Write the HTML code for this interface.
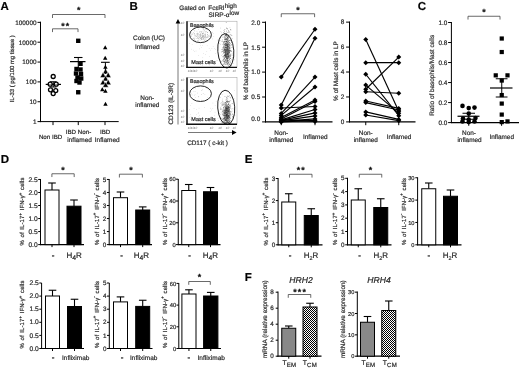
<!DOCTYPE html><html><head><meta charset="utf-8"><title>Figure</title><style>html,body{margin:0;padding:0;background:#fff}svg{display:block}text{font-family:"Liberation Sans", sans-serif;text-rendering:geometricPrecision;stroke:#2a2a2a;stroke-width:0.2px}svg{will-change:transform;filter:blur(0.3px)}</style></head><body>
<svg width="520" height="368" viewBox="0 0 520 368">
<defs><pattern id="chk" width="2" height="2" patternUnits="userSpaceOnUse"><rect width="2" height="2" fill="#fff"/><rect width="1" height="1" fill="#000"/><rect x="1" y="1" width="1" height="1" fill="#000"/></pattern></defs>
<rect width="520" height="368" fill="#fff"/>
<text x="0.6" y="10.2" font-size="11.5" text-anchor="start" fill="#000" font-weight="bold">A</text>
<text x="129.4" y="10.3" font-size="11.5" text-anchor="start" fill="#000" font-weight="bold">B</text>
<text x="417.8" y="10.2" font-size="11.5" text-anchor="start" fill="#000" font-weight="bold">C</text>
<text x="0.8" y="163.3" font-size="11.5" text-anchor="start" fill="#000" font-weight="bold">D</text>
<text x="244.8" y="163.1" font-size="11.5" text-anchor="start" fill="#000" font-weight="bold">E</text>
<text x="244.8" y="281.2" font-size="11.5" text-anchor="start" fill="#000" font-weight="bold">F</text>
<line x1="40.5" y1="21.7" x2="40.5" y2="122.1" stroke="#000" stroke-width="1" stroke-linecap="butt"/>
<line x1="40.0" y1="121.6" x2="118.7" y2="121.6" stroke="#000" stroke-width="1" stroke-linecap="butt"/>
<line x1="37.5" y1="121.6" x2="40.5" y2="121.6" stroke="#000" stroke-width="1" stroke-linecap="butt"/>
<text x="36.5" y="123.89999999999999" font-size="6.4" text-anchor="end" fill="#2a2a2a">1</text>
<line x1="37.5" y1="101.75" x2="40.5" y2="101.75" stroke="#000" stroke-width="1" stroke-linecap="butt"/>
<text x="36.5" y="104.05" font-size="6.4" text-anchor="end" fill="#2a2a2a">10</text>
<line x1="37.5" y1="81.89999999999999" x2="40.5" y2="81.89999999999999" stroke="#000" stroke-width="1" stroke-linecap="butt"/>
<text x="36.5" y="84.19999999999999" font-size="6.4" text-anchor="end" fill="#2a2a2a">100</text>
<line x1="37.5" y1="62.04999999999999" x2="40.5" y2="62.04999999999999" stroke="#000" stroke-width="1" stroke-linecap="butt"/>
<text x="36.5" y="64.35" font-size="6.4" text-anchor="end" fill="#2a2a2a">1000</text>
<line x1="37.5" y1="42.19999999999999" x2="40.5" y2="42.19999999999999" stroke="#000" stroke-width="1" stroke-linecap="butt"/>
<text x="36.5" y="44.499999999999986" font-size="6.4" text-anchor="end" fill="#2a2a2a">10000</text>
<line x1="37.5" y1="22.349999999999994" x2="40.5" y2="22.349999999999994" stroke="#000" stroke-width="1" stroke-linecap="butt"/>
<text x="36.5" y="24.649999999999995" font-size="6.4" text-anchor="end" fill="#2a2a2a">100000</text>
<line x1="53" y1="121.6" x2="53" y2="125.1" stroke="#000" stroke-width="1" stroke-linecap="butt"/>
<line x1="78.25" y1="121.6" x2="78.25" y2="125.1" stroke="#000" stroke-width="1" stroke-linecap="butt"/>
<line x1="105" y1="121.6" x2="105" y2="125.1" stroke="#000" stroke-width="1" stroke-linecap="butt"/>
<text x="13.6" y="68.8" font-size="5.9" text-anchor="middle" fill="#2a2a2a" transform="rotate(-90 13.6 68.8)">IL-33 ( pg/100 mg tissue )</text>
<text x="50.6" y="139.3" font-size="6.2" text-anchor="middle" fill="#2a2a2a">Non IBD</text>
<text x="78.5" y="134.3" font-size="6.2" text-anchor="middle" fill="#2a2a2a">IBD Non-</text>
<text x="79.6" y="141.6" font-size="6.5" text-anchor="middle" fill="#2a2a2a">inflamed</text>
<text x="105.1" y="134.3" font-size="6.2" text-anchor="middle" fill="#2a2a2a">IBD</text>
<text x="107.2" y="141.6" font-size="6.5" text-anchor="middle" fill="#2a2a2a">Inflamed</text>
<path d="M52.5 18.0V14.5H105V18.0" fill="none" stroke="#444" stroke-width="0.8"/>
<text x="78.75" y="13.3" font-size="8.8" text-anchor="middle" fill="#000" font-weight="bold">*</text>
<path d="M52.5 32.1V28.8H78V32.1" fill="none" stroke="#444" stroke-width="0.8"/>
<text x="65.85" y="28.8" font-size="8.8" text-anchor="middle" fill="#000" font-weight="bold" letter-spacing="1.2">**</text>
<line x1="45.7" y1="84.4" x2="61" y2="84.4" stroke="#000" stroke-width="1.2" stroke-linecap="butt"/>
<line x1="53.3" y1="81.75" x2="53.3" y2="87" stroke="#000" stroke-width="0.9" stroke-linecap="butt"/>
<line x1="49.75" y1="81.75" x2="56.5" y2="81.75" stroke="#000" stroke-width="1" stroke-linecap="butt"/>
<line x1="49.75" y1="87" x2="56.5" y2="87" stroke="#000" stroke-width="1" stroke-linecap="butt"/>
<circle cx="53.2" cy="76.5" r="2.0" fill="#fff" fill-opacity="0.6" stroke="#000" stroke-width="1.3"/>
<circle cx="50.2" cy="84.2" r="2.0" fill="#fff" fill-opacity="0.6" stroke="#000" stroke-width="1.3"/>
<circle cx="56.2" cy="84.2" r="2.0" fill="#fff" fill-opacity="0.6" stroke="#000" stroke-width="1.3"/>
<circle cx="50.5" cy="89.8" r="2.0" fill="#fff" fill-opacity="0.6" stroke="#000" stroke-width="1.3"/>
<circle cx="55.75" cy="90.6" r="2.0" fill="#fff" fill-opacity="0.6" stroke="#000" stroke-width="1.3"/>
<circle cx="53.2" cy="93.6" r="2.0" fill="#fff" fill-opacity="0.6" stroke="#000" stroke-width="1.3"/>
<rect x="76.05" y="38.60" width="4.4" height="4.4" fill="#000"/>
<rect x="78.3" y="61.60" width="4.4" height="4.4" fill="#000"/>
<rect x="74.3" y="66.80" width="4.4" height="4.4" fill="#000"/>
<rect x="78.3" y="67.30" width="4.4" height="4.4" fill="#000"/>
<rect x="73.8" y="71.30" width="4.4" height="4.4" fill="#000"/>
<rect x="78.8" y="71.80" width="4.4" height="4.4" fill="#000"/>
<rect x="75.3" y="75.30" width="4.4" height="4.4" fill="#000"/>
<rect x="79.0" y="76.30" width="4.4" height="4.4" fill="#000"/>
<rect x="74.3" y="78.80" width="4.4" height="4.4" fill="#000"/>
<rect x="77.3" y="80.30" width="4.4" height="4.4" fill="#000"/>
<rect x="76.05" y="90.05" width="4.4" height="4.4" fill="#000"/>
<line x1="70" y1="61.6" x2="85.5" y2="61.6" stroke="#000" stroke-width="1.25" stroke-linecap="butt"/>
<line x1="78.25" y1="57.5" x2="78.25" y2="68" stroke="#000" stroke-width="1" stroke-linecap="butt"/>
<line x1="74" y1="57.5" x2="82.5" y2="57.5" stroke="#000" stroke-width="1.1" stroke-linecap="butt"/>
<path d="M105.2 45.20L107.4 49.30H103.0Z" fill="#000"/>
<path d="M105.2 55.70L107.4 59.80H103.0Z" fill="#000"/>
<path d="M105.4 64.70L107.60000000000001 68.80H103.2Z" fill="#000"/>
<path d="M102.3 87.10L104.5 91.20H100.1Z" fill="#000"/>
<path d="M105.4 88.70L107.60000000000001 92.80H103.2Z" fill="#000"/>
<path d="M105.5 101.70L107.7 105.80H103.3Z" fill="#000"/>
<path d="M105.6 68.50L108.5 73.80H102.69999999999999Z" fill="#000" stroke="#fff" stroke-width="0.45"/>
<path d="M103 72.20L105.9 77.50H100.1Z" fill="#000" stroke="#fff" stroke-width="0.45"/>
<path d="M108.2 72.20L111.10000000000001 77.50H105.3Z" fill="#000" stroke="#fff" stroke-width="0.45"/>
<path d="M105.6 75.60L108.5 80.90H102.69999999999999Z" fill="#000" stroke="#fff" stroke-width="0.45"/>
<path d="M103 79.40L105.9 84.70H100.1Z" fill="#000" stroke="#fff" stroke-width="0.45"/>
<path d="M108.2 79.40L111.10000000000001 84.70H105.3Z" fill="#000" stroke="#fff" stroke-width="0.45"/>
<path d="M105.6 82.00L108.5 87.30H102.69999999999999Z" fill="#000" stroke="#fff" stroke-width="0.45"/>
<line x1="101" y1="62.3" x2="109.7" y2="62.3" stroke="#000" stroke-width="1.1" stroke-linecap="butt"/>
<line x1="105.4" y1="62.3" x2="105.4" y2="74" stroke="#000" stroke-width="1" stroke-linecap="butt"/>
<text x="179.3" y="9.6" font-size="6.3" text-anchor="start" fill="#2a2a2a">Gated on</text>
<text x="208.3" y="9.6" font-size="6.4" text-anchor="start" fill="#2a2a2a">FcεRI<tspan dy="-2.1" font-size="6.4">high</tspan><tspan dy="2.1">​</tspan></text>
<text x="208.5" y="17.3" font-size="6.5" text-anchor="start" fill="#2a2a2a">SIRP-α<tspan dy="-2.3" font-size="6.4">low</tspan><tspan dy="2.3">​</tspan></text>
<text x="149" y="40.2" font-size="6.4" text-anchor="middle" fill="#2a2a2a">Colon (UC)</text>
<text x="147.3" y="49.3" font-size="6.4" text-anchor="middle" fill="#2a2a2a">Inflamed</text>
<text x="147.3" y="100.2" font-size="6.4" text-anchor="middle" fill="#2a2a2a">Non-</text>
<text x="147.3" y="107.2" font-size="6.4" text-anchor="middle" fill="#2a2a2a">inflamed</text>
<text x="173.4" y="103.7" font-size="6.4" text-anchor="middle" fill="#2a2a2a" transform="rotate(-90 173.4 103.7)">CD123 (IL-3R)</text>
<text x="207.5" y="144.8" font-size="6.4" text-anchor="middle" fill="#2a2a2a">CD117 ( c-kit )</text>
<line x1="178" y1="124.5" x2="178" y2="22" stroke="#555" stroke-width="0.8" stroke-linecap="butt"/>
<path d="M178 19L175.6 23.4H180.4Z" fill="#000"/>
<line x1="188" y1="132.5" x2="233" y2="132.5" stroke="#555" stroke-width="0.8" stroke-linecap="butt"/>
<path d="M236.6 132.5L232 130.1V134.9Z" fill="#000"/>
<rect x="187" y="21.2" width="50" height="46.2" fill="#fff" stroke="#999" stroke-width="0.5"/>
<g><rect x="199.9" y="36.8" width="0.5" height="0.5" fill="#8a8a8a"/><rect x="200.1" y="34.4" width="0.5" height="0.5" fill="#8a8a8a"/><rect x="197.1" y="34.7" width="0.5" height="0.5" fill="#8a8a8a"/><rect x="205.7" y="36.6" width="0.5" height="0.5" fill="#8a8a8a"/><rect x="205.4" y="36.0" width="0.5" height="0.5" fill="#8a8a8a"/><rect x="202.7" y="35.9" width="0.5" height="0.5" fill="#8a8a8a"/><rect x="194.0" y="37.9" width="0.5" height="0.5" fill="#8a8a8a"/><rect x="203.1" y="36.8" width="0.5" height="0.5" fill="#8a8a8a"/><rect x="193.9" y="30.1" width="0.5" height="0.5" fill="#8a8a8a"/><rect x="197.3" y="33.9" width="0.5" height="0.5" fill="#8a8a8a"/><rect x="202.3" y="35.2" width="0.5" height="0.5" fill="#8a8a8a"/><rect x="203.2" y="33.4" width="0.5" height="0.5" fill="#8a8a8a"/><rect x="202.3" y="36.5" width="0.5" height="0.5" fill="#8a8a8a"/><rect x="198.2" y="40.5" width="0.5" height="0.5" fill="#8a8a8a"/><rect x="203.3" y="38.9" width="0.5" height="0.5" fill="#8a8a8a"/><rect x="198.4" y="33.1" width="0.5" height="0.5" fill="#8a8a8a"/><rect x="199.6" y="35.0" width="0.5" height="0.5" fill="#8a8a8a"/><rect x="203.7" y="36.0" width="0.5" height="0.5" fill="#8a8a8a"/><rect x="199.1" y="32.4" width="0.5" height="0.5" fill="#8a8a8a"/><rect x="198.8" y="39.0" width="0.5" height="0.5" fill="#8a8a8a"/><rect x="197.6" y="36.0" width="0.5" height="0.5" fill="#8a8a8a"/><rect x="202.8" y="30.8" width="0.5" height="0.5" fill="#8a8a8a"/><rect x="201.2" y="39.2" width="0.5" height="0.5" fill="#8a8a8a"/><rect x="192.5" y="34.3" width="0.5" height="0.5" fill="#8a8a8a"/><rect x="200.6" y="32.8" width="0.5" height="0.5" fill="#8a8a8a"/><rect x="203.1" y="35.1" width="0.5" height="0.5" fill="#8a8a8a"/><rect x="194.8" y="37.8" width="0.5" height="0.5" fill="#8a8a8a"/><rect x="203.8" y="38.1" width="0.5" height="0.5" fill="#8a8a8a"/><rect x="207.1" y="36.4" width="0.5" height="0.5" fill="#8a8a8a"/><rect x="201.5" y="31.4" width="0.5" height="0.5" fill="#8a8a8a"/><rect x="203.6" y="33.5" width="0.5" height="0.5" fill="#8a8a8a"/><rect x="199.1" y="31.5" width="0.5" height="0.5" fill="#8a8a8a"/><rect x="196.9" y="33.7" width="0.5" height="0.5" fill="#8a8a8a"/><rect x="206.4" y="29.2" width="0.5" height="0.5" fill="#8a8a8a"/><rect x="194.9" y="36.0" width="0.5" height="0.5" fill="#8a8a8a"/><rect x="207.1" y="37.0" width="0.5" height="0.5" fill="#8a8a8a"/><rect x="193.0" y="29.0" width="0.5" height="0.5" fill="#8a8a8a"/><rect x="202.5" y="33.1" width="0.5" height="0.5" fill="#8a8a8a"/><rect x="196.3" y="38.2" width="0.5" height="0.5" fill="#8a8a8a"/><rect x="205.6" y="35.8" width="0.5" height="0.5" fill="#8a8a8a"/><rect x="202.0" y="36.6" width="0.5" height="0.5" fill="#8a8a8a"/><rect x="207.7" y="37.2" width="0.5" height="0.5" fill="#8a8a8a"/><rect x="203.2" y="36.9" width="0.5" height="0.5" fill="#8a8a8a"/><rect x="194.4" y="39.1" width="0.5" height="0.5" fill="#8a8a8a"/><rect x="205.0" y="36.9" width="0.5" height="0.5" fill="#8a8a8a"/><rect x="192.7" y="33.4" width="0.5" height="0.5" fill="#8a8a8a"/><rect x="204.5" y="29.9" width="0.5" height="0.5" fill="#8a8a8a"/><rect x="200.2" y="38.4" width="0.5" height="0.5" fill="#8a8a8a"/><rect x="195.5" y="40.1" width="0.5" height="0.5" fill="#8a8a8a"/><rect x="203.3" y="34.8" width="0.5" height="0.5" fill="#8a8a8a"/><rect x="202.4" y="37.2" width="0.5" height="0.5" fill="#8a8a8a"/><rect x="201.5" y="38.7" width="0.5" height="0.5" fill="#8a8a8a"/><rect x="198.2" y="34.1" width="0.5" height="0.5" fill="#8a8a8a"/><rect x="205.4" y="35.4" width="0.5" height="0.5" fill="#8a8a8a"/><rect x="197.3" y="38.1" width="0.5" height="0.5" fill="#8a8a8a"/><rect x="207.2" y="34.0" width="0.5" height="0.5" fill="#8a8a8a"/><rect x="195.2" y="34.9" width="0.5" height="0.5" fill="#8a8a8a"/><rect x="200.4" y="34.4" width="0.5" height="0.5" fill="#8a8a8a"/><rect x="206.9" y="32.2" width="0.5" height="0.5" fill="#8a8a8a"/><rect x="206.3" y="31.5" width="0.5" height="0.5" fill="#8a8a8a"/><rect x="197.7" y="37.2" width="0.5" height="0.5" fill="#8a8a8a"/><rect x="205.7" y="37.9" width="0.5" height="0.5" fill="#8a8a8a"/><rect x="202.4" y="35.7" width="0.5" height="0.5" fill="#8a8a8a"/><rect x="201.6" y="37.0" width="0.5" height="0.5" fill="#8a8a8a"/><rect x="200.3" y="36.1" width="0.5" height="0.5" fill="#8a8a8a"/><rect x="203.4" y="35.3" width="0.5" height="0.5" fill="#8a8a8a"/><rect x="204.2" y="37.0" width="0.5" height="0.5" fill="#8a8a8a"/><rect x="209.4" y="36.3" width="0.5" height="0.5" fill="#8a8a8a"/><rect x="199.2" y="34.2" width="0.5" height="0.5" fill="#8a8a8a"/><rect x="200.9" y="38.1" width="0.5" height="0.5" fill="#8a8a8a"/><rect x="199.6" y="36.5" width="0.5" height="0.5" fill="#8a8a8a"/><rect x="208.7" y="29.0" width="0.5" height="0.5" fill="#8a8a8a"/><rect x="196.3" y="36.0" width="0.5" height="0.5" fill="#8a8a8a"/><rect x="202.7" y="36.0" width="0.5" height="0.5" fill="#8a8a8a"/><rect x="199.2" y="37.3" width="0.5" height="0.5" fill="#8a8a8a"/><rect x="202.2" y="33.7" width="0.5" height="0.5" fill="#8a8a8a"/><rect x="211.2" y="36.4" width="0.5" height="0.5" fill="#8a8a8a"/><rect x="198.7" y="35.0" width="0.5" height="0.5" fill="#8a8a8a"/><rect x="200.1" y="35.1" width="0.5" height="0.5" fill="#8a8a8a"/><rect x="189.5" y="33.8" width="0.5" height="0.5" fill="#8a8a8a"/><rect x="205.2" y="31.8" width="0.5" height="0.5" fill="#8a8a8a"/><rect x="200.7" y="38.2" width="0.5" height="0.5" fill="#8a8a8a"/><rect x="204.6" y="39.8" width="0.5" height="0.5" fill="#8a8a8a"/><rect x="193.9" y="34.2" width="0.5" height="0.5" fill="#8a8a8a"/><rect x="199.6" y="37.2" width="0.5" height="0.5" fill="#8a8a8a"/><rect x="205.6" y="29.0" width="0.5" height="0.5" fill="#8a8a8a"/><rect x="205.6" y="31.0" width="0.5" height="0.5" fill="#8a8a8a"/><rect x="203.9" y="30.8" width="0.5" height="0.5" fill="#8a8a8a"/><rect x="201.7" y="38.9" width="0.5" height="0.5" fill="#8a8a8a"/><rect x="200.4" y="35.9" width="0.5" height="0.5" fill="#8a8a8a"/><rect x="204.3" y="35.7" width="0.5" height="0.5" fill="#8a8a8a"/><rect x="200.6" y="39.9" width="0.5" height="0.5" fill="#8a8a8a"/><rect x="205.4" y="34.4" width="0.5" height="0.5" fill="#8a8a8a"/><rect x="212.5" y="31.9" width="0.5" height="0.5" fill="#8a8a8a"/><rect x="204.8" y="34.5" width="0.5" height="0.5" fill="#8a8a8a"/><rect x="201.6" y="37.4" width="0.5" height="0.5" fill="#8a8a8a"/><rect x="201.9" y="37.2" width="0.5" height="0.5" fill="#8a8a8a"/><rect x="194.6" y="30.8" width="0.5" height="0.5" fill="#8a8a8a"/><rect x="203.6" y="32.4" width="0.5" height="0.5" fill="#8a8a8a"/><rect x="196.7" y="30.9" width="0.5" height="0.5" fill="#8a8a8a"/><rect x="206.3" y="37.5" width="0.5" height="0.5" fill="#8a8a8a"/><rect x="207.2" y="32.5" width="0.5" height="0.5" fill="#8a8a8a"/><rect x="201.0" y="31.9" width="0.5" height="0.5" fill="#8a8a8a"/><rect x="204.2" y="40.1" width="0.5" height="0.5" fill="#8a8a8a"/><rect x="197.3" y="40.0" width="0.5" height="0.5" fill="#8a8a8a"/><rect x="205.1" y="34.8" width="0.5" height="0.5" fill="#8a8a8a"/><rect x="192.7" y="39.5" width="0.5" height="0.5" fill="#8a8a8a"/><rect x="200.6" y="33.5" width="0.5" height="0.5" fill="#8a8a8a"/><rect x="202.7" y="36.5" width="0.5" height="0.5" fill="#8a8a8a"/><rect x="207.3" y="32.2" width="0.5" height="0.5" fill="#8a8a8a"/><rect x="205.8" y="39.8" width="0.5" height="0.5" fill="#8a8a8a"/><rect x="207.1" y="34.8" width="0.5" height="0.5" fill="#8a8a8a"/><rect x="197.9" y="38.4" width="0.5" height="0.5" fill="#8a8a8a"/><rect x="201.5" y="35.7" width="0.5" height="0.5" fill="#8a8a8a"/><rect x="207.0" y="34.5" width="0.5" height="0.5" fill="#8a8a8a"/><rect x="191.4" y="34.1" width="0.5" height="0.5" fill="#8a8a8a"/><rect x="193.2" y="37.8" width="0.5" height="0.5" fill="#8a8a8a"/><rect x="202.3" y="33.5" width="0.5" height="0.5" fill="#8a8a8a"/><rect x="201.0" y="37.8" width="0.5" height="0.5" fill="#8a8a8a"/><rect x="201.3" y="39.3" width="0.5" height="0.5" fill="#8a8a8a"/><rect x="200.7" y="38.4" width="0.5" height="0.5" fill="#8a8a8a"/><rect x="207.3" y="40.1" width="0.5" height="0.5" fill="#8a8a8a"/><rect x="198.2" y="37.9" width="0.5" height="0.5" fill="#8a8a8a"/><rect x="193.1" y="32.0" width="0.5" height="0.5" fill="#8a8a8a"/><rect x="192.8" y="38.5" width="0.5" height="0.5" fill="#8a8a8a"/><rect x="195.8" y="35.3" width="0.5" height="0.5" fill="#8a8a8a"/><rect x="200.2" y="35.2" width="0.5" height="0.5" fill="#8a8a8a"/><rect x="198.5" y="36.0" width="0.5" height="0.5" fill="#8a8a8a"/><rect x="208.5" y="35.4" width="0.5" height="0.5" fill="#8a8a8a"/><rect x="203.2" y="38.3" width="0.5" height="0.5" fill="#8a8a8a"/><rect x="200.2" y="31.5" width="0.5" height="0.5" fill="#8a8a8a"/><rect x="198.7" y="38.5" width="0.5" height="0.5" fill="#8a8a8a"/><rect x="194.1" y="33.5" width="0.5" height="0.5" fill="#8a8a8a"/><rect x="205.2" y="37.7" width="0.5" height="0.5" fill="#8a8a8a"/><rect x="201.0" y="37.7" width="0.5" height="0.5" fill="#8a8a8a"/><rect x="201.7" y="31.8" width="0.5" height="0.5" fill="#8a8a8a"/><rect x="194.4" y="33.4" width="0.5" height="0.5" fill="#8a8a8a"/><rect x="204.9" y="33.6" width="0.5" height="0.5" fill="#8a8a8a"/><rect x="197.2" y="33.0" width="0.5" height="0.5" fill="#8a8a8a"/><rect x="194.6" y="34.9" width="0.5" height="0.5" fill="#8a8a8a"/><rect x="196.0" y="36.4" width="0.5" height="0.5" fill="#8a8a8a"/><rect x="191.1" y="36.3" width="0.5" height="0.5" fill="#8a8a8a"/><rect x="198.3" y="29.5" width="0.5" height="0.5" fill="#8a8a8a"/><rect x="204.0" y="34.5" width="0.5" height="0.5" fill="#8a8a8a"/><rect x="191.6" y="32.7" width="0.5" height="0.5" fill="#8a8a8a"/><rect x="202.2" y="33.9" width="0.5" height="0.5" fill="#8a8a8a"/><rect x="204.3" y="37.5" width="0.5" height="0.5" fill="#8a8a8a"/><rect x="203.8" y="36.3" width="0.5" height="0.5" fill="#8a8a8a"/><rect x="206.6" y="37.3" width="0.5" height="0.5" fill="#8a8a8a"/><rect x="202.9" y="29.0" width="0.5" height="0.5" fill="#8a8a8a"/><rect x="204.8" y="39.2" width="0.5" height="0.5" fill="#8a8a8a"/><rect x="199.8" y="33.9" width="0.5" height="0.5" fill="#8a8a8a"/><rect x="209.1" y="30.0" width="0.5" height="0.5" fill="#8a8a8a"/><rect x="203.0" y="42.6" width="0.5" height="0.5" fill="#8a8a8a"/><rect x="197.1" y="37.4" width="0.5" height="0.5" fill="#8a8a8a"/><rect x="208.9" y="34.9" width="0.5" height="0.5" fill="#8a8a8a"/><rect x="203.4" y="38.0" width="0.5" height="0.5" fill="#8a8a8a"/><rect x="197.2" y="35.0" width="0.5" height="0.5" fill="#8a8a8a"/><rect x="202.2" y="37.8" width="0.5" height="0.5" fill="#8a8a8a"/><rect x="200.9" y="34.7" width="0.5" height="0.5" fill="#8a8a8a"/><rect x="196.7" y="34.2" width="0.5" height="0.5" fill="#8a8a8a"/><rect x="204.7" y="35.6" width="0.5" height="0.5" fill="#8a8a8a"/><rect x="197.4" y="32.8" width="0.5" height="0.5" fill="#8a8a8a"/><rect x="212.2" y="38.7" width="0.5" height="0.5" fill="#8a8a8a"/><rect x="203.7" y="29.0" width="0.5" height="0.5" fill="#8a8a8a"/><rect x="203.6" y="36.7" width="0.5" height="0.5" fill="#8a8a8a"/><rect x="208.1" y="36.6" width="0.5" height="0.5" fill="#8a8a8a"/><rect x="200.7" y="36.9" width="0.5" height="0.5" fill="#8a8a8a"/><rect x="192.8" y="38.4" width="0.5" height="0.5" fill="#8a8a8a"/><rect x="202.4" y="33.2" width="0.5" height="0.5" fill="#8a8a8a"/><rect x="229.0" y="64.5" width="0.55" height="0.55" fill="#333"/><rect x="224.1" y="44.7" width="0.55" height="0.55" fill="#333"/><rect x="227.1" y="51.5" width="0.55" height="0.55" fill="#333"/><rect x="225.9" y="42.2" width="0.55" height="0.55" fill="#333"/><rect x="230.4" y="58.3" width="0.55" height="0.55" fill="#333"/><rect x="224.5" y="39.2" width="0.55" height="0.55" fill="#333"/><rect x="229.7" y="57.9" width="0.55" height="0.55" fill="#333"/><rect x="229.9" y="56.5" width="0.55" height="0.55" fill="#333"/><rect x="225.0" y="52.1" width="0.55" height="0.55" fill="#333"/><rect x="222.7" y="44.0" width="0.55" height="0.55" fill="#333"/><rect x="226.5" y="54.2" width="0.55" height="0.55" fill="#333"/><rect x="225.3" y="49.0" width="0.55" height="0.55" fill="#333"/><rect x="227.4" y="53.0" width="0.55" height="0.55" fill="#333"/><rect x="227.7" y="51.7" width="0.55" height="0.55" fill="#333"/><rect x="226.0" y="56.3" width="0.55" height="0.55" fill="#333"/><rect x="226.7" y="43.4" width="0.55" height="0.55" fill="#333"/><rect x="225.5" y="50.0" width="0.55" height="0.55" fill="#333"/><rect x="226.4" y="51.3" width="0.55" height="0.55" fill="#333"/><rect x="226.6" y="51.4" width="0.55" height="0.55" fill="#333"/><rect x="226.4" y="39.9" width="0.55" height="0.55" fill="#333"/><rect x="227.4" y="58.4" width="0.55" height="0.55" fill="#333"/><rect x="227.4" y="48.5" width="0.55" height="0.55" fill="#333"/><rect x="227.4" y="42.3" width="0.55" height="0.55" fill="#333"/><rect x="223.2" y="50.5" width="0.55" height="0.55" fill="#333"/><rect x="224.9" y="55.9" width="0.55" height="0.55" fill="#333"/><rect x="224.6" y="29.0" width="0.55" height="0.55" fill="#333"/><rect x="224.7" y="62.6" width="0.55" height="0.55" fill="#333"/><rect x="225.9" y="39.0" width="0.55" height="0.55" fill="#333"/><rect x="225.2" y="54.2" width="0.55" height="0.55" fill="#333"/><rect x="227.5" y="51.4" width="0.55" height="0.55" fill="#333"/><rect x="229.3" y="55.7" width="0.55" height="0.55" fill="#333"/><rect x="226.6" y="54.8" width="0.55" height="0.55" fill="#333"/><rect x="229.6" y="57.8" width="0.55" height="0.55" fill="#333"/><rect x="228.4" y="41.3" width="0.55" height="0.55" fill="#333"/><rect x="226.3" y="55.8" width="0.55" height="0.55" fill="#333"/><rect x="226.1" y="58.6" width="0.55" height="0.55" fill="#333"/><rect x="227.7" y="57.3" width="0.55" height="0.55" fill="#333"/><rect x="228.8" y="48.3" width="0.55" height="0.55" fill="#333"/><rect x="226.0" y="57.0" width="0.55" height="0.55" fill="#333"/><rect x="228.4" y="50.1" width="0.55" height="0.55" fill="#333"/><rect x="224.5" y="51.5" width="0.55" height="0.55" fill="#333"/><rect x="227.2" y="59.0" width="0.55" height="0.55" fill="#333"/><rect x="228.0" y="50.2" width="0.55" height="0.55" fill="#333"/><rect x="228.1" y="54.3" width="0.55" height="0.55" fill="#333"/><rect x="227.0" y="50.4" width="0.55" height="0.55" fill="#333"/><rect x="226.2" y="55.5" width="0.55" height="0.55" fill="#333"/><rect x="224.7" y="45.0" width="0.55" height="0.55" fill="#333"/><rect x="226.6" y="38.3" width="0.55" height="0.55" fill="#333"/><rect x="225.8" y="33.9" width="0.55" height="0.55" fill="#333"/><rect x="225.4" y="54.5" width="0.55" height="0.55" fill="#333"/><rect x="227.6" y="49.6" width="0.55" height="0.55" fill="#333"/><rect x="226.2" y="38.7" width="0.55" height="0.55" fill="#333"/><rect x="229.9" y="54.1" width="0.55" height="0.55" fill="#333"/><rect x="228.6" y="42.9" width="0.55" height="0.55" fill="#333"/><rect x="226.3" y="35.4" width="0.55" height="0.55" fill="#333"/><rect x="228.0" y="57.5" width="0.55" height="0.55" fill="#333"/><rect x="223.2" y="49.6" width="0.55" height="0.55" fill="#333"/><rect x="227.7" y="35.9" width="0.55" height="0.55" fill="#333"/><rect x="223.3" y="41.5" width="0.55" height="0.55" fill="#333"/><rect x="225.5" y="38.8" width="0.55" height="0.55" fill="#333"/><rect x="226.7" y="52.0" width="0.55" height="0.55" fill="#333"/><rect x="227.7" y="55.6" width="0.55" height="0.55" fill="#333"/><rect x="229.3" y="59.3" width="0.55" height="0.55" fill="#333"/><rect x="224.2" y="46.0" width="0.55" height="0.55" fill="#333"/><rect x="224.7" y="41.4" width="0.55" height="0.55" fill="#333"/><rect x="226.5" y="50.0" width="0.55" height="0.55" fill="#333"/><rect x="227.5" y="37.3" width="0.55" height="0.55" fill="#333"/><rect x="224.4" y="49.8" width="0.55" height="0.55" fill="#333"/><rect x="226.2" y="47.5" width="0.55" height="0.55" fill="#333"/><rect x="226.5" y="43.9" width="0.55" height="0.55" fill="#333"/><rect x="227.9" y="52.8" width="0.55" height="0.55" fill="#333"/><rect x="226.4" y="44.6" width="0.55" height="0.55" fill="#333"/><rect x="226.3" y="28.2" width="0.55" height="0.55" fill="#333"/><rect x="224.8" y="50.3" width="0.55" height="0.55" fill="#333"/><rect x="223.9" y="51.6" width="0.55" height="0.55" fill="#333"/><rect x="226.9" y="39.0" width="0.55" height="0.55" fill="#333"/><rect x="226.1" y="47.5" width="0.55" height="0.55" fill="#333"/><rect x="227.4" y="54.9" width="0.55" height="0.55" fill="#333"/><rect x="226.5" y="43.2" width="0.55" height="0.55" fill="#333"/><rect x="226.3" y="49.5" width="0.55" height="0.55" fill="#333"/><rect x="227.9" y="52.4" width="0.55" height="0.55" fill="#333"/><rect x="225.3" y="39.2" width="0.55" height="0.55" fill="#333"/><rect x="225.9" y="44.1" width="0.55" height="0.55" fill="#333"/><rect x="224.6" y="49.1" width="0.55" height="0.55" fill="#333"/><rect x="225.7" y="50.8" width="0.55" height="0.55" fill="#333"/><rect x="227.5" y="46.7" width="0.55" height="0.55" fill="#333"/><rect x="230.8" y="47.4" width="0.55" height="0.55" fill="#333"/><rect x="228.6" y="51.0" width="0.55" height="0.55" fill="#333"/><rect x="228.6" y="31.0" width="0.55" height="0.55" fill="#333"/><rect x="225.2" y="52.0" width="0.55" height="0.55" fill="#333"/><rect x="227.2" y="60.2" width="0.55" height="0.55" fill="#333"/><rect x="228.0" y="57.6" width="0.55" height="0.55" fill="#333"/><rect x="227.5" y="48.8" width="0.55" height="0.55" fill="#333"/><rect x="227.5" y="41.4" width="0.55" height="0.55" fill="#333"/><rect x="228.7" y="41.9" width="0.55" height="0.55" fill="#333"/><rect x="226.2" y="50.2" width="0.55" height="0.55" fill="#333"/><rect x="228.7" y="50.2" width="0.55" height="0.55" fill="#333"/><rect x="225.1" y="52.1" width="0.55" height="0.55" fill="#333"/><rect x="227.6" y="55.7" width="0.55" height="0.55" fill="#333"/><rect x="225.2" y="64.0" width="0.55" height="0.55" fill="#333"/><rect x="229.6" y="50.1" width="0.55" height="0.55" fill="#333"/><rect x="227.1" y="46.6" width="0.55" height="0.55" fill="#333"/><rect x="229.1" y="44.4" width="0.55" height="0.55" fill="#333"/><rect x="227.8" y="46.2" width="0.55" height="0.55" fill="#333"/><rect x="225.4" y="55.7" width="0.55" height="0.55" fill="#333"/><rect x="229.0" y="49.9" width="0.55" height="0.55" fill="#333"/><rect x="225.4" y="56.5" width="0.55" height="0.55" fill="#333"/><rect x="226.5" y="52.5" width="0.55" height="0.55" fill="#333"/><rect x="229.3" y="59.1" width="0.55" height="0.55" fill="#333"/><rect x="226.6" y="56.3" width="0.55" height="0.55" fill="#333"/><rect x="225.4" y="49.6" width="0.55" height="0.55" fill="#333"/><rect x="223.5" y="64.3" width="0.55" height="0.55" fill="#333"/><rect x="229.1" y="40.3" width="0.55" height="0.55" fill="#333"/><rect x="223.9" y="37.0" width="0.55" height="0.55" fill="#333"/><rect x="228.7" y="46.3" width="0.55" height="0.55" fill="#333"/><rect x="226.5" y="47.5" width="0.55" height="0.55" fill="#333"/><rect x="226.4" y="41.3" width="0.55" height="0.55" fill="#333"/><rect x="226.6" y="38.5" width="0.55" height="0.55" fill="#333"/><rect x="226.5" y="52.5" width="0.55" height="0.55" fill="#333"/><rect x="227.4" y="48.1" width="0.55" height="0.55" fill="#333"/><rect x="225.0" y="51.3" width="0.55" height="0.55" fill="#333"/><rect x="225.7" y="62.5" width="0.55" height="0.55" fill="#333"/><rect x="228.0" y="49.1" width="0.55" height="0.55" fill="#333"/><rect x="225.8" y="44.4" width="0.55" height="0.55" fill="#333"/><rect x="224.9" y="47.2" width="0.55" height="0.55" fill="#333"/><rect x="227.1" y="54.1" width="0.55" height="0.55" fill="#333"/><rect x="225.3" y="50.1" width="0.55" height="0.55" fill="#333"/><rect x="231.6" y="35.1" width="0.55" height="0.55" fill="#333"/><rect x="225.7" y="51.4" width="0.55" height="0.55" fill="#333"/><rect x="226.9" y="53.3" width="0.55" height="0.55" fill="#333"/><rect x="226.2" y="52.9" width="0.55" height="0.55" fill="#333"/><rect x="226.7" y="56.2" width="0.55" height="0.55" fill="#333"/><rect x="223.2" y="42.9" width="0.55" height="0.55" fill="#333"/><rect x="226.6" y="41.7" width="0.55" height="0.55" fill="#333"/><rect x="224.7" y="55.0" width="0.55" height="0.55" fill="#333"/><rect x="225.4" y="55.1" width="0.55" height="0.55" fill="#333"/><rect x="227.9" y="52.5" width="0.55" height="0.55" fill="#333"/><rect x="227.5" y="49.2" width="0.55" height="0.55" fill="#333"/><rect x="224.1" y="49.8" width="0.55" height="0.55" fill="#333"/><rect x="227.4" y="45.8" width="0.55" height="0.55" fill="#333"/><rect x="226.4" y="56.0" width="0.55" height="0.55" fill="#333"/><rect x="225.0" y="55.1" width="0.55" height="0.55" fill="#333"/><rect x="230.0" y="45.6" width="0.55" height="0.55" fill="#333"/><rect x="226.9" y="48.8" width="0.55" height="0.55" fill="#333"/><rect x="229.4" y="52.5" width="0.55" height="0.55" fill="#333"/><rect x="228.2" y="44.5" width="0.55" height="0.55" fill="#333"/><rect x="226.6" y="49.9" width="0.55" height="0.55" fill="#333"/><rect x="223.4" y="61.5" width="0.55" height="0.55" fill="#333"/><rect x="228.2" y="36.0" width="0.55" height="0.55" fill="#333"/><rect x="227.9" y="49.0" width="0.55" height="0.55" fill="#333"/><rect x="227.4" y="52.9" width="0.55" height="0.55" fill="#333"/><rect x="223.9" y="48.3" width="0.55" height="0.55" fill="#333"/><rect x="229.3" y="45.4" width="0.55" height="0.55" fill="#333"/><rect x="224.8" y="39.1" width="0.55" height="0.55" fill="#333"/><rect x="224.4" y="52.7" width="0.55" height="0.55" fill="#333"/><rect x="229.6" y="53.4" width="0.55" height="0.55" fill="#333"/><rect x="225.7" y="44.6" width="0.55" height="0.55" fill="#333"/><rect x="227.6" y="54.4" width="0.55" height="0.55" fill="#333"/><rect x="224.8" y="40.6" width="0.55" height="0.55" fill="#333"/><rect x="227.1" y="52.0" width="0.55" height="0.55" fill="#333"/><rect x="224.2" y="48.4" width="0.55" height="0.55" fill="#333"/><rect x="225.6" y="53.7" width="0.55" height="0.55" fill="#333"/><rect x="226.4" y="49.3" width="0.55" height="0.55" fill="#333"/><rect x="226.0" y="58.4" width="0.55" height="0.55" fill="#333"/><rect x="229.1" y="47.1" width="0.55" height="0.55" fill="#333"/><rect x="228.1" y="43.9" width="0.55" height="0.55" fill="#333"/><rect x="226.7" y="56.0" width="0.55" height="0.55" fill="#333"/><rect x="229.3" y="46.9" width="0.55" height="0.55" fill="#333"/><rect x="226.5" y="51.6" width="0.55" height="0.55" fill="#333"/><rect x="223.9" y="50.1" width="0.55" height="0.55" fill="#333"/><rect x="225.4" y="53.0" width="0.55" height="0.55" fill="#333"/><rect x="224.6" y="34.2" width="0.55" height="0.55" fill="#333"/><rect x="226.7" y="52.1" width="0.55" height="0.55" fill="#333"/><rect x="225.6" y="57.1" width="0.55" height="0.55" fill="#333"/><rect x="226.1" y="45.2" width="0.55" height="0.55" fill="#333"/><rect x="227.5" y="37.5" width="0.55" height="0.55" fill="#333"/><rect x="225.4" y="49.8" width="0.55" height="0.55" fill="#333"/><rect x="228.1" y="48.7" width="0.55" height="0.55" fill="#333"/><rect x="227.2" y="44.8" width="0.55" height="0.55" fill="#333"/><rect x="227.1" y="63.3" width="0.55" height="0.55" fill="#333"/><rect x="225.4" y="50.1" width="0.55" height="0.55" fill="#333"/><rect x="226.9" y="58.2" width="0.55" height="0.55" fill="#333"/><rect x="224.4" y="33.2" width="0.55" height="0.55" fill="#333"/><rect x="227.7" y="56.4" width="0.55" height="0.55" fill="#333"/><rect x="227.0" y="52.0" width="0.55" height="0.55" fill="#333"/><rect x="228.3" y="53.0" width="0.55" height="0.55" fill="#333"/><rect x="229.6" y="40.1" width="0.55" height="0.55" fill="#333"/><rect x="225.9" y="22.4" width="0.55" height="0.55" fill="#333"/><rect x="228.1" y="47.0" width="0.55" height="0.55" fill="#333"/><rect x="226.6" y="48.0" width="0.55" height="0.55" fill="#333"/><rect x="225.7" y="43.3" width="0.55" height="0.55" fill="#333"/><rect x="225.5" y="55.1" width="0.55" height="0.55" fill="#333"/><rect x="226.7" y="50.5" width="0.55" height="0.55" fill="#333"/><rect x="226.3" y="57.3" width="0.55" height="0.55" fill="#333"/><rect x="227.5" y="48.9" width="0.55" height="0.55" fill="#333"/><rect x="227.8" y="48.8" width="0.55" height="0.55" fill="#333"/><rect x="224.5" y="61.6" width="0.55" height="0.55" fill="#333"/><rect x="227.4" y="42.3" width="0.55" height="0.55" fill="#333"/><rect x="228.5" y="52.8" width="0.55" height="0.55" fill="#333"/><rect x="223.8" y="62.9" width="0.55" height="0.55" fill="#333"/><rect x="227.2" y="57.1" width="0.55" height="0.55" fill="#333"/><rect x="227.0" y="48.8" width="0.55" height="0.55" fill="#333"/><rect x="223.8" y="57.8" width="0.55" height="0.55" fill="#333"/><rect x="226.7" y="47.7" width="0.55" height="0.55" fill="#333"/><rect x="227.2" y="50.6" width="0.55" height="0.55" fill="#333"/><rect x="227.8" y="47.0" width="0.55" height="0.55" fill="#333"/><rect x="226.5" y="32.9" width="0.55" height="0.55" fill="#333"/><rect x="225.8" y="55.4" width="0.55" height="0.55" fill="#333"/><rect x="229.0" y="47.1" width="0.55" height="0.55" fill="#333"/><rect x="226.4" y="62.7" width="0.55" height="0.55" fill="#333"/><rect x="226.0" y="55.9" width="0.55" height="0.55" fill="#333"/><rect x="229.6" y="50.3" width="0.55" height="0.55" fill="#333"/><rect x="228.8" y="44.3" width="0.55" height="0.55" fill="#333"/><rect x="227.0" y="49.4" width="0.55" height="0.55" fill="#333"/><rect x="226.8" y="59.0" width="0.55" height="0.55" fill="#333"/><rect x="230.9" y="44.7" width="0.55" height="0.55" fill="#333"/><rect x="225.6" y="54.0" width="0.55" height="0.55" fill="#333"/><rect x="224.7" y="54.0" width="0.55" height="0.55" fill="#333"/><rect x="227.6" y="47.8" width="0.55" height="0.55" fill="#333"/><rect x="227.6" y="37.6" width="0.55" height="0.55" fill="#333"/><rect x="228.0" y="37.6" width="0.55" height="0.55" fill="#333"/><rect x="225.3" y="45.6" width="0.55" height="0.55" fill="#333"/><rect x="225.9" y="56.9" width="0.55" height="0.55" fill="#333"/><rect x="226.7" y="46.8" width="0.55" height="0.55" fill="#333"/><rect x="227.6" y="62.7" width="0.55" height="0.55" fill="#333"/><rect x="226.6" y="52.9" width="0.55" height="0.55" fill="#333"/><rect x="228.8" y="52.1" width="0.55" height="0.55" fill="#333"/><rect x="230.6" y="34.1" width="0.55" height="0.55" fill="#333"/><rect x="226.5" y="53.3" width="0.55" height="0.55" fill="#333"/><rect x="228.3" y="55.4" width="0.55" height="0.55" fill="#333"/><rect x="226.1" y="41.6" width="0.55" height="0.55" fill="#333"/><rect x="226.8" y="58.3" width="0.55" height="0.55" fill="#333"/><rect x="224.6" y="41.8" width="0.55" height="0.55" fill="#333"/><rect x="226.6" y="34.5" width="0.55" height="0.55" fill="#333"/><rect x="226.1" y="46.5" width="0.55" height="0.55" fill="#333"/><rect x="227.4" y="44.4" width="0.55" height="0.55" fill="#333"/><rect x="225.0" y="46.8" width="0.55" height="0.55" fill="#333"/><rect x="226.5" y="44.7" width="0.55" height="0.55" fill="#333"/><rect x="226.6" y="56.0" width="0.55" height="0.55" fill="#333"/><rect x="228.7" y="63.6" width="0.55" height="0.55" fill="#333"/><rect x="225.2" y="46.6" width="0.55" height="0.55" fill="#333"/><rect x="222.1" y="65.2" width="0.55" height="0.55" fill="#333"/><rect x="225.3" y="49.7" width="0.55" height="0.55" fill="#333"/><rect x="227.5" y="39.1" width="0.55" height="0.55" fill="#333"/><rect x="227.4" y="49.8" width="0.55" height="0.55" fill="#333"/><rect x="223.3" y="52.3" width="0.55" height="0.55" fill="#333"/><rect x="228.8" y="35.1" width="0.55" height="0.55" fill="#333"/><rect x="228.1" y="51.7" width="0.55" height="0.55" fill="#333"/><rect x="227.5" y="53.5" width="0.55" height="0.55" fill="#333"/><rect x="228.9" y="48.2" width="0.55" height="0.55" fill="#333"/><rect x="228.2" y="46.7" width="0.55" height="0.55" fill="#333"/><rect x="227.9" y="43.5" width="0.55" height="0.55" fill="#333"/><rect x="226.4" y="63.8" width="0.55" height="0.55" fill="#333"/><rect x="227.4" y="48.7" width="0.55" height="0.55" fill="#333"/><rect x="224.5" y="43.7" width="0.55" height="0.55" fill="#333"/><rect x="226.9" y="57.5" width="0.55" height="0.55" fill="#333"/><rect x="227.4" y="54.2" width="0.55" height="0.55" fill="#333"/><rect x="226.5" y="60.8" width="0.55" height="0.55" fill="#333"/><rect x="225.9" y="45.6" width="0.55" height="0.55" fill="#333"/><rect x="228.2" y="50.5" width="0.55" height="0.55" fill="#333"/><rect x="226.1" y="45.4" width="0.55" height="0.55" fill="#333"/><rect x="226.1" y="55.0" width="0.55" height="0.55" fill="#333"/><rect x="227.2" y="40.3" width="0.55" height="0.55" fill="#333"/><rect x="227.4" y="51.4" width="0.55" height="0.55" fill="#333"/><rect x="224.8" y="56.2" width="0.55" height="0.55" fill="#333"/><rect x="226.1" y="47.3" width="0.55" height="0.55" fill="#333"/><rect x="228.0" y="60.6" width="0.55" height="0.55" fill="#333"/><rect x="225.4" y="53.5" width="0.55" height="0.55" fill="#333"/><rect x="225.7" y="59.6" width="0.55" height="0.55" fill="#333"/><rect x="225.4" y="56.5" width="0.55" height="0.55" fill="#333"/><rect x="230.6" y="29.7" width="0.55" height="0.55" fill="#333"/><rect x="225.8" y="54.0" width="0.55" height="0.55" fill="#333"/><rect x="226.4" y="44.7" width="0.55" height="0.55" fill="#333"/><rect x="230.5" y="50.6" width="0.55" height="0.55" fill="#333"/><rect x="223.6" y="56.8" width="0.55" height="0.55" fill="#333"/><rect x="223.5" y="59.2" width="0.55" height="0.55" fill="#333"/><rect x="225.6" y="51.2" width="0.55" height="0.55" fill="#333"/><rect x="228.9" y="50.9" width="0.55" height="0.55" fill="#333"/><rect x="224.1" y="36.4" width="0.55" height="0.55" fill="#333"/><rect x="228.7" y="55.9" width="0.55" height="0.55" fill="#333"/><rect x="225.1" y="56.9" width="0.55" height="0.55" fill="#333"/><rect x="227.5" y="55.2" width="0.55" height="0.55" fill="#333"/><rect x="222.5" y="47.6" width="0.55" height="0.55" fill="#333"/><rect x="228.2" y="55.9" width="0.55" height="0.55" fill="#333"/><rect x="228.2" y="30.3" width="0.55" height="0.55" fill="#333"/><rect x="226.9" y="53.9" width="0.55" height="0.55" fill="#333"/><rect x="231.2" y="42.4" width="0.55" height="0.55" fill="#333"/><rect x="226.0" y="50.3" width="0.55" height="0.55" fill="#333"/><rect x="228.2" y="46.5" width="0.55" height="0.55" fill="#333"/><rect x="228.7" y="43.7" width="0.55" height="0.55" fill="#333"/><rect x="227.1" y="45.8" width="0.55" height="0.55" fill="#333"/><rect x="226.9" y="44.5" width="0.55" height="0.55" fill="#333"/><rect x="223.7" y="58.7" width="0.55" height="0.55" fill="#333"/><rect x="227.1" y="45.5" width="0.55" height="0.55" fill="#333"/><rect x="227.0" y="57.9" width="0.55" height="0.55" fill="#333"/><rect x="224.8" y="49.1" width="0.55" height="0.55" fill="#333"/><rect x="227.6" y="54.2" width="0.55" height="0.55" fill="#333"/><rect x="226.0" y="33.1" width="0.55" height="0.55" fill="#333"/><rect x="228.8" y="52.6" width="0.55" height="0.55" fill="#333"/><rect x="226.6" y="47.8" width="0.55" height="0.55" fill="#333"/><rect x="227.1" y="46.6" width="0.55" height="0.55" fill="#333"/><rect x="224.8" y="44.1" width="0.55" height="0.55" fill="#333"/><rect x="225.5" y="45.1" width="0.55" height="0.55" fill="#333"/><rect x="224.5" y="55.1" width="0.55" height="0.55" fill="#333"/><rect x="224.2" y="55.3" width="0.55" height="0.55" fill="#333"/><rect x="224.8" y="52.8" width="0.55" height="0.55" fill="#333"/><rect x="229.1" y="51.6" width="0.55" height="0.55" fill="#333"/><rect x="225.3" y="50.4" width="0.55" height="0.55" fill="#333"/><rect x="226.9" y="36.1" width="0.55" height="0.55" fill="#333"/><rect x="225.5" y="51.3" width="0.55" height="0.55" fill="#333"/><rect x="225.8" y="50.6" width="0.55" height="0.55" fill="#333"/><rect x="227.9" y="56.1" width="0.55" height="0.55" fill="#333"/><rect x="228.2" y="54.7" width="0.55" height="0.55" fill="#333"/><rect x="226.1" y="49.9" width="0.55" height="0.55" fill="#333"/><rect x="226.1" y="47.5" width="0.55" height="0.55" fill="#333"/><rect x="226.3" y="36.2" width="0.55" height="0.55" fill="#333"/><rect x="226.0" y="49.8" width="0.55" height="0.55" fill="#333"/><rect x="224.8" y="49.8" width="0.55" height="0.55" fill="#333"/><rect x="227.5" y="48.7" width="0.55" height="0.55" fill="#333"/><rect x="230.3" y="29.1" width="0.55" height="0.55" fill="#333"/><rect x="226.2" y="35.4" width="0.55" height="0.55" fill="#333"/><rect x="222.1" y="51.0" width="0.55" height="0.55" fill="#333"/><rect x="227.5" y="47.6" width="0.55" height="0.55" fill="#333"/><rect x="227.6" y="32.1" width="0.55" height="0.55" fill="#333"/><rect x="228.1" y="53.0" width="0.55" height="0.55" fill="#333"/><rect x="226.6" y="45.3" width="0.55" height="0.55" fill="#333"/><rect x="227.7" y="46.1" width="0.55" height="0.55" fill="#333"/><rect x="227.0" y="45.9" width="0.55" height="0.55" fill="#333"/><rect x="222.6" y="49.7" width="0.55" height="0.55" fill="#333"/><rect x="227.0" y="56.0" width="0.55" height="0.55" fill="#333"/><rect x="225.0" y="49.7" width="0.55" height="0.55" fill="#333"/><rect x="227.7" y="51.2" width="0.55" height="0.55" fill="#333"/><rect x="228.8" y="65.9" width="0.55" height="0.55" fill="#333"/><rect x="225.0" y="34.6" width="0.55" height="0.55" fill="#333"/><rect x="228.1" y="62.2" width="0.55" height="0.55" fill="#333"/><rect x="228.3" y="56.5" width="0.55" height="0.55" fill="#333"/><rect x="225.5" y="44.3" width="0.55" height="0.55" fill="#333"/><rect x="228.2" y="42.7" width="0.55" height="0.55" fill="#333"/><rect x="223.3" y="42.0" width="0.55" height="0.55" fill="#333"/><rect x="231.1" y="65.4" width="0.55" height="0.55" fill="#333"/><rect x="225.4" y="44.2" width="0.55" height="0.55" fill="#333"/><rect x="227.0" y="44.0" width="0.55" height="0.55" fill="#333"/><rect x="229.0" y="49.4" width="0.55" height="0.55" fill="#333"/><rect x="224.6" y="60.5" width="0.55" height="0.55" fill="#333"/><rect x="225.6" y="51.8" width="0.55" height="0.55" fill="#333"/><rect x="226.6" y="47.5" width="0.55" height="0.55" fill="#333"/><rect x="227.2" y="44.5" width="0.55" height="0.55" fill="#333"/><rect x="223.3" y="32.3" width="0.55" height="0.55" fill="#333"/><rect x="224.3" y="43.9" width="0.55" height="0.55" fill="#333"/><rect x="226.6" y="50.4" width="0.55" height="0.55" fill="#333"/><rect x="227.6" y="51.0" width="0.55" height="0.55" fill="#333"/><rect x="225.2" y="44.3" width="0.55" height="0.55" fill="#333"/><rect x="222.8" y="48.6" width="0.55" height="0.55" fill="#333"/><rect x="227.5" y="54.2" width="0.55" height="0.55" fill="#333"/><rect x="226.4" y="48.6" width="0.55" height="0.55" fill="#333"/><rect x="228.3" y="50.1" width="0.55" height="0.55" fill="#333"/><rect x="227.9" y="54.7" width="0.55" height="0.55" fill="#333"/><rect x="227.0" y="60.5" width="0.55" height="0.55" fill="#333"/><rect x="225.6" y="47.1" width="0.55" height="0.55" fill="#333"/><rect x="225.1" y="43.6" width="0.55" height="0.55" fill="#333"/><rect x="229.4" y="64.1" width="0.55" height="0.55" fill="#333"/><rect x="226.6" y="54.5" width="0.55" height="0.55" fill="#333"/><rect x="228.7" y="56.5" width="0.55" height="0.55" fill="#333"/><rect x="228.8" y="39.9" width="0.55" height="0.55" fill="#333"/><rect x="225.4" y="53.6" width="0.55" height="0.55" fill="#333"/><rect x="229.2" y="50.8" width="0.55" height="0.55" fill="#333"/><rect x="225.1" y="47.2" width="0.55" height="0.55" fill="#333"/><rect x="225.4" y="43.1" width="0.55" height="0.55" fill="#333"/><rect x="229.3" y="45.0" width="0.55" height="0.55" fill="#333"/><rect x="228.7" y="52.7" width="0.55" height="0.55" fill="#333"/><rect x="225.5" y="53.3" width="0.55" height="0.55" fill="#333"/><rect x="229.5" y="55.0" width="0.55" height="0.55" fill="#333"/><rect x="228.9" y="50.8" width="0.55" height="0.55" fill="#333"/><rect x="227.5" y="48.4" width="0.55" height="0.55" fill="#333"/><rect x="227.4" y="60.4" width="0.55" height="0.55" fill="#333"/><rect x="224.0" y="49.5" width="0.55" height="0.55" fill="#333"/><rect x="227.0" y="45.4" width="0.55" height="0.55" fill="#333"/><rect x="226.0" y="56.3" width="0.55" height="0.55" fill="#333"/><rect x="230.2" y="55.0" width="0.55" height="0.55" fill="#333"/><rect x="227.2" y="37.6" width="0.55" height="0.55" fill="#333"/><rect x="230.1" y="50.6" width="0.55" height="0.55" fill="#333"/><rect x="226.5" y="41.1" width="0.55" height="0.55" fill="#333"/><rect x="226.5" y="41.2" width="0.55" height="0.55" fill="#333"/><rect x="226.7" y="53.7" width="0.55" height="0.55" fill="#333"/><rect x="226.7" y="52.2" width="0.55" height="0.55" fill="#333"/><rect x="225.1" y="61.4" width="0.55" height="0.55" fill="#333"/><rect x="225.4" y="35.5" width="0.55" height="0.55" fill="#333"/><rect x="226.3" y="43.9" width="0.55" height="0.55" fill="#333"/><rect x="224.8" y="47.2" width="0.55" height="0.55" fill="#333"/><rect x="227.1" y="40.5" width="0.55" height="0.55" fill="#333"/><rect x="226.4" y="61.4" width="0.55" height="0.55" fill="#333"/><rect x="227.8" y="48.8" width="0.55" height="0.55" fill="#333"/><rect x="226.8" y="49.0" width="0.55" height="0.55" fill="#333"/><rect x="226.5" y="55.9" width="0.55" height="0.55" fill="#333"/><rect x="226.4" y="30.8" width="0.55" height="0.55" fill="#333"/><rect x="226.6" y="42.9" width="0.55" height="0.55" fill="#333"/><rect x="227.8" y="45.1" width="0.55" height="0.55" fill="#333"/><rect x="224.7" y="41.0" width="0.55" height="0.55" fill="#333"/><rect x="224.1" y="30.8" width="0.55" height="0.55" fill="#333"/><rect x="223.2" y="52.9" width="0.55" height="0.55" fill="#333"/><rect x="225.5" y="35.1" width="0.55" height="0.55" fill="#333"/><rect x="223.9" y="54.9" width="0.55" height="0.55" fill="#333"/><rect x="225.2" y="47.1" width="0.55" height="0.55" fill="#333"/><rect x="227.2" y="60.9" width="0.55" height="0.55" fill="#333"/><rect x="230.1" y="58.3" width="0.55" height="0.55" fill="#333"/><rect x="226.9" y="51.5" width="0.55" height="0.55" fill="#333"/><rect x="229.8" y="61.4" width="0.55" height="0.55" fill="#333"/><rect x="226.0" y="53.7" width="0.55" height="0.55" fill="#333"/><rect x="227.1" y="50.4" width="0.55" height="0.55" fill="#333"/><rect x="225.7" y="39.4" width="0.55" height="0.55" fill="#333"/><rect x="225.6" y="37.6" width="0.55" height="0.55" fill="#333"/><rect x="228.8" y="54.3" width="0.55" height="0.55" fill="#333"/><rect x="224.4" y="61.2" width="0.55" height="0.55" fill="#333"/><rect x="228.2" y="34.7" width="0.55" height="0.55" fill="#333"/><rect x="229.9" y="56.5" width="0.55" height="0.55" fill="#333"/><rect x="230.3" y="40.2" width="0.55" height="0.55" fill="#333"/><rect x="227.6" y="53.4" width="0.55" height="0.55" fill="#333"/><rect x="227.0" y="51.4" width="0.55" height="0.55" fill="#333"/><rect x="228.5" y="38.0" width="0.55" height="0.55" fill="#333"/><rect x="224.4" y="38.8" width="0.55" height="0.55" fill="#333"/><rect x="225.6" y="45.2" width="0.55" height="0.55" fill="#333"/><rect x="227.3" y="52.1" width="0.55" height="0.55" fill="#333"/><rect x="226.7" y="44.6" width="0.55" height="0.55" fill="#333"/><rect x="225.8" y="57.6" width="0.55" height="0.55" fill="#333"/><rect x="228.0" y="50.8" width="0.55" height="0.55" fill="#333"/><rect x="226.0" y="62.4" width="0.55" height="0.55" fill="#333"/><rect x="225.5" y="55.2" width="0.55" height="0.55" fill="#333"/><rect x="228.7" y="47.9" width="0.55" height="0.55" fill="#333"/><rect x="228.1" y="41.1" width="0.55" height="0.55" fill="#333"/><rect x="228.4" y="51.6" width="0.55" height="0.55" fill="#333"/><rect x="223.7" y="55.4" width="0.55" height="0.55" fill="#333"/><rect x="225.0" y="60.3" width="0.55" height="0.55" fill="#333"/><rect x="225.4" y="48.7" width="0.55" height="0.55" fill="#333"/><rect x="227.1" y="47.3" width="0.55" height="0.55" fill="#333"/><rect x="227.1" y="45.6" width="0.55" height="0.55" fill="#333"/><rect x="227.8" y="50.0" width="0.55" height="0.55" fill="#333"/><rect x="227.0" y="28.0" width="0.55" height="0.55" fill="#333"/><rect x="228.7" y="50.3" width="0.55" height="0.55" fill="#333"/><rect x="223.4" y="50.8" width="0.55" height="0.55" fill="#333"/><rect x="227.4" y="58.6" width="0.55" height="0.55" fill="#333"/><rect x="224.7" y="62.4" width="0.55" height="0.55" fill="#333"/><rect x="226.3" y="55.4" width="0.55" height="0.55" fill="#333"/><rect x="225.9" y="41.1" width="0.55" height="0.55" fill="#333"/><rect x="228.6" y="57.3" width="0.55" height="0.55" fill="#333"/><rect x="229.4" y="56.9" width="0.55" height="0.55" fill="#333"/><rect x="225.6" y="36.7" width="0.55" height="0.55" fill="#333"/><rect x="225.4" y="44.6" width="0.55" height="0.55" fill="#333"/><rect x="225.1" y="54.7" width="0.55" height="0.55" fill="#333"/><rect x="227.2" y="47.8" width="0.55" height="0.55" fill="#333"/><rect x="226.9" y="48.8" width="0.55" height="0.55" fill="#333"/><rect x="227.0" y="56.0" width="0.55" height="0.55" fill="#333"/><rect x="228.3" y="44.5" width="0.55" height="0.55" fill="#333"/><rect x="223.9" y="61.4" width="0.55" height="0.55" fill="#333"/><rect x="226.8" y="58.8" width="0.55" height="0.55" fill="#333"/><rect x="223.6" y="47.4" width="0.55" height="0.55" fill="#333"/><rect x="226.6" y="38.5" width="0.55" height="0.55" fill="#333"/><rect x="225.7" y="55.8" width="0.55" height="0.55" fill="#333"/><rect x="228.5" y="62.8" width="0.55" height="0.55" fill="#333"/><rect x="225.0" y="38.8" width="0.55" height="0.55" fill="#333"/><rect x="227.5" y="57.5" width="0.55" height="0.55" fill="#333"/><rect x="226.9" y="39.6" width="0.55" height="0.55" fill="#333"/><rect x="228.0" y="56.3" width="0.55" height="0.55" fill="#333"/><rect x="227.6" y="46.1" width="0.55" height="0.55" fill="#333"/><rect x="227.1" y="56.3" width="0.55" height="0.55" fill="#333"/><rect x="225.6" y="35.3" width="0.55" height="0.55" fill="#333"/><rect x="227.2" y="53.8" width="0.55" height="0.55" fill="#333"/><rect x="226.6" y="57.1" width="0.55" height="0.55" fill="#333"/><rect x="225.5" y="49.3" width="0.55" height="0.55" fill="#333"/><rect x="226.1" y="54.6" width="0.55" height="0.55" fill="#333"/><rect x="229.5" y="48.0" width="0.55" height="0.55" fill="#333"/><rect x="230.3" y="62.2" width="0.55" height="0.55" fill="#333"/><rect x="228.0" y="54.7" width="0.55" height="0.55" fill="#333"/><rect x="229.8" y="48.6" width="0.55" height="0.55" fill="#333"/><rect x="226.4" y="41.5" width="0.55" height="0.55" fill="#333"/><rect x="227.5" y="60.8" width="0.55" height="0.55" fill="#333"/><rect x="227.6" y="53.4" width="0.55" height="0.55" fill="#333"/><rect x="226.2" y="51.4" width="0.55" height="0.55" fill="#333"/><rect x="224.0" y="58.4" width="0.55" height="0.55" fill="#333"/><rect x="225.9" y="41.2" width="0.55" height="0.55" fill="#333"/><rect x="225.2" y="43.4" width="0.55" height="0.55" fill="#333"/><rect x="228.1" y="58.5" width="0.55" height="0.55" fill="#333"/><rect x="224.2" y="57.4" width="0.55" height="0.55" fill="#333"/><rect x="228.2" y="45.4" width="0.55" height="0.55" fill="#333"/><rect x="223.9" y="44.0" width="0.55" height="0.55" fill="#333"/><rect x="225.5" y="52.7" width="0.55" height="0.55" fill="#333"/><rect x="226.0" y="33.8" width="0.55" height="0.55" fill="#333"/><rect x="227.0" y="37.7" width="0.55" height="0.55" fill="#333"/><rect x="228.2" y="40.3" width="0.55" height="0.55" fill="#333"/><rect x="225.4" y="43.2" width="0.55" height="0.55" fill="#333"/><rect x="225.6" y="60.4" width="0.55" height="0.55" fill="#333"/><rect x="228.1" y="54.8" width="0.55" height="0.55" fill="#333"/><rect x="227.2" y="37.6" width="0.55" height="0.55" fill="#333"/><rect x="225.7" y="45.6" width="0.55" height="0.55" fill="#333"/><rect x="224.8" y="54.1" width="0.55" height="0.55" fill="#333"/><rect x="225.3" y="44.3" width="0.55" height="0.55" fill="#333"/><rect x="224.7" y="33.5" width="0.55" height="0.55" fill="#333"/><rect x="227.7" y="60.6" width="0.55" height="0.55" fill="#333"/><rect x="226.9" y="42.2" width="0.55" height="0.55" fill="#333"/><rect x="221.7" y="51.4" width="0.55" height="0.55" fill="#333"/><rect x="228.8" y="52.4" width="0.55" height="0.55" fill="#333"/><rect x="228.3" y="61.8" width="0.55" height="0.55" fill="#333"/><rect x="228.6" y="46.5" width="0.55" height="0.55" fill="#333"/><rect x="228.5" y="56.2" width="0.55" height="0.55" fill="#333"/><rect x="223.8" y="46.8" width="0.55" height="0.55" fill="#333"/><rect x="224.0" y="49.1" width="0.55" height="0.55" fill="#333"/><rect x="227.6" y="41.5" width="0.55" height="0.55" fill="#333"/><rect x="222.9" y="60.4" width="0.55" height="0.55" fill="#333"/><rect x="227.3" y="61.8" width="0.55" height="0.55" fill="#333"/><rect x="224.2" y="58.5" width="0.55" height="0.55" fill="#333"/><rect x="230.3" y="66.1" width="0.55" height="0.55" fill="#333"/><rect x="226.2" y="52.2" width="0.55" height="0.55" fill="#333"/><rect x="226.3" y="58.0" width="0.55" height="0.55" fill="#333"/><rect x="228.5" y="50.7" width="0.55" height="0.55" fill="#333"/><rect x="224.2" y="55.9" width="0.55" height="0.55" fill="#333"/><rect x="225.8" y="55.0" width="0.55" height="0.55" fill="#333"/><rect x="227.1" y="63.0" width="0.55" height="0.55" fill="#333"/><rect x="228.6" y="46.4" width="0.55" height="0.55" fill="#333"/><rect x="227.2" y="64.1" width="0.55" height="0.55" fill="#333"/><rect x="225.6" y="53.5" width="0.55" height="0.55" fill="#333"/><rect x="228.7" y="60.1" width="0.55" height="0.55" fill="#333"/><rect x="227.5" y="39.4" width="0.55" height="0.55" fill="#333"/><rect x="224.3" y="52.0" width="0.55" height="0.55" fill="#333"/><rect x="225.0" y="59.1" width="0.55" height="0.55" fill="#333"/><rect x="228.0" y="36.6" width="0.55" height="0.55" fill="#333"/><rect x="225.1" y="51.3" width="0.55" height="0.55" fill="#333"/><rect x="225.7" y="48.8" width="0.55" height="0.55" fill="#333"/><rect x="227.4" y="43.5" width="0.55" height="0.55" fill="#333"/><rect x="227.4" y="44.9" width="0.55" height="0.55" fill="#333"/><rect x="225.6" y="54.3" width="0.55" height="0.55" fill="#333"/><rect x="225.6" y="52.3" width="0.55" height="0.55" fill="#333"/><rect x="229.5" y="50.2" width="0.55" height="0.55" fill="#333"/><rect x="226.3" y="55.9" width="0.55" height="0.55" fill="#333"/><rect x="225.9" y="58.7" width="0.55" height="0.55" fill="#333"/><rect x="224.3" y="54.9" width="0.55" height="0.55" fill="#333"/><rect x="225.7" y="43.6" width="0.55" height="0.55" fill="#333"/><rect x="229.8" y="43.2" width="0.55" height="0.55" fill="#333"/><rect x="229.8" y="55.3" width="0.55" height="0.55" fill="#333"/><rect x="229.2" y="42.2" width="0.55" height="0.55" fill="#333"/><rect x="228.8" y="61.7" width="0.55" height="0.55" fill="#333"/><rect x="226.4" y="49.0" width="0.55" height="0.55" fill="#333"/><rect x="231.0" y="51.4" width="0.55" height="0.55" fill="#333"/><rect x="225.8" y="45.0" width="0.55" height="0.55" fill="#333"/><rect x="227.4" y="52.6" width="0.55" height="0.55" fill="#333"/><rect x="226.9" y="63.8" width="0.55" height="0.55" fill="#333"/><rect x="226.0" y="53.8" width="0.55" height="0.55" fill="#333"/><rect x="229.2" y="42.0" width="0.55" height="0.55" fill="#333"/><rect x="228.5" y="64.7" width="0.55" height="0.55" fill="#333"/><rect x="224.2" y="41.2" width="0.55" height="0.55" fill="#333"/><rect x="224.7" y="35.2" width="0.55" height="0.55" fill="#333"/><rect x="227.4" y="35.2" width="0.55" height="0.55" fill="#333"/><rect x="227.5" y="61.6" width="0.55" height="0.55" fill="#333"/><rect x="223.7" y="47.5" width="0.55" height="0.55" fill="#333"/><rect x="223.1" y="56.2" width="0.55" height="0.55" fill="#333"/><rect x="225.3" y="47.9" width="0.55" height="0.55" fill="#333"/><rect x="226.7" y="54.4" width="0.55" height="0.55" fill="#333"/><rect x="226.0" y="50.1" width="0.55" height="0.55" fill="#333"/><rect x="225.6" y="50.9" width="0.55" height="0.55" fill="#333"/><rect x="224.5" y="50.5" width="0.55" height="0.55" fill="#333"/><rect x="223.1" y="46.1" width="0.55" height="0.55" fill="#333"/><rect x="230.0" y="50.6" width="0.55" height="0.55" fill="#333"/><rect x="224.3" y="52.1" width="0.55" height="0.55" fill="#333"/><rect x="224.8" y="36.8" width="0.55" height="0.55" fill="#333"/><rect x="225.3" y="55.9" width="0.55" height="0.55" fill="#333"/><rect x="227.3" y="49.2" width="0.55" height="0.55" fill="#333"/><rect x="224.9" y="41.4" width="0.55" height="0.55" fill="#333"/><rect x="229.0" y="52.0" width="0.55" height="0.55" fill="#333"/><rect x="224.9" y="33.1" width="0.55" height="0.55" fill="#333"/><rect x="224.5" y="49.4" width="0.55" height="0.55" fill="#333"/><rect x="227.0" y="48.7" width="0.55" height="0.55" fill="#333"/><rect x="226.1" y="39.0" width="0.55" height="0.55" fill="#333"/><rect x="224.7" y="63.5" width="0.55" height="0.55" fill="#333"/><rect x="225.2" y="56.8" width="0.55" height="0.55" fill="#333"/><rect x="223.6" y="47.8" width="0.55" height="0.55" fill="#333"/><rect x="227.1" y="58.3" width="0.55" height="0.55" fill="#333"/><rect x="224.6" y="54.8" width="0.55" height="0.55" fill="#333"/><rect x="227.3" y="44.1" width="0.55" height="0.55" fill="#333"/><rect x="227.5" y="42.8" width="0.55" height="0.55" fill="#333"/><rect x="225.2" y="49.8" width="0.55" height="0.55" fill="#333"/><rect x="221.7" y="49.1" width="0.55" height="0.55" fill="#333"/><rect x="224.8" y="38.3" width="0.55" height="0.55" fill="#333"/><rect x="225.8" y="56.1" width="0.55" height="0.55" fill="#333"/><rect x="225.9" y="60.1" width="0.55" height="0.55" fill="#333"/><rect x="222.1" y="37.4" width="0.5" height="0.5" fill="#888"/><rect x="231.3" y="53.8" width="0.5" height="0.5" fill="#888"/><rect x="229.2" y="42.1" width="0.5" height="0.5" fill="#888"/><rect x="228.7" y="52.5" width="0.5" height="0.5" fill="#888"/><rect x="228.2" y="50.2" width="0.5" height="0.5" fill="#888"/><rect x="230.1" y="43.8" width="0.5" height="0.5" fill="#888"/><rect x="222.7" y="35.8" width="0.5" height="0.5" fill="#888"/><rect x="229.9" y="42.9" width="0.5" height="0.5" fill="#888"/><rect x="222.5" y="41.0" width="0.5" height="0.5" fill="#888"/><rect x="224.5" y="37.8" width="0.5" height="0.5" fill="#888"/><rect x="225.0" y="44.0" width="0.5" height="0.5" fill="#888"/><rect x="224.1" y="40.8" width="0.5" height="0.5" fill="#888"/><rect x="226.1" y="45.6" width="0.5" height="0.5" fill="#888"/><rect x="226.4" y="52.4" width="0.5" height="0.5" fill="#888"/><rect x="227.2" y="29.0" width="0.5" height="0.5" fill="#888"/><rect x="224.2" y="42.4" width="0.5" height="0.5" fill="#888"/><rect x="228.6" y="34.9" width="0.5" height="0.5" fill="#888"/><rect x="223.6" y="47.2" width="0.5" height="0.5" fill="#888"/><rect x="224.9" y="59.5" width="0.5" height="0.5" fill="#888"/><rect x="224.5" y="59.3" width="0.5" height="0.5" fill="#888"/><rect x="221.0" y="32.6" width="0.5" height="0.5" fill="#888"/><rect x="230.1" y="54.2" width="0.5" height="0.5" fill="#888"/><rect x="227.7" y="51.2" width="0.5" height="0.5" fill="#888"/><rect x="227.6" y="38.3" width="0.5" height="0.5" fill="#888"/><rect x="229.2" y="44.9" width="0.5" height="0.5" fill="#888"/><rect x="229.4" y="50.8" width="0.5" height="0.5" fill="#888"/><rect x="219.3" y="37.6" width="0.5" height="0.5" fill="#888"/><rect x="229.8" y="48.7" width="0.5" height="0.5" fill="#888"/><rect x="224.7" y="52.3" width="0.5" height="0.5" fill="#888"/><rect x="224.6" y="44.8" width="0.5" height="0.5" fill="#888"/><rect x="226.3" y="51.4" width="0.5" height="0.5" fill="#888"/><rect x="231.2" y="50.4" width="0.5" height="0.5" fill="#888"/><rect x="231.8" y="60.2" width="0.5" height="0.5" fill="#888"/><rect x="226.4" y="51.3" width="0.5" height="0.5" fill="#888"/><rect x="225.5" y="43.0" width="0.5" height="0.5" fill="#888"/><rect x="225.8" y="43.8" width="0.5" height="0.5" fill="#888"/><rect x="231.6" y="55.1" width="0.5" height="0.5" fill="#888"/><rect x="224.5" y="31.6" width="0.5" height="0.5" fill="#888"/><rect x="225.8" y="46.0" width="0.5" height="0.5" fill="#888"/><rect x="222.3" y="39.1" width="0.5" height="0.5" fill="#888"/><rect x="218.3" y="55.5" width="0.5" height="0.5" fill="#888"/><rect x="225.9" y="48.6" width="0.5" height="0.5" fill="#888"/><rect x="230.9" y="51.3" width="0.5" height="0.5" fill="#888"/><rect x="226.6" y="46.4" width="0.5" height="0.5" fill="#888"/><rect x="223.9" y="64.4" width="0.5" height="0.5" fill="#888"/><rect x="224.8" y="50.3" width="0.5" height="0.5" fill="#888"/><rect x="223.0" y="59.3" width="0.5" height="0.5" fill="#888"/><rect x="221.3" y="55.4" width="0.5" height="0.5" fill="#888"/><rect x="229.7" y="63.5" width="0.5" height="0.5" fill="#888"/><rect x="222.8" y="60.5" width="0.5" height="0.5" fill="#888"/><rect x="223.6" y="42.7" width="0.5" height="0.5" fill="#888"/><rect x="221.5" y="61.1" width="0.5" height="0.5" fill="#888"/><rect x="231.6" y="44.3" width="0.5" height="0.5" fill="#888"/><rect x="223.4" y="46.7" width="0.5" height="0.5" fill="#888"/><rect x="234.5" y="59.6" width="0.5" height="0.5" fill="#888"/><rect x="224.2" y="32.8" width="0.5" height="0.5" fill="#888"/><rect x="223.7" y="61.4" width="0.5" height="0.5" fill="#888"/><rect x="232.4" y="47.4" width="0.5" height="0.5" fill="#888"/><rect x="223.6" y="45.1" width="0.5" height="0.5" fill="#888"/><rect x="219.6" y="58.7" width="0.5" height="0.5" fill="#888"/><rect x="222.3" y="60.2" width="0.5" height="0.5" fill="#888"/><rect x="220.2" y="37.8" width="0.5" height="0.5" fill="#888"/><rect x="227.0" y="42.7" width="0.5" height="0.5" fill="#888"/><rect x="228.7" y="50.1" width="0.5" height="0.5" fill="#888"/><rect x="222.0" y="56.0" width="0.5" height="0.5" fill="#888"/><rect x="228.9" y="31.6" width="0.5" height="0.5" fill="#888"/><rect x="232.2" y="54.8" width="0.5" height="0.5" fill="#888"/><rect x="228.6" y="32.1" width="0.5" height="0.5" fill="#888"/><rect x="223.6" y="46.6" width="0.5" height="0.5" fill="#888"/><rect x="229.7" y="36.0" width="0.5" height="0.5" fill="#888"/><rect x="223.0" y="30.5" width="0.5" height="0.5" fill="#888"/><rect x="225.2" y="53.3" width="0.5" height="0.5" fill="#888"/><rect x="220.3" y="44.3" width="0.5" height="0.5" fill="#888"/><rect x="227.7" y="65.2" width="0.5" height="0.5" fill="#888"/><rect x="228.3" y="47.1" width="0.5" height="0.5" fill="#888"/><rect x="222.0" y="41.0" width="0.5" height="0.5" fill="#888"/><rect x="223.7" y="51.4" width="0.5" height="0.5" fill="#888"/><rect x="225.8" y="66.0" width="0.5" height="0.5" fill="#888"/><rect x="227.0" y="39.7" width="0.5" height="0.5" fill="#888"/><rect x="231.3" y="59.1" width="0.5" height="0.5" fill="#888"/><rect x="226.3" y="43.1" width="0.5" height="0.5" fill="#888"/><rect x="219.6" y="40.2" width="0.5" height="0.5" fill="#888"/><rect x="229.1" y="42.3" width="0.5" height="0.5" fill="#888"/><rect x="221.5" y="51.9" width="0.5" height="0.5" fill="#888"/><rect x="226.8" y="55.8" width="0.5" height="0.5" fill="#888"/><rect x="228.2" y="63.5" width="0.5" height="0.5" fill="#888"/><rect x="223.1" y="59.4" width="0.5" height="0.5" fill="#888"/><rect x="222.6" y="56.7" width="0.5" height="0.5" fill="#888"/><rect x="226.6" y="52.3" width="0.5" height="0.5" fill="#888"/><rect x="229.3" y="49.8" width="0.5" height="0.5" fill="#888"/><rect x="229.8" y="58.4" width="0.5" height="0.5" fill="#888"/><rect x="226.5" y="44.6" width="0.5" height="0.5" fill="#888"/><rect x="223.4" y="44.9" width="0.5" height="0.5" fill="#888"/><rect x="225.3" y="49.8" width="0.5" height="0.5" fill="#888"/><rect x="228.6" y="41.7" width="0.5" height="0.5" fill="#888"/><rect x="223.6" y="46.9" width="0.5" height="0.5" fill="#888"/><rect x="226.7" y="40.1" width="0.5" height="0.5" fill="#888"/><rect x="231.5" y="44.6" width="0.5" height="0.5" fill="#888"/><rect x="229.7" y="27.6" width="0.5" height="0.5" fill="#888"/><rect x="226.0" y="52.7" width="0.5" height="0.5" fill="#888"/><rect x="226.7" y="55.8" width="0.5" height="0.5" fill="#888"/><rect x="227.0" y="51.6" width="0.5" height="0.5" fill="#888"/><rect x="219.6" y="43.2" width="0.5" height="0.5" fill="#888"/><rect x="218.0" y="56.0" width="0.5" height="0.5" fill="#888"/><rect x="227.0" y="48.1" width="0.5" height="0.5" fill="#888"/><rect x="223.2" y="44.4" width="0.5" height="0.5" fill="#888"/><rect x="225.8" y="62.4" width="0.5" height="0.5" fill="#888"/><rect x="220.6" y="31.4" width="0.5" height="0.5" fill="#888"/><rect x="224.4" y="41.6" width="0.5" height="0.5" fill="#888"/><rect x="224.1" y="51.8" width="0.5" height="0.5" fill="#888"/><rect x="226.2" y="52.7" width="0.5" height="0.5" fill="#888"/><rect x="225.9" y="58.9" width="0.5" height="0.5" fill="#888"/><rect x="232.0" y="38.1" width="0.5" height="0.5" fill="#888"/><rect x="226.5" y="47.5" width="0.5" height="0.5" fill="#888"/><rect x="227.2" y="35.3" width="0.5" height="0.5" fill="#888"/><rect x="220.0" y="27.8" width="0.5" height="0.5" fill="#888"/><rect x="227.8" y="51.8" width="0.5" height="0.5" fill="#888"/><rect x="226.3" y="27.3" width="0.5" height="0.5" fill="#888"/><rect x="224.7" y="42.7" width="0.5" height="0.5" fill="#888"/><rect x="221.2" y="41.2" width="0.5" height="0.5" fill="#888"/><rect x="228.4" y="55.2" width="0.5" height="0.5" fill="#888"/><rect x="225.9" y="54.9" width="0.5" height="0.5" fill="#888"/><rect x="223.9" y="50.7" width="0.5" height="0.5" fill="#888"/><rect x="226.1" y="55.3" width="0.5" height="0.5" fill="#888"/><rect x="225.8" y="48.6" width="0.5" height="0.5" fill="#888"/><rect x="225.5" y="43.8" width="0.5" height="0.5" fill="#888"/><rect x="233.6" y="54.9" width="0.5" height="0.5" fill="#888"/><rect x="230.8" y="35.1" width="0.5" height="0.5" fill="#888"/><rect x="228.4" y="58.0" width="0.5" height="0.5" fill="#888"/><rect x="232.4" y="62.6" width="0.5" height="0.5" fill="#888"/><rect x="228.6" y="38.7" width="0.5" height="0.5" fill="#888"/><rect x="223.0" y="52.6" width="0.5" height="0.5" fill="#888"/><rect x="227.7" y="40.2" width="0.5" height="0.5" fill="#888"/><rect x="224.7" y="46.2" width="0.5" height="0.5" fill="#888"/><rect x="226.2" y="53.2" width="0.5" height="0.5" fill="#888"/><rect x="225.0" y="38.1" width="0.5" height="0.5" fill="#888"/><rect x="230.2" y="65.3" width="0.5" height="0.5" fill="#888"/><rect x="225.6" y="59.8" width="0.5" height="0.5" fill="#888"/><rect x="227.5" y="56.3" width="0.5" height="0.5" fill="#888"/><rect x="227.6" y="42.7" width="0.5" height="0.5" fill="#888"/><rect x="228.0" y="59.7" width="0.5" height="0.5" fill="#888"/><rect x="232.8" y="57.1" width="0.5" height="0.5" fill="#888"/><rect x="224.8" y="44.2" width="0.5" height="0.5" fill="#888"/><rect x="223.2" y="51.1" width="0.5" height="0.5" fill="#888"/><rect x="225.9" y="56.4" width="0.5" height="0.5" fill="#888"/><rect x="233.7" y="49.7" width="0.5" height="0.5" fill="#888"/><rect x="228.3" y="54.6" width="0.5" height="0.5" fill="#888"/><rect x="226.9" y="48.0" width="0.5" height="0.5" fill="#888"/><rect x="225.6" y="42.1" width="0.5" height="0.5" fill="#888"/><rect x="226.6" y="49.8" width="0.5" height="0.5" fill="#888"/><rect x="227.1" y="41.8" width="0.5" height="0.5" fill="#888"/><rect x="226.1" y="50.5" width="0.5" height="0.5" fill="#888"/><rect x="228.1" y="39.8" width="0.5" height="0.5" fill="#888"/><rect x="227.4" y="59.4" width="0.5" height="0.5" fill="#888"/><rect x="228.0" y="46.5" width="0.5" height="0.5" fill="#888"/><rect x="224.3" y="47.7" width="0.5" height="0.5" fill="#888"/><rect x="228.5" y="64.9" width="0.5" height="0.5" fill="#888"/><rect x="225.5" y="43.8" width="0.5" height="0.5" fill="#888"/><rect x="227.3" y="52.0" width="0.5" height="0.5" fill="#888"/><rect x="222.9" y="42.9" width="0.5" height="0.5" fill="#888"/><rect x="225.7" y="56.4" width="0.5" height="0.5" fill="#888"/><rect x="221.9" y="40.2" width="0.5" height="0.5" fill="#888"/><rect x="227.7" y="38.2" width="0.5" height="0.5" fill="#888"/><rect x="226.4" y="53.4" width="0.5" height="0.5" fill="#888"/><rect x="225.6" y="40.2" width="0.5" height="0.5" fill="#888"/><rect x="225.8" y="46.8" width="0.5" height="0.5" fill="#888"/><rect x="227.1" y="41.9" width="0.5" height="0.5" fill="#888"/><rect x="229.7" y="33.9" width="0.5" height="0.5" fill="#888"/><rect x="225.4" y="50.1" width="0.5" height="0.5" fill="#888"/><rect x="229.3" y="44.2" width="0.5" height="0.5" fill="#888"/><rect x="227.9" y="44.6" width="0.5" height="0.5" fill="#888"/><rect x="224.6" y="54.3" width="0.5" height="0.5" fill="#888"/><rect x="222.8" y="59.3" width="0.5" height="0.5" fill="#888"/><rect x="230.1" y="50.3" width="0.5" height="0.5" fill="#888"/><rect x="222.1" y="53.9" width="0.5" height="0.5" fill="#888"/><rect x="229.9" y="60.5" width="0.5" height="0.5" fill="#888"/><rect x="228.8" y="32.4" width="0.5" height="0.5" fill="#888"/><rect x="223.7" y="63.7" width="0.5" height="0.5" fill="#888"/><rect x="221.8" y="60.9" width="0.5" height="0.5" fill="#888"/><rect x="232.4" y="57.3" width="0.5" height="0.5" fill="#888"/><rect x="229.8" y="46.8" width="0.5" height="0.5" fill="#888"/><rect x="221.8" y="49.0" width="0.5" height="0.5" fill="#888"/><rect x="225.3" y="49.5" width="0.5" height="0.5" fill="#888"/><rect x="228.4" y="48.6" width="0.5" height="0.5" fill="#888"/><rect x="226.7" y="54.1" width="0.5" height="0.5" fill="#888"/><rect x="227.5" y="50.8" width="0.5" height="0.5" fill="#888"/><rect x="225.3" y="44.0" width="0.5" height="0.5" fill="#888"/><rect x="230.6" y="51.4" width="0.5" height="0.5" fill="#888"/><rect x="215.5" y="49.1" width="0.45" height="0.45" fill="#999"/><rect x="221.3" y="34.7" width="0.45" height="0.45" fill="#999"/><rect x="229.0" y="55.7" width="0.45" height="0.45" fill="#999"/><rect x="191.1" y="35.4" width="0.45" height="0.45" fill="#999"/><rect x="211.7" y="48.3" width="0.45" height="0.45" fill="#999"/><rect x="201.9" y="35.4" width="0.45" height="0.45" fill="#999"/><rect x="207.7" y="35.9" width="0.45" height="0.45" fill="#999"/><rect x="216.2" y="60.6" width="0.45" height="0.45" fill="#999"/><rect x="195.8" y="50.8" width="0.45" height="0.45" fill="#999"/><rect x="223.3" y="36.8" width="0.45" height="0.45" fill="#999"/><rect x="227.0" y="63.3" width="0.45" height="0.45" fill="#999"/><rect x="206.9" y="45.6" width="0.45" height="0.45" fill="#999"/><rect x="227.6" y="49.2" width="0.45" height="0.45" fill="#999"/><rect x="207.2" y="63.4" width="0.45" height="0.45" fill="#999"/><rect x="224.7" y="42.8" width="0.45" height="0.45" fill="#999"/><rect x="200.1" y="42.7" width="0.45" height="0.45" fill="#999"/><rect x="209.0" y="64.8" width="0.45" height="0.45" fill="#999"/><rect x="226.0" y="62.4" width="0.45" height="0.45" fill="#999"/><rect x="226.5" y="60.2" width="0.45" height="0.45" fill="#999"/><rect x="191.5" y="48.9" width="0.45" height="0.45" fill="#999"/><rect x="233.1" y="63.2" width="0.45" height="0.45" fill="#999"/><rect x="200.5" y="45.6" width="0.45" height="0.45" fill="#999"/><rect x="218.1" y="43.7" width="0.45" height="0.45" fill="#999"/><rect x="213.4" y="33.6" width="0.45" height="0.45" fill="#999"/><rect x="208.9" y="48.5" width="0.45" height="0.45" fill="#999"/><rect x="190.0" y="36.0" width="0.45" height="0.45" fill="#999"/><rect x="233.6" y="57.8" width="0.45" height="0.45" fill="#999"/><rect x="232.1" y="52.9" width="0.45" height="0.45" fill="#999"/><rect x="226.2" y="61.4" width="0.45" height="0.45" fill="#999"/><rect x="229.7" y="32.4" width="0.45" height="0.45" fill="#999"/><rect x="218.5" y="40.3" width="0.45" height="0.45" fill="#999"/><rect x="220.2" y="40.6" width="0.45" height="0.45" fill="#999"/><rect x="213.9" y="62.8" width="0.45" height="0.45" fill="#999"/><rect x="217.6" y="39.8" width="0.45" height="0.45" fill="#999"/><rect x="212.9" y="46.0" width="0.45" height="0.45" fill="#999"/><rect x="232.7" y="41.0" width="0.45" height="0.45" fill="#999"/><rect x="203.0" y="53.3" width="0.45" height="0.45" fill="#999"/><rect x="194.5" y="51.5" width="0.45" height="0.45" fill="#999"/><rect x="233.0" y="48.8" width="0.45" height="0.45" fill="#999"/><rect x="201.3" y="47.2" width="0.45" height="0.45" fill="#999"/><rect x="213.6" y="36.3" width="0.45" height="0.45" fill="#999"/><rect x="194.7" y="35.7" width="0.45" height="0.45" fill="#999"/><rect x="202.5" y="45.1" width="0.45" height="0.45" fill="#999"/><rect x="202.3" y="39.5" width="0.45" height="0.45" fill="#999"/><rect x="193.0" y="49.9" width="0.45" height="0.45" fill="#999"/><rect x="227.6" y="52.1" width="0.45" height="0.45" fill="#999"/><rect x="215.2" y="53.4" width="0.45" height="0.45" fill="#999"/><rect x="198.3" y="55.5" width="0.45" height="0.45" fill="#999"/><rect x="210.2" y="49.9" width="0.45" height="0.45" fill="#999"/><rect x="217.2" y="47.2" width="0.45" height="0.45" fill="#999"/><rect x="203.3" y="39.5" width="0.45" height="0.45" fill="#999"/><rect x="199.2" y="48.7" width="0.45" height="0.45" fill="#999"/><rect x="206.6" y="51.2" width="0.45" height="0.45" fill="#999"/><rect x="189.5" y="43.3" width="0.45" height="0.45" fill="#999"/><rect x="228.6" y="39.4" width="0.45" height="0.45" fill="#999"/><rect x="214.6" y="48.0" width="0.45" height="0.45" fill="#999"/><rect x="202.1" y="65.0" width="0.45" height="0.45" fill="#999"/><rect x="202.6" y="57.6" width="0.45" height="0.45" fill="#999"/><rect x="196.3" y="33.5" width="0.45" height="0.45" fill="#999"/><rect x="229.1" y="46.2" width="0.45" height="0.45" fill="#999"/><rect x="191.9" y="44.5" width="0.45" height="0.45" fill="#999"/><rect x="209.2" y="56.4" width="0.45" height="0.45" fill="#999"/><rect x="194.0" y="38.9" width="0.45" height="0.45" fill="#999"/><rect x="233.1" y="56.5" width="0.45" height="0.45" fill="#999"/><rect x="196.1" y="42.7" width="0.45" height="0.45" fill="#999"/><rect x="205.2" y="54.3" width="0.45" height="0.45" fill="#999"/><rect x="217.3" y="60.3" width="0.45" height="0.45" fill="#999"/><rect x="226.8" y="48.9" width="0.45" height="0.45" fill="#999"/><rect x="223.0" y="56.6" width="0.45" height="0.45" fill="#999"/><rect x="223.9" y="47.5" width="0.45" height="0.45" fill="#999"/></g>
<line x1="187" y1="21.2" x2="187" y2="68.0" stroke="#111" stroke-width="1.4" stroke-linecap="butt"/>
<line x1="186.3" y1="67.4" x2="237" y2="67.4" stroke="#111" stroke-width="1.4" stroke-linecap="butt"/>
<ellipse cx="200.5" cy="34.8" rx="10.9" ry="7.8" fill="none" stroke="#111" stroke-width="0.9"/>
<ellipse cx="225.8" cy="50.9" rx="8" ry="17.2" fill="none" stroke="#111" stroke-width="0.9" transform="rotate(-4 225.8 50.9)"/>
<text x="190" y="27.4" font-size="5.5" text-anchor="start" fill="#2a2a2a">Basophils</text>
<text x="191.3" y="64.4" font-size="5.5" text-anchor="start" fill="#2a2a2a">Mast cells</text>
<text x="182.6" y="24.2" font-size="3.1" text-anchor="middle" fill="#666" font-style="italic" style="stroke:none">10</text>
<text x="182.6" y="35.7" font-size="3.1" text-anchor="middle" fill="#666" font-style="italic" style="stroke:none">10</text>
<text x="182.6" y="55.7" font-size="3.1" text-anchor="middle" fill="#666" font-style="italic" style="stroke:none">10</text>
<text x="182.6" y="61.7" font-size="3.1" text-anchor="middle" fill="#666" font-style="italic" style="stroke:none">10</text>
<text x="182.6" y="66.7" font-size="3.1" text-anchor="middle" fill="#666" font-style="italic" style="stroke:none">10</text>
<text x="189.5" y="72.4" font-size="3.1" text-anchor="middle" fill="#666" font-style="italic" style="stroke:none">10</text>
<text x="192.5" y="72.4" font-size="3.1" text-anchor="middle" fill="#666" font-style="italic" style="stroke:none">10</text>
<text x="195.5" y="72.4" font-size="3.1" text-anchor="middle" fill="#666" font-style="italic" style="stroke:none">10</text>
<text x="211.5" y="72.4" font-size="3.1" text-anchor="middle" fill="#666" font-style="italic" style="stroke:none">10</text>
<text x="220" y="72.4" font-size="3.1" text-anchor="middle" fill="#666" font-style="italic" style="stroke:none">10</text>
<text x="227.5" y="72.4" font-size="3.1" text-anchor="middle" fill="#666" font-style="italic" style="stroke:none">10</text>
<text x="234.2" y="72.4" font-size="3.1" text-anchor="middle" fill="#666" font-style="italic" style="stroke:none">10</text>
<rect x="187" y="77.5" width="50" height="46.8" fill="#fff" stroke="#999" stroke-width="0.5"/>
<g><rect x="202.4" y="89.6" width="0.5" height="0.5" fill="#8a8a8a"/><rect x="202.9" y="93.4" width="0.5" height="0.5" fill="#8a8a8a"/><rect x="201.3" y="94.0" width="0.5" height="0.5" fill="#8a8a8a"/><rect x="201.5" y="90.2" width="0.5" height="0.5" fill="#8a8a8a"/><rect x="190.2" y="94.3" width="0.5" height="0.5" fill="#8a8a8a"/><rect x="197.1" y="92.8" width="0.5" height="0.5" fill="#8a8a8a"/><rect x="227.4" y="100.6" width="0.55" height="0.55" fill="#333"/><rect x="225.2" y="109.5" width="0.55" height="0.55" fill="#333"/><rect x="224.7" y="115.6" width="0.55" height="0.55" fill="#333"/><rect x="226.3" y="108.2" width="0.55" height="0.55" fill="#333"/><rect x="224.8" y="118.7" width="0.55" height="0.55" fill="#333"/><rect x="225.4" y="117.3" width="0.55" height="0.55" fill="#333"/><rect x="227.4" y="101.2" width="0.55" height="0.55" fill="#333"/><rect x="224.6" y="113.5" width="0.55" height="0.55" fill="#333"/><rect x="227.2" y="118.6" width="0.55" height="0.55" fill="#333"/><rect x="228.0" y="120.2" width="0.55" height="0.55" fill="#333"/><rect x="225.9" y="112.1" width="0.55" height="0.55" fill="#333"/><rect x="228.0" y="110.7" width="0.55" height="0.55" fill="#333"/><rect x="228.5" y="103.2" width="0.55" height="0.55" fill="#333"/><rect x="227.8" y="112.4" width="0.55" height="0.55" fill="#333"/><rect x="223.1" y="119.9" width="0.55" height="0.55" fill="#333"/><rect x="227.2" y="113.6" width="0.55" height="0.55" fill="#333"/><rect x="224.7" y="110.5" width="0.55" height="0.55" fill="#333"/><rect x="229.3" y="108.1" width="0.55" height="0.55" fill="#333"/><rect x="220.4" y="107.9" width="0.55" height="0.55" fill="#333"/><rect x="224.4" y="112.6" width="0.55" height="0.55" fill="#333"/><rect x="225.9" y="107.6" width="0.55" height="0.55" fill="#333"/><rect x="225.1" y="120.3" width="0.55" height="0.55" fill="#333"/><rect x="225.6" y="106.4" width="0.55" height="0.55" fill="#333"/><rect x="228.0" y="117.2" width="0.55" height="0.55" fill="#333"/><rect x="224.7" y="118.4" width="0.55" height="0.55" fill="#333"/><rect x="223.3" y="107.5" width="0.55" height="0.55" fill="#333"/><rect x="228.6" y="111.8" width="0.55" height="0.55" fill="#333"/><rect x="224.3" y="116.8" width="0.55" height="0.55" fill="#333"/><rect x="228.3" y="113.4" width="0.55" height="0.55" fill="#333"/><rect x="223.3" y="111.2" width="0.55" height="0.55" fill="#333"/><rect x="227.4" y="118.5" width="0.55" height="0.55" fill="#333"/><rect x="229.9" y="111.9" width="0.55" height="0.55" fill="#333"/><rect x="225.7" y="113.3" width="0.55" height="0.55" fill="#333"/><rect x="228.8" y="107.4" width="0.55" height="0.55" fill="#333"/><rect x="228.9" y="95.6" width="0.55" height="0.55" fill="#333"/><rect x="228.0" y="109.1" width="0.55" height="0.55" fill="#333"/><rect x="227.4" y="118.0" width="0.55" height="0.55" fill="#333"/><rect x="224.5" y="112.9" width="0.55" height="0.55" fill="#333"/><rect x="227.0" y="117.3" width="0.55" height="0.55" fill="#333"/><rect x="224.9" y="107.1" width="0.55" height="0.55" fill="#333"/><rect x="226.3" y="112.1" width="0.55" height="0.55" fill="#333"/><rect x="223.9" y="119.5" width="0.55" height="0.55" fill="#333"/><rect x="225.6" y="122.8" width="0.55" height="0.55" fill="#333"/><rect x="228.1" y="113.6" width="0.55" height="0.55" fill="#333"/><rect x="227.9" y="106.3" width="0.55" height="0.55" fill="#333"/><rect x="226.0" y="109.8" width="0.55" height="0.55" fill="#333"/><rect x="224.3" y="113.6" width="0.55" height="0.55" fill="#333"/><rect x="226.3" y="122.8" width="0.55" height="0.55" fill="#333"/><rect x="220.6" y="109.1" width="0.55" height="0.55" fill="#333"/><rect x="224.9" y="110.5" width="0.55" height="0.55" fill="#333"/><rect x="227.4" y="116.1" width="0.55" height="0.55" fill="#333"/><rect x="226.7" y="110.4" width="0.55" height="0.55" fill="#333"/><rect x="227.5" y="115.8" width="0.55" height="0.55" fill="#333"/><rect x="223.3" y="111.8" width="0.55" height="0.55" fill="#333"/><rect x="224.1" y="105.8" width="0.55" height="0.55" fill="#333"/><rect x="226.9" y="113.9" width="0.55" height="0.55" fill="#333"/><rect x="226.8" y="107.8" width="0.55" height="0.55" fill="#333"/><rect x="226.2" y="107.6" width="0.55" height="0.55" fill="#333"/><rect x="227.3" y="118.0" width="0.55" height="0.55" fill="#333"/><rect x="229.8" y="121.7" width="0.55" height="0.55" fill="#333"/><rect x="225.2" y="110.5" width="0.55" height="0.55" fill="#333"/><rect x="224.9" y="115.5" width="0.55" height="0.55" fill="#333"/><rect x="230.2" y="118.1" width="0.55" height="0.55" fill="#333"/><rect x="222.6" y="105.3" width="0.55" height="0.55" fill="#333"/><rect x="224.3" y="116.8" width="0.55" height="0.55" fill="#333"/><rect x="226.6" y="115.4" width="0.55" height="0.55" fill="#333"/><rect x="229.8" y="108.1" width="0.55" height="0.55" fill="#333"/><rect x="227.2" y="108.4" width="0.55" height="0.55" fill="#333"/><rect x="222.9" y="103.6" width="0.55" height="0.55" fill="#333"/><rect x="222.2" y="113.9" width="0.55" height="0.55" fill="#333"/><rect x="226.7" y="120.0" width="0.55" height="0.55" fill="#333"/><rect x="226.3" y="109.0" width="0.55" height="0.55" fill="#333"/><rect x="223.4" y="114.6" width="0.55" height="0.55" fill="#333"/><rect x="226.6" y="117.5" width="0.55" height="0.55" fill="#333"/><rect x="225.9" y="116.7" width="0.55" height="0.55" fill="#333"/><rect x="228.1" y="112.5" width="0.55" height="0.55" fill="#333"/><rect x="225.8" y="112.3" width="0.55" height="0.55" fill="#333"/><rect x="224.9" y="112.1" width="0.55" height="0.55" fill="#333"/><rect x="226.1" y="114.9" width="0.55" height="0.55" fill="#333"/><rect x="229.0" y="122.0" width="0.55" height="0.55" fill="#333"/><rect x="225.8" y="117.4" width="0.55" height="0.55" fill="#333"/><rect x="227.1" y="118.5" width="0.55" height="0.55" fill="#333"/><rect x="226.6" y="115.2" width="0.55" height="0.55" fill="#333"/><rect x="225.8" y="108.4" width="0.55" height="0.55" fill="#333"/><rect x="228.2" y="121.9" width="0.55" height="0.55" fill="#333"/><rect x="227.8" y="116.3" width="0.55" height="0.55" fill="#333"/><rect x="227.1" y="110.6" width="0.55" height="0.55" fill="#333"/><rect x="223.4" y="117.8" width="0.55" height="0.55" fill="#333"/><rect x="227.0" y="109.9" width="0.55" height="0.55" fill="#333"/><rect x="224.9" y="121.8" width="0.55" height="0.55" fill="#333"/><rect x="225.3" y="113.4" width="0.55" height="0.55" fill="#333"/><rect x="225.7" y="114.5" width="0.55" height="0.55" fill="#333"/><rect x="226.2" y="108.6" width="0.55" height="0.55" fill="#333"/><rect x="228.5" y="108.4" width="0.55" height="0.55" fill="#333"/><rect x="225.7" y="117.1" width="0.55" height="0.55" fill="#333"/><rect x="225.6" y="110.7" width="0.55" height="0.55" fill="#333"/><rect x="227.2" y="111.1" width="0.55" height="0.55" fill="#333"/><rect x="224.4" y="112.8" width="0.55" height="0.55" fill="#333"/><rect x="224.6" y="119.8" width="0.55" height="0.55" fill="#333"/><rect x="225.2" y="111.2" width="0.55" height="0.55" fill="#333"/><rect x="226.0" y="115.3" width="0.55" height="0.55" fill="#333"/><rect x="225.5" y="122.1" width="0.55" height="0.55" fill="#333"/><rect x="228.4" y="118.8" width="0.55" height="0.55" fill="#333"/><rect x="225.2" y="119.4" width="0.55" height="0.55" fill="#333"/><rect x="226.4" y="115.8" width="0.55" height="0.55" fill="#333"/><rect x="226.1" y="117.8" width="0.55" height="0.55" fill="#333"/><rect x="228.6" y="120.9" width="0.55" height="0.55" fill="#333"/><rect x="226.2" y="120.0" width="0.55" height="0.55" fill="#333"/><rect x="229.2" y="107.4" width="0.55" height="0.55" fill="#333"/><rect x="229.3" y="104.8" width="0.55" height="0.55" fill="#333"/><rect x="227.6" y="117.4" width="0.55" height="0.55" fill="#333"/><rect x="229.3" y="115.3" width="0.55" height="0.55" fill="#333"/><rect x="225.7" y="108.3" width="0.55" height="0.55" fill="#333"/><rect x="224.3" y="118.5" width="0.55" height="0.55" fill="#333"/><rect x="226.2" y="108.8" width="0.55" height="0.55" fill="#333"/><rect x="227.6" y="108.5" width="0.55" height="0.55" fill="#333"/><rect x="225.8" y="110.5" width="0.55" height="0.55" fill="#333"/><rect x="229.6" y="123.0" width="0.55" height="0.55" fill="#333"/><rect x="226.3" y="103.3" width="0.55" height="0.55" fill="#333"/><rect x="227.1" y="114.0" width="0.55" height="0.55" fill="#333"/><rect x="227.2" y="117.2" width="0.55" height="0.55" fill="#333"/><rect x="226.0" y="119.5" width="0.55" height="0.55" fill="#333"/><rect x="228.1" y="114.9" width="0.55" height="0.55" fill="#333"/><rect x="225.9" y="110.4" width="0.55" height="0.55" fill="#333"/><rect x="227.8" y="106.4" width="0.55" height="0.55" fill="#333"/><rect x="226.3" y="108.6" width="0.55" height="0.55" fill="#333"/><rect x="224.1" y="117.4" width="0.55" height="0.55" fill="#333"/><rect x="226.6" y="113.7" width="0.55" height="0.55" fill="#333"/><rect x="228.2" y="103.8" width="0.55" height="0.55" fill="#333"/><rect x="226.5" y="115.4" width="0.55" height="0.55" fill="#333"/><rect x="228.1" y="106.4" width="0.55" height="0.55" fill="#333"/><rect x="227.9" y="114.9" width="0.55" height="0.55" fill="#333"/><rect x="229.0" y="120.9" width="0.55" height="0.55" fill="#333"/><rect x="226.6" y="110.7" width="0.55" height="0.55" fill="#333"/><rect x="226.0" y="107.4" width="0.55" height="0.55" fill="#333"/><rect x="226.5" y="101.3" width="0.55" height="0.55" fill="#333"/><rect x="226.4" y="116.3" width="0.55" height="0.55" fill="#333"/><rect x="228.4" y="111.2" width="0.55" height="0.55" fill="#333"/><rect x="229.1" y="109.3" width="0.55" height="0.55" fill="#333"/><rect x="226.4" y="101.3" width="0.55" height="0.55" fill="#333"/><rect x="225.2" y="108.4" width="0.55" height="0.55" fill="#333"/><rect x="229.2" y="116.9" width="0.55" height="0.55" fill="#333"/><rect x="224.7" y="116.9" width="0.55" height="0.55" fill="#333"/><rect x="227.4" y="112.0" width="0.55" height="0.55" fill="#333"/><rect x="226.6" y="111.6" width="0.55" height="0.55" fill="#333"/><rect x="225.6" y="102.2" width="0.55" height="0.55" fill="#333"/><rect x="226.4" y="121.7" width="0.55" height="0.55" fill="#333"/><rect x="229.1" y="111.7" width="0.55" height="0.55" fill="#333"/><rect x="225.3" y="112.2" width="0.55" height="0.55" fill="#333"/><rect x="228.2" y="115.7" width="0.55" height="0.55" fill="#333"/><rect x="225.6" y="115.8" width="0.55" height="0.55" fill="#333"/><rect x="226.2" y="116.8" width="0.55" height="0.55" fill="#333"/><rect x="225.9" y="104.2" width="0.55" height="0.55" fill="#333"/><rect x="226.7" y="118.3" width="0.55" height="0.55" fill="#333"/><rect x="224.7" y="112.8" width="0.55" height="0.55" fill="#333"/><rect x="228.1" y="111.1" width="0.55" height="0.55" fill="#333"/><rect x="228.1" y="120.0" width="0.55" height="0.55" fill="#333"/><rect x="223.7" y="110.2" width="0.55" height="0.55" fill="#333"/><rect x="227.9" y="121.9" width="0.55" height="0.55" fill="#333"/><rect x="225.0" y="109.3" width="0.55" height="0.55" fill="#333"/><rect x="226.9" y="101.3" width="0.55" height="0.55" fill="#333"/><rect x="227.7" y="117.0" width="0.55" height="0.55" fill="#333"/><rect x="225.8" y="116.9" width="0.55" height="0.55" fill="#333"/><rect x="228.0" y="115.5" width="0.55" height="0.55" fill="#333"/><rect x="227.5" y="123.1" width="0.55" height="0.55" fill="#333"/><rect x="225.8" y="114.5" width="0.55" height="0.55" fill="#333"/><rect x="225.7" y="120.0" width="0.55" height="0.55" fill="#333"/><rect x="225.9" y="116.5" width="0.55" height="0.55" fill="#333"/><rect x="226.8" y="113.9" width="0.55" height="0.55" fill="#333"/><rect x="229.6" y="113.0" width="0.55" height="0.55" fill="#333"/><rect x="229.1" y="118.7" width="0.55" height="0.55" fill="#333"/><rect x="228.9" y="112.5" width="0.55" height="0.55" fill="#333"/><rect x="228.2" y="118.3" width="0.55" height="0.55" fill="#333"/><rect x="225.5" y="115.2" width="0.55" height="0.55" fill="#333"/><rect x="226.4" y="113.3" width="0.55" height="0.55" fill="#333"/><rect x="228.9" y="109.0" width="0.55" height="0.55" fill="#333"/><rect x="223.7" y="102.6" width="0.55" height="0.55" fill="#333"/><rect x="225.8" y="109.5" width="0.55" height="0.55" fill="#333"/><rect x="226.6" y="117.1" width="0.55" height="0.55" fill="#333"/><rect x="229.7" y="115.4" width="0.55" height="0.55" fill="#333"/><rect x="227.4" y="108.9" width="0.55" height="0.55" fill="#333"/><rect x="227.6" y="122.0" width="0.55" height="0.55" fill="#333"/><rect x="228.9" y="101.2" width="0.55" height="0.55" fill="#333"/><rect x="228.0" y="104.1" width="0.55" height="0.55" fill="#333"/><rect x="226.1" y="117.2" width="0.55" height="0.55" fill="#333"/><rect x="227.3" y="108.4" width="0.55" height="0.55" fill="#333"/><rect x="225.1" y="119.5" width="0.55" height="0.55" fill="#333"/><rect x="224.3" y="122.5" width="0.55" height="0.55" fill="#333"/><rect x="226.6" y="115.4" width="0.55" height="0.55" fill="#333"/><rect x="224.3" y="109.8" width="0.55" height="0.55" fill="#333"/><rect x="227.8" y="104.3" width="0.55" height="0.55" fill="#333"/><rect x="230.2" y="104.7" width="0.55" height="0.55" fill="#333"/><rect x="224.5" y="113.8" width="0.55" height="0.55" fill="#333"/><rect x="227.4" y="118.1" width="0.55" height="0.55" fill="#333"/><rect x="226.0" y="112.2" width="0.55" height="0.55" fill="#333"/><rect x="226.2" y="109.9" width="0.55" height="0.55" fill="#333"/><rect x="222.1" y="119.5" width="0.55" height="0.55" fill="#333"/><rect x="227.0" y="114.5" width="0.55" height="0.55" fill="#333"/><rect x="225.5" y="115.1" width="0.55" height="0.55" fill="#333"/><rect x="226.6" y="113.0" width="0.55" height="0.55" fill="#333"/><rect x="228.5" y="102.7" width="0.55" height="0.55" fill="#333"/><rect x="227.0" y="106.8" width="0.55" height="0.55" fill="#333"/><rect x="226.1" y="122.9" width="0.55" height="0.55" fill="#333"/><rect x="224.7" y="112.9" width="0.55" height="0.55" fill="#333"/><rect x="225.6" y="119.4" width="0.55" height="0.55" fill="#333"/><rect x="224.9" y="103.0" width="0.55" height="0.55" fill="#333"/><rect x="227.5" y="111.3" width="0.55" height="0.55" fill="#333"/><rect x="226.0" y="120.2" width="0.55" height="0.55" fill="#333"/><rect x="225.1" y="111.2" width="0.55" height="0.55" fill="#333"/><rect x="226.9" y="116.1" width="0.55" height="0.55" fill="#333"/><rect x="225.7" y="120.0" width="0.55" height="0.55" fill="#333"/><rect x="230.5" y="110.9" width="0.55" height="0.55" fill="#333"/><rect x="229.8" y="100.3" width="0.55" height="0.55" fill="#333"/><rect x="229.0" y="111.4" width="0.55" height="0.55" fill="#333"/><rect x="226.8" y="111.4" width="0.55" height="0.55" fill="#333"/><rect x="225.5" y="105.5" width="0.55" height="0.55" fill="#333"/><rect x="225.9" y="121.6" width="0.55" height="0.55" fill="#333"/><rect x="228.6" y="111.3" width="0.55" height="0.55" fill="#333"/><rect x="225.7" y="109.1" width="0.55" height="0.55" fill="#333"/><rect x="227.7" y="114.2" width="0.55" height="0.55" fill="#333"/><rect x="225.8" y="107.1" width="0.55" height="0.55" fill="#333"/><rect x="228.9" y="118.4" width="0.55" height="0.55" fill="#333"/><rect x="225.0" y="119.7" width="0.55" height="0.55" fill="#333"/><rect x="224.7" y="117.5" width="0.55" height="0.55" fill="#333"/><rect x="224.9" y="110.9" width="0.55" height="0.55" fill="#333"/><rect x="227.5" y="116.2" width="0.55" height="0.55" fill="#333"/><rect x="228.3" y="108.3" width="0.55" height="0.55" fill="#333"/><rect x="229.3" y="121.9" width="0.55" height="0.55" fill="#333"/><rect x="226.6" y="116.4" width="0.55" height="0.55" fill="#333"/><rect x="225.3" y="112.5" width="0.55" height="0.55" fill="#333"/><rect x="224.3" y="114.1" width="0.55" height="0.55" fill="#333"/><rect x="226.9" y="121.9" width="0.55" height="0.55" fill="#333"/><rect x="228.2" y="118.6" width="0.55" height="0.55" fill="#333"/><rect x="226.0" y="112.1" width="0.55" height="0.55" fill="#333"/><rect x="226.0" y="114.9" width="0.55" height="0.55" fill="#333"/><rect x="223.3" y="118.3" width="0.55" height="0.55" fill="#333"/><rect x="223.9" y="110.3" width="0.55" height="0.55" fill="#333"/><rect x="226.6" y="110.3" width="0.55" height="0.55" fill="#333"/><rect x="229.5" y="112.9" width="0.55" height="0.55" fill="#333"/><rect x="229.3" y="120.8" width="0.55" height="0.55" fill="#333"/><rect x="225.7" y="116.0" width="0.55" height="0.55" fill="#333"/><rect x="228.8" y="111.4" width="0.55" height="0.55" fill="#333"/><rect x="226.8" y="110.0" width="0.55" height="0.55" fill="#333"/><rect x="226.7" y="111.3" width="0.55" height="0.55" fill="#333"/><rect x="226.7" y="119.8" width="0.55" height="0.55" fill="#333"/><rect x="229.0" y="114.3" width="0.55" height="0.55" fill="#333"/><rect x="226.9" y="118.8" width="0.55" height="0.55" fill="#333"/><rect x="226.1" y="106.9" width="0.55" height="0.55" fill="#333"/><rect x="228.5" y="107.7" width="0.55" height="0.55" fill="#333"/><rect x="228.2" y="107.5" width="0.55" height="0.55" fill="#333"/><rect x="229.8" y="107.0" width="0.55" height="0.55" fill="#333"/><rect x="228.1" y="122.9" width="0.55" height="0.55" fill="#333"/><rect x="224.9" y="122.8" width="0.55" height="0.55" fill="#333"/><rect x="225.2" y="102.5" width="0.55" height="0.55" fill="#333"/><rect x="227.8" y="117.9" width="0.55" height="0.55" fill="#333"/><rect x="226.2" y="97.7" width="0.55" height="0.55" fill="#333"/><rect x="226.5" y="111.6" width="0.55" height="0.55" fill="#333"/><rect x="225.9" y="111.7" width="0.55" height="0.55" fill="#333"/><rect x="223.5" y="110.0" width="0.55" height="0.55" fill="#333"/><rect x="229.7" y="123.2" width="0.55" height="0.55" fill="#333"/><rect x="226.0" y="109.1" width="0.55" height="0.55" fill="#333"/><rect x="227.3" y="120.1" width="0.55" height="0.55" fill="#333"/><rect x="227.8" y="106.2" width="0.55" height="0.55" fill="#333"/><rect x="226.9" y="114.4" width="0.55" height="0.55" fill="#333"/><rect x="229.1" y="121.0" width="0.55" height="0.55" fill="#333"/><rect x="227.5" y="121.1" width="0.55" height="0.55" fill="#333"/><rect x="225.9" y="123.1" width="0.55" height="0.55" fill="#333"/><rect x="225.9" y="116.0" width="0.55" height="0.55" fill="#333"/><rect x="228.2" y="107.8" width="0.55" height="0.55" fill="#333"/><rect x="225.4" y="102.5" width="0.55" height="0.55" fill="#333"/><rect x="226.9" y="113.2" width="0.55" height="0.55" fill="#333"/><rect x="226.0" y="116.6" width="0.55" height="0.55" fill="#333"/><rect x="222.9" y="113.4" width="0.55" height="0.55" fill="#333"/><rect x="226.8" y="111.8" width="0.55" height="0.55" fill="#333"/><rect x="225.8" y="107.6" width="0.55" height="0.55" fill="#333"/><rect x="225.6" y="114.1" width="0.55" height="0.55" fill="#333"/><rect x="227.6" y="108.1" width="0.55" height="0.55" fill="#333"/><rect x="228.3" y="107.1" width="0.55" height="0.55" fill="#333"/><rect x="228.0" y="116.2" width="0.55" height="0.55" fill="#333"/><rect x="226.1" y="112.5" width="0.55" height="0.55" fill="#333"/><rect x="227.4" y="118.9" width="0.55" height="0.55" fill="#333"/><rect x="224.3" y="115.2" width="0.55" height="0.55" fill="#333"/><rect x="225.3" y="117.4" width="0.55" height="0.55" fill="#333"/><rect x="229.0" y="113.8" width="0.55" height="0.55" fill="#333"/><rect x="226.4" y="114.6" width="0.55" height="0.55" fill="#333"/><rect x="221.5" y="118.3" width="0.55" height="0.55" fill="#333"/><rect x="227.6" y="114.5" width="0.55" height="0.55" fill="#333"/><rect x="225.9" y="108.9" width="0.55" height="0.55" fill="#333"/><rect x="226.3" y="121.1" width="0.55" height="0.55" fill="#333"/><rect x="226.4" y="121.9" width="0.55" height="0.55" fill="#333"/><rect x="222.2" y="110.6" width="0.55" height="0.55" fill="#333"/><rect x="227.1" y="113.4" width="0.55" height="0.55" fill="#333"/><rect x="223.7" y="109.4" width="0.55" height="0.55" fill="#333"/><rect x="228.8" y="105.4" width="0.55" height="0.55" fill="#333"/><rect x="224.9" y="106.7" width="0.55" height="0.55" fill="#333"/><rect x="225.6" y="117.5" width="0.55" height="0.55" fill="#333"/><rect x="227.6" y="100.8" width="0.55" height="0.55" fill="#333"/><rect x="229.1" y="109.8" width="0.55" height="0.55" fill="#333"/><rect x="226.5" y="105.8" width="0.55" height="0.55" fill="#333"/><rect x="225.5" y="109.0" width="0.55" height="0.55" fill="#333"/><rect x="224.9" y="111.4" width="0.55" height="0.55" fill="#333"/><rect x="228.1" y="115.7" width="0.55" height="0.55" fill="#333"/><rect x="224.9" y="114.2" width="0.55" height="0.55" fill="#333"/><rect x="226.7" y="118.3" width="0.55" height="0.55" fill="#333"/><rect x="226.0" y="116.3" width="0.55" height="0.55" fill="#333"/><rect x="230.2" y="114.1" width="0.55" height="0.55" fill="#333"/><rect x="224.7" y="115.5" width="0.55" height="0.55" fill="#333"/><rect x="225.2" y="111.2" width="0.55" height="0.55" fill="#333"/><rect x="226.9" y="115.6" width="0.55" height="0.55" fill="#333"/><rect x="226.1" y="118.8" width="0.55" height="0.55" fill="#333"/><rect x="226.3" y="105.4" width="0.55" height="0.55" fill="#333"/><rect x="228.1" y="111.2" width="0.55" height="0.55" fill="#333"/><rect x="228.7" y="109.4" width="0.55" height="0.55" fill="#333"/><rect x="227.6" y="115.5" width="0.55" height="0.55" fill="#333"/><rect x="221.9" y="104.2" width="0.55" height="0.55" fill="#333"/><rect x="224.7" y="122.3" width="0.55" height="0.55" fill="#333"/><rect x="223.3" y="119.2" width="0.55" height="0.55" fill="#333"/><rect x="228.5" y="116.6" width="0.55" height="0.55" fill="#333"/><rect x="227.8" y="110.4" width="0.55" height="0.55" fill="#333"/><rect x="226.6" y="114.9" width="0.55" height="0.55" fill="#333"/><rect x="227.3" y="117.9" width="0.55" height="0.55" fill="#333"/><rect x="226.2" y="109.1" width="0.55" height="0.55" fill="#333"/><rect x="225.6" y="116.1" width="0.55" height="0.55" fill="#333"/><rect x="223.7" y="105.7" width="0.55" height="0.55" fill="#333"/><rect x="225.9" y="110.0" width="0.55" height="0.55" fill="#333"/><rect x="226.1" y="96.9" width="0.55" height="0.55" fill="#333"/><rect x="226.0" y="111.9" width="0.55" height="0.55" fill="#333"/><rect x="227.9" y="101.1" width="0.55" height="0.55" fill="#333"/><rect x="226.1" y="116.5" width="0.55" height="0.55" fill="#333"/><rect x="227.4" y="121.0" width="0.55" height="0.55" fill="#333"/><rect x="228.4" y="106.9" width="0.55" height="0.55" fill="#333"/><rect x="227.7" y="111.4" width="0.55" height="0.55" fill="#333"/><rect x="225.2" y="123.1" width="0.55" height="0.55" fill="#333"/><rect x="225.5" y="108.2" width="0.55" height="0.55" fill="#333"/><rect x="225.9" y="108.2" width="0.55" height="0.55" fill="#333"/><rect x="228.3" y="115.9" width="0.55" height="0.55" fill="#333"/><rect x="229.0" y="116.1" width="0.55" height="0.55" fill="#333"/><rect x="225.5" y="120.0" width="0.55" height="0.55" fill="#333"/><rect x="225.5" y="110.6" width="0.55" height="0.55" fill="#333"/><rect x="226.3" y="113.7" width="0.55" height="0.55" fill="#333"/><rect x="228.7" y="109.7" width="0.55" height="0.55" fill="#333"/><rect x="227.2" y="113.3" width="0.55" height="0.55" fill="#333"/><rect x="224.4" y="106.7" width="0.55" height="0.55" fill="#333"/><rect x="226.2" y="116.0" width="0.55" height="0.55" fill="#333"/><rect x="227.2" y="116.5" width="0.55" height="0.55" fill="#333"/><rect x="226.7" y="110.7" width="0.55" height="0.55" fill="#333"/><rect x="227.3" y="107.2" width="0.55" height="0.55" fill="#333"/><rect x="224.3" y="111.4" width="0.55" height="0.55" fill="#333"/><rect x="224.1" y="110.3" width="0.55" height="0.55" fill="#333"/><rect x="225.3" y="110.0" width="0.55" height="0.55" fill="#333"/><rect x="226.5" y="108.5" width="0.55" height="0.55" fill="#333"/><rect x="225.9" y="102.8" width="0.55" height="0.55" fill="#333"/><rect x="226.9" y="108.0" width="0.55" height="0.55" fill="#333"/><rect x="227.3" y="95.8" width="0.55" height="0.55" fill="#333"/><rect x="225.2" y="115.0" width="0.55" height="0.55" fill="#333"/><rect x="222.4" y="111.2" width="0.55" height="0.55" fill="#333"/><rect x="226.8" y="114.1" width="0.55" height="0.55" fill="#333"/><rect x="224.0" y="114.9" width="0.55" height="0.55" fill="#333"/><rect x="226.9" y="107.4" width="0.55" height="0.55" fill="#333"/><rect x="227.9" y="113.2" width="0.55" height="0.55" fill="#333"/><rect x="226.6" y="110.7" width="0.55" height="0.55" fill="#333"/><rect x="227.6" y="114.1" width="0.55" height="0.55" fill="#333"/><rect x="228.6" y="116.3" width="0.55" height="0.55" fill="#333"/><rect x="225.5" y="112.1" width="0.55" height="0.55" fill="#333"/><rect x="228.2" y="111.2" width="0.55" height="0.55" fill="#333"/><rect x="227.3" y="116.8" width="0.55" height="0.55" fill="#333"/><rect x="226.3" y="98.9" width="0.55" height="0.55" fill="#333"/><rect x="226.8" y="114.8" width="0.55" height="0.55" fill="#333"/><rect x="226.8" y="108.7" width="0.55" height="0.55" fill="#333"/><rect x="228.7" y="112.7" width="0.55" height="0.55" fill="#333"/><rect x="225.5" y="109.0" width="0.55" height="0.55" fill="#333"/><rect x="227.2" y="106.6" width="0.55" height="0.55" fill="#333"/><rect x="228.9" y="120.1" width="0.55" height="0.55" fill="#333"/><rect x="229.0" y="117.2" width="0.55" height="0.55" fill="#333"/><rect x="223.7" y="121.0" width="0.55" height="0.55" fill="#333"/><rect x="228.8" y="116.6" width="0.55" height="0.55" fill="#333"/><rect x="223.2" y="121.3" width="0.55" height="0.55" fill="#333"/><rect x="229.0" y="110.4" width="0.55" height="0.55" fill="#333"/><rect x="226.8" y="118.4" width="0.55" height="0.55" fill="#333"/><rect x="226.5" y="120.4" width="0.55" height="0.55" fill="#333"/><rect x="226.7" y="117.9" width="0.55" height="0.55" fill="#333"/><rect x="226.7" y="104.2" width="0.55" height="0.55" fill="#333"/><rect x="227.1" y="121.8" width="0.55" height="0.55" fill="#333"/><rect x="227.6" y="109.7" width="0.55" height="0.55" fill="#333"/><rect x="226.6" y="101.4" width="0.55" height="0.55" fill="#333"/><rect x="226.3" y="119.2" width="0.55" height="0.55" fill="#333"/><rect x="222.8" y="114.7" width="0.55" height="0.55" fill="#333"/><rect x="228.0" y="121.9" width="0.55" height="0.55" fill="#333"/><rect x="225.0" y="109.4" width="0.55" height="0.55" fill="#333"/><rect x="223.3" y="107.1" width="0.55" height="0.55" fill="#333"/><rect x="224.6" y="122.2" width="0.55" height="0.55" fill="#333"/><rect x="227.3" y="110.4" width="0.55" height="0.55" fill="#333"/><rect x="230.4" y="97.6" width="0.55" height="0.55" fill="#333"/><rect x="226.5" y="114.9" width="0.55" height="0.55" fill="#333"/><rect x="230.6" y="114.3" width="0.55" height="0.55" fill="#333"/><rect x="228.3" y="122.1" width="0.55" height="0.55" fill="#333"/><rect x="227.5" y="115.8" width="0.55" height="0.55" fill="#333"/><rect x="226.3" y="110.9" width="0.55" height="0.55" fill="#333"/><rect x="225.8" y="100.4" width="0.55" height="0.55" fill="#333"/><rect x="227.1" y="113.3" width="0.55" height="0.55" fill="#333"/><rect x="226.4" y="111.8" width="0.55" height="0.55" fill="#333"/><rect x="225.3" y="113.4" width="0.55" height="0.55" fill="#333"/><rect x="225.8" y="114.8" width="0.55" height="0.55" fill="#333"/><rect x="232.1" y="116.0" width="0.55" height="0.55" fill="#333"/><rect x="228.1" y="118.7" width="0.55" height="0.55" fill="#333"/><rect x="227.9" y="118.7" width="0.55" height="0.55" fill="#333"/><rect x="227.8" y="122.4" width="0.55" height="0.55" fill="#333"/><rect x="228.4" y="122.0" width="0.55" height="0.55" fill="#333"/><rect x="225.7" y="113.5" width="0.55" height="0.55" fill="#333"/><rect x="225.3" y="119.6" width="0.55" height="0.55" fill="#333"/><rect x="228.1" y="110.6" width="0.55" height="0.55" fill="#333"/><rect x="228.8" y="106.4" width="0.55" height="0.55" fill="#333"/><rect x="226.4" y="117.5" width="0.55" height="0.55" fill="#333"/><rect x="226.5" y="115.9" width="0.55" height="0.55" fill="#333"/><rect x="228.7" y="115.6" width="0.55" height="0.55" fill="#333"/><rect x="224.7" y="118.0" width="0.55" height="0.55" fill="#333"/><rect x="226.4" y="114.2" width="0.55" height="0.55" fill="#333"/><rect x="225.6" y="104.7" width="0.55" height="0.55" fill="#333"/><rect x="224.4" y="111.3" width="0.55" height="0.55" fill="#333"/><rect x="224.7" y="96.3" width="0.55" height="0.55" fill="#333"/><rect x="228.6" y="106.1" width="0.55" height="0.55" fill="#333"/><rect x="225.3" y="116.9" width="0.55" height="0.55" fill="#333"/><rect x="222.4" y="122.0" width="0.55" height="0.55" fill="#333"/><rect x="225.3" y="117.7" width="0.55" height="0.55" fill="#333"/><rect x="225.8" y="115.4" width="0.55" height="0.55" fill="#333"/><rect x="226.8" y="113.5" width="0.55" height="0.55" fill="#333"/><rect x="223.4" y="104.2" width="0.55" height="0.55" fill="#333"/><rect x="226.5" y="122.4" width="0.55" height="0.55" fill="#333"/><rect x="225.6" y="116.9" width="0.55" height="0.55" fill="#333"/><rect x="226.9" y="116.6" width="0.55" height="0.55" fill="#333"/><rect x="228.3" y="104.0" width="0.55" height="0.55" fill="#333"/><rect x="227.1" y="112.4" width="0.55" height="0.55" fill="#333"/><rect x="226.1" y="108.1" width="0.55" height="0.55" fill="#333"/><rect x="225.2" y="107.0" width="0.55" height="0.55" fill="#333"/><rect x="229.6" y="113.6" width="0.55" height="0.55" fill="#333"/><rect x="227.9" y="107.3" width="0.55" height="0.55" fill="#333"/><rect x="221.7" y="102.0" width="0.55" height="0.55" fill="#333"/><rect x="226.8" y="122.6" width="0.55" height="0.55" fill="#333"/><rect x="226.5" y="107.2" width="0.55" height="0.55" fill="#333"/><rect x="226.2" y="107.2" width="0.55" height="0.55" fill="#333"/><rect x="224.2" y="112.0" width="0.55" height="0.55" fill="#333"/><rect x="225.9" y="108.4" width="0.55" height="0.55" fill="#333"/><rect x="225.0" y="107.6" width="0.55" height="0.55" fill="#333"/><rect x="227.0" y="122.3" width="0.55" height="0.55" fill="#333"/><rect x="223.8" y="115.2" width="0.55" height="0.55" fill="#333"/><rect x="224.6" y="112.5" width="0.55" height="0.55" fill="#333"/><rect x="226.8" y="117.0" width="0.55" height="0.55" fill="#333"/><rect x="228.6" y="110.0" width="0.55" height="0.55" fill="#333"/><rect x="224.4" y="112.3" width="0.55" height="0.55" fill="#333"/><rect x="227.1" y="109.1" width="0.55" height="0.55" fill="#333"/><rect x="224.1" y="115.8" width="0.55" height="0.55" fill="#333"/><rect x="228.4" y="101.3" width="0.55" height="0.55" fill="#333"/><rect x="227.0" y="112.1" width="0.55" height="0.55" fill="#333"/><rect x="224.1" y="121.8" width="0.55" height="0.55" fill="#333"/><rect x="227.0" y="110.5" width="0.55" height="0.55" fill="#333"/><rect x="227.4" y="117.6" width="0.55" height="0.55" fill="#333"/><rect x="227.9" y="117.2" width="0.55" height="0.55" fill="#333"/><rect x="227.3" y="106.0" width="0.55" height="0.55" fill="#333"/><rect x="225.9" y="114.3" width="0.55" height="0.55" fill="#333"/><rect x="225.9" y="106.8" width="0.55" height="0.55" fill="#333"/><rect x="223.4" y="115.1" width="0.55" height="0.55" fill="#333"/><rect x="226.7" y="109.8" width="0.55" height="0.55" fill="#333"/><rect x="225.9" y="107.9" width="0.55" height="0.55" fill="#333"/><rect x="225.3" y="112.9" width="0.55" height="0.55" fill="#333"/><rect x="225.5" y="117.8" width="0.55" height="0.55" fill="#333"/><rect x="226.3" y="114.3" width="0.55" height="0.55" fill="#333"/><rect x="227.3" y="121.6" width="0.55" height="0.55" fill="#333"/><rect x="227.7" y="114.9" width="0.55" height="0.55" fill="#333"/><rect x="226.3" y="108.4" width="0.55" height="0.55" fill="#333"/><rect x="226.0" y="117.8" width="0.55" height="0.55" fill="#333"/><rect x="227.0" y="111.0" width="0.55" height="0.55" fill="#333"/><rect x="224.3" y="103.8" width="0.55" height="0.55" fill="#333"/><rect x="227.2" y="120.0" width="0.55" height="0.55" fill="#333"/><rect x="227.3" y="104.8" width="0.55" height="0.55" fill="#333"/><rect x="226.2" y="114.9" width="0.55" height="0.55" fill="#333"/><rect x="225.0" y="115.7" width="0.55" height="0.55" fill="#333"/><rect x="226.2" y="108.2" width="0.55" height="0.55" fill="#333"/><rect x="224.4" y="118.6" width="0.55" height="0.55" fill="#333"/><rect x="227.2" y="107.9" width="0.55" height="0.55" fill="#333"/><rect x="224.8" y="119.1" width="0.55" height="0.55" fill="#333"/><rect x="227.6" y="111.6" width="0.55" height="0.55" fill="#333"/><rect x="229.4" y="111.7" width="0.55" height="0.55" fill="#333"/><rect x="224.7" y="120.4" width="0.55" height="0.55" fill="#333"/><rect x="226.3" y="115.7" width="0.55" height="0.55" fill="#333"/><rect x="226.7" y="107.2" width="0.55" height="0.55" fill="#333"/><rect x="224.5" y="112.3" width="0.55" height="0.55" fill="#333"/><rect x="229.1" y="107.1" width="0.55" height="0.55" fill="#333"/><rect x="229.0" y="114.9" width="0.55" height="0.55" fill="#333"/><rect x="224.7" y="115.2" width="0.55" height="0.55" fill="#333"/><rect x="227.6" y="107.8" width="0.55" height="0.55" fill="#333"/><rect x="222.9" y="115.8" width="0.55" height="0.55" fill="#333"/><rect x="224.7" y="116.3" width="0.55" height="0.55" fill="#333"/><rect x="223.3" y="112.6" width="0.55" height="0.55" fill="#333"/><rect x="225.2" y="104.1" width="0.55" height="0.55" fill="#333"/><rect x="226.2" y="114.6" width="0.55" height="0.55" fill="#333"/><rect x="225.6" y="106.0" width="0.55" height="0.55" fill="#333"/><rect x="227.0" y="102.4" width="0.55" height="0.55" fill="#333"/><rect x="227.5" y="116.6" width="0.55" height="0.55" fill="#333"/><rect x="229.5" y="119.1" width="0.55" height="0.55" fill="#333"/><rect x="227.2" y="115.2" width="0.55" height="0.55" fill="#333"/><rect x="226.6" y="105.1" width="0.55" height="0.55" fill="#333"/><rect x="229.2" y="116.8" width="0.55" height="0.55" fill="#333"/><rect x="226.1" y="106.3" width="0.55" height="0.55" fill="#333"/><rect x="229.2" y="116.9" width="0.55" height="0.55" fill="#333"/><rect x="224.5" y="117.7" width="0.55" height="0.55" fill="#333"/><rect x="229.9" y="113.4" width="0.55" height="0.55" fill="#333"/><rect x="227.3" y="110.9" width="0.55" height="0.55" fill="#333"/><rect x="225.5" y="120.3" width="0.55" height="0.55" fill="#333"/><rect x="232.0" y="114.2" width="0.55" height="0.55" fill="#333"/><rect x="226.4" y="118.5" width="0.55" height="0.55" fill="#333"/><rect x="226.1" y="118.1" width="0.55" height="0.55" fill="#333"/><rect x="228.0" y="107.1" width="0.55" height="0.55" fill="#333"/><rect x="224.7" y="113.0" width="0.55" height="0.55" fill="#333"/><rect x="228.1" y="115.2" width="0.55" height="0.55" fill="#333"/><rect x="228.8" y="104.8" width="0.55" height="0.55" fill="#333"/><rect x="227.5" y="109.6" width="0.55" height="0.55" fill="#333"/><rect x="226.8" y="115.5" width="0.55" height="0.55" fill="#333"/><rect x="224.9" y="112.1" width="0.55" height="0.55" fill="#333"/><rect x="224.6" y="115.2" width="0.55" height="0.55" fill="#333"/><rect x="225.1" y="110.4" width="0.55" height="0.55" fill="#333"/><rect x="227.0" y="109.4" width="0.55" height="0.55" fill="#333"/><rect x="228.6" y="109.5" width="0.55" height="0.55" fill="#333"/><rect x="228.1" y="115.3" width="0.55" height="0.55" fill="#333"/><rect x="224.8" y="112.1" width="0.55" height="0.55" fill="#333"/><rect x="225.1" y="111.2" width="0.55" height="0.55" fill="#333"/><rect x="227.4" y="105.3" width="0.55" height="0.55" fill="#333"/><rect x="222.6" y="117.8" width="0.55" height="0.55" fill="#333"/><rect x="223.1" y="118.0" width="0.55" height="0.55" fill="#333"/><rect x="228.4" y="116.0" width="0.55" height="0.55" fill="#333"/><rect x="226.2" y="111.9" width="0.55" height="0.55" fill="#333"/><rect x="227.1" y="111.6" width="0.55" height="0.55" fill="#333"/><rect x="225.7" y="111.2" width="0.55" height="0.55" fill="#333"/><rect x="228.6" y="109.6" width="0.55" height="0.55" fill="#333"/><rect x="227.3" y="106.3" width="0.55" height="0.55" fill="#333"/><rect x="225.4" y="104.8" width="0.55" height="0.55" fill="#333"/><rect x="226.3" y="117.8" width="0.55" height="0.55" fill="#333"/><rect x="227.1" y="110.4" width="0.55" height="0.55" fill="#333"/><rect x="227.7" y="111.3" width="0.55" height="0.55" fill="#333"/><rect x="227.2" y="115.2" width="0.55" height="0.55" fill="#333"/><rect x="227.5" y="97.9" width="0.55" height="0.55" fill="#333"/><rect x="224.3" y="118.4" width="0.55" height="0.55" fill="#333"/><rect x="226.2" y="110.0" width="0.55" height="0.55" fill="#333"/><rect x="229.2" y="117.0" width="0.55" height="0.55" fill="#333"/><rect x="229.9" y="116.7" width="0.55" height="0.55" fill="#333"/><rect x="226.2" y="118.1" width="0.55" height="0.55" fill="#333"/><rect x="225.2" y="110.7" width="0.55" height="0.55" fill="#333"/><rect x="225.6" y="112.1" width="0.55" height="0.55" fill="#333"/><rect x="228.0" y="110.5" width="0.55" height="0.55" fill="#333"/><rect x="227.2" y="110.4" width="0.55" height="0.55" fill="#333"/><rect x="228.1" y="96.2" width="0.55" height="0.55" fill="#333"/><rect x="226.2" y="114.6" width="0.55" height="0.55" fill="#333"/><rect x="224.7" y="119.9" width="0.55" height="0.55" fill="#333"/><rect x="227.0" y="121.6" width="0.55" height="0.55" fill="#333"/><rect x="228.3" y="117.5" width="0.55" height="0.55" fill="#333"/><rect x="226.3" y="106.7" width="0.55" height="0.55" fill="#333"/><rect x="226.2" y="110.6" width="0.55" height="0.55" fill="#333"/><rect x="227.0" y="110.6" width="0.55" height="0.55" fill="#333"/><rect x="231.9" y="103.5" width="0.55" height="0.55" fill="#333"/><rect x="228.6" y="110.5" width="0.55" height="0.55" fill="#333"/><rect x="226.2" y="119.3" width="0.55" height="0.55" fill="#333"/><rect x="226.6" y="105.9" width="0.55" height="0.55" fill="#333"/><rect x="227.3" y="112.3" width="0.55" height="0.55" fill="#333"/><rect x="223.0" y="114.7" width="0.55" height="0.55" fill="#333"/><rect x="224.8" y="108.8" width="0.55" height="0.55" fill="#333"/><rect x="227.4" y="115.4" width="0.55" height="0.55" fill="#333"/><rect x="227.3" y="109.6" width="0.55" height="0.55" fill="#333"/><rect x="226.8" y="112.6" width="0.5" height="0.5" fill="#888"/><rect x="218.8" y="101.6" width="0.5" height="0.5" fill="#888"/><rect x="225.4" y="111.4" width="0.5" height="0.5" fill="#888"/><rect x="224.1" y="120.9" width="0.5" height="0.5" fill="#888"/><rect x="225.6" y="116.3" width="0.5" height="0.5" fill="#888"/><rect x="224.6" y="112.2" width="0.5" height="0.5" fill="#888"/><rect x="220.3" y="109.1" width="0.5" height="0.5" fill="#888"/><rect x="222.9" y="108.6" width="0.5" height="0.5" fill="#888"/><rect x="230.0" y="115.5" width="0.5" height="0.5" fill="#888"/><rect x="230.0" y="120.0" width="0.5" height="0.5" fill="#888"/><rect x="229.0" y="121.1" width="0.5" height="0.5" fill="#888"/><rect x="224.0" y="119.5" width="0.5" height="0.5" fill="#888"/><rect x="224.9" y="109.5" width="0.5" height="0.5" fill="#888"/><rect x="228.7" y="107.1" width="0.5" height="0.5" fill="#888"/><rect x="226.9" y="116.3" width="0.5" height="0.5" fill="#888"/><rect x="227.2" y="110.8" width="0.5" height="0.5" fill="#888"/><rect x="221.8" y="113.7" width="0.5" height="0.5" fill="#888"/><rect x="228.8" y="119.4" width="0.5" height="0.5" fill="#888"/><rect x="228.2" y="121.8" width="0.5" height="0.5" fill="#888"/><rect x="222.8" y="113.2" width="0.5" height="0.5" fill="#888"/><rect x="227.1" y="121.0" width="0.5" height="0.5" fill="#888"/><rect x="226.5" y="117.4" width="0.5" height="0.5" fill="#888"/><rect x="218.8" y="113.3" width="0.5" height="0.5" fill="#888"/><rect x="234.1" y="115.3" width="0.5" height="0.5" fill="#888"/><rect x="220.0" y="114.5" width="0.5" height="0.5" fill="#888"/><rect x="221.3" y="108.4" width="0.5" height="0.5" fill="#888"/><rect x="227.5" y="118.5" width="0.5" height="0.5" fill="#888"/><rect x="229.3" y="115.0" width="0.5" height="0.5" fill="#888"/><rect x="223.2" y="112.8" width="0.5" height="0.5" fill="#888"/><rect x="227.1" y="111.4" width="0.5" height="0.5" fill="#888"/><rect x="223.8" y="110.8" width="0.5" height="0.5" fill="#888"/><rect x="221.1" y="105.8" width="0.5" height="0.5" fill="#888"/><rect x="225.7" y="110.8" width="0.5" height="0.5" fill="#888"/><rect x="227.0" y="113.3" width="0.5" height="0.5" fill="#888"/><rect x="222.2" y="105.4" width="0.5" height="0.5" fill="#888"/><rect x="227.2" y="106.9" width="0.5" height="0.5" fill="#888"/><rect x="227.4" y="105.4" width="0.5" height="0.5" fill="#888"/><rect x="226.4" y="113.0" width="0.5" height="0.5" fill="#888"/><rect x="229.3" y="110.6" width="0.5" height="0.5" fill="#888"/><rect x="224.8" y="115.3" width="0.5" height="0.5" fill="#888"/><rect x="225.2" y="109.5" width="0.5" height="0.5" fill="#888"/><rect x="225.0" y="117.1" width="0.5" height="0.5" fill="#888"/><rect x="226.8" y="118.7" width="0.5" height="0.5" fill="#888"/><rect x="232.0" y="113.3" width="0.5" height="0.5" fill="#888"/><rect x="222.0" y="114.7" width="0.5" height="0.5" fill="#888"/><rect x="227.4" y="96.7" width="0.5" height="0.5" fill="#888"/><rect x="226.0" y="102.4" width="0.5" height="0.5" fill="#888"/><rect x="229.4" y="102.2" width="0.5" height="0.5" fill="#888"/><rect x="230.5" y="120.3" width="0.5" height="0.5" fill="#888"/><rect x="224.8" y="117.3" width="0.5" height="0.5" fill="#888"/><rect x="231.0" y="111.0" width="0.5" height="0.5" fill="#888"/><rect x="225.9" y="109.3" width="0.5" height="0.5" fill="#888"/><rect x="229.8" y="97.3" width="0.5" height="0.5" fill="#888"/><rect x="230.6" y="106.2" width="0.5" height="0.5" fill="#888"/><rect x="229.0" y="101.3" width="0.5" height="0.5" fill="#888"/><rect x="222.9" y="109.0" width="0.5" height="0.5" fill="#888"/><rect x="228.7" y="101.3" width="0.5" height="0.5" fill="#888"/><rect x="228.0" y="108.7" width="0.5" height="0.5" fill="#888"/><rect x="230.1" y="111.2" width="0.5" height="0.5" fill="#888"/><rect x="227.6" y="112.2" width="0.5" height="0.5" fill="#888"/><rect x="231.9" y="110.8" width="0.5" height="0.5" fill="#888"/><rect x="226.3" y="118.6" width="0.5" height="0.5" fill="#888"/><rect x="223.6" y="115.0" width="0.5" height="0.5" fill="#888"/><rect x="218.6" y="114.3" width="0.5" height="0.5" fill="#888"/><rect x="223.9" y="102.2" width="0.5" height="0.5" fill="#888"/><rect x="221.4" y="122.1" width="0.5" height="0.5" fill="#888"/><rect x="227.4" y="102.1" width="0.5" height="0.5" fill="#888"/><rect x="231.9" y="108.3" width="0.5" height="0.5" fill="#888"/><rect x="224.8" y="115.4" width="0.5" height="0.5" fill="#888"/><rect x="222.3" y="101.4" width="0.5" height="0.5" fill="#888"/><rect x="223.6" y="122.4" width="0.5" height="0.5" fill="#888"/><rect x="229.1" y="101.6" width="0.5" height="0.5" fill="#888"/><rect x="229.9" y="113.8" width="0.5" height="0.5" fill="#888"/><rect x="227.6" y="113.9" width="0.5" height="0.5" fill="#888"/><rect x="227.4" y="106.0" width="0.5" height="0.5" fill="#888"/><rect x="223.0" y="108.2" width="0.5" height="0.5" fill="#888"/><rect x="224.8" y="118.1" width="0.5" height="0.5" fill="#888"/><rect x="223.9" y="109.1" width="0.5" height="0.5" fill="#888"/><rect x="228.3" y="116.8" width="0.5" height="0.5" fill="#888"/><rect x="224.9" y="105.5" width="0.5" height="0.5" fill="#888"/><rect x="222.7" y="101.5" width="0.5" height="0.5" fill="#888"/><rect x="229.7" y="121.6" width="0.5" height="0.5" fill="#888"/><rect x="232.1" y="117.2" width="0.5" height="0.5" fill="#888"/><rect x="227.1" y="119.2" width="0.5" height="0.5" fill="#888"/><rect x="229.1" y="111.6" width="0.5" height="0.5" fill="#888"/><rect x="220.5" y="102.9" width="0.5" height="0.5" fill="#888"/><rect x="222.8" y="119.2" width="0.5" height="0.5" fill="#888"/><rect x="229.9" y="111.0" width="0.5" height="0.5" fill="#888"/><rect x="228.2" y="113.1" width="0.5" height="0.5" fill="#888"/><rect x="227.0" y="109.4" width="0.5" height="0.5" fill="#888"/><rect x="225.9" y="113.5" width="0.5" height="0.5" fill="#888"/><rect x="220.1" y="117.5" width="0.5" height="0.5" fill="#888"/><rect x="226.0" y="120.8" width="0.5" height="0.5" fill="#888"/><rect x="229.5" y="119.4" width="0.5" height="0.5" fill="#888"/><rect x="228.6" y="106.4" width="0.5" height="0.5" fill="#888"/><rect x="230.0" y="106.3" width="0.5" height="0.5" fill="#888"/><rect x="230.2" y="118.5" width="0.5" height="0.5" fill="#888"/><rect x="218.0" y="120.3" width="0.5" height="0.5" fill="#888"/><rect x="222.8" y="122.3" width="0.5" height="0.5" fill="#888"/><rect x="223.8" y="107.9" width="0.5" height="0.5" fill="#888"/><rect x="220.9" y="111.9" width="0.5" height="0.5" fill="#888"/><rect x="229.3" y="108.5" width="0.5" height="0.5" fill="#888"/><rect x="232.0" y="118.7" width="0.5" height="0.5" fill="#888"/><rect x="224.2" y="104.4" width="0.5" height="0.5" fill="#888"/><rect x="220.6" y="117.7" width="0.5" height="0.5" fill="#888"/><rect x="230.3" y="105.5" width="0.5" height="0.5" fill="#888"/><rect x="226.0" y="111.4" width="0.5" height="0.5" fill="#888"/><rect x="225.2" y="117.3" width="0.5" height="0.5" fill="#888"/><rect x="232.9" y="108.7" width="0.5" height="0.5" fill="#888"/><rect x="228.8" y="121.7" width="0.5" height="0.5" fill="#888"/><rect x="225.1" y="112.4" width="0.5" height="0.5" fill="#888"/><rect x="221.6" y="121.6" width="0.5" height="0.5" fill="#888"/><rect x="224.3" y="108.6" width="0.5" height="0.5" fill="#888"/><rect x="226.2" y="107.0" width="0.5" height="0.5" fill="#888"/><rect x="222.6" y="111.3" width="0.5" height="0.5" fill="#888"/><rect x="230.9" y="112.0" width="0.5" height="0.5" fill="#888"/><rect x="227.7" y="102.5" width="0.5" height="0.5" fill="#888"/><rect x="224.7" y="101.9" width="0.5" height="0.5" fill="#888"/><rect x="225.7" y="118.1" width="0.5" height="0.5" fill="#888"/><rect x="220.3" y="106.9" width="0.5" height="0.5" fill="#888"/><rect x="226.9" y="106.6" width="0.5" height="0.5" fill="#888"/><rect x="228.6" y="120.7" width="0.5" height="0.5" fill="#888"/><rect x="227.5" y="110.3" width="0.5" height="0.5" fill="#888"/><rect x="225.8" y="108.7" width="0.5" height="0.5" fill="#888"/><rect x="225.6" y="115.9" width="0.5" height="0.5" fill="#888"/><rect x="225.0" y="120.8" width="0.5" height="0.5" fill="#888"/><rect x="234.5" y="109.4" width="0.5" height="0.5" fill="#888"/><rect x="227.1" y="119.7" width="0.5" height="0.5" fill="#888"/><rect x="228.1" y="111.7" width="0.5" height="0.5" fill="#888"/><rect x="224.4" y="121.1" width="0.5" height="0.5" fill="#888"/><rect x="228.1" y="117.3" width="0.5" height="0.5" fill="#888"/><rect x="223.4" y="118.3" width="0.5" height="0.5" fill="#888"/><rect x="228.6" y="112.1" width="0.5" height="0.5" fill="#888"/><rect x="219.8" y="118.1" width="0.5" height="0.5" fill="#888"/><rect x="222.2" y="103.2" width="0.5" height="0.5" fill="#888"/><rect x="225.2" y="117.6" width="0.5" height="0.5" fill="#888"/><rect x="226.2" y="104.7" width="0.5" height="0.5" fill="#888"/><rect x="221.3" y="109.3" width="0.5" height="0.5" fill="#888"/><rect x="226.0" y="107.2" width="0.5" height="0.5" fill="#888"/><rect x="223.2" y="112.3" width="0.5" height="0.5" fill="#888"/><rect x="224.2" y="109.1" width="0.5" height="0.5" fill="#888"/><rect x="226.1" y="111.3" width="0.5" height="0.5" fill="#888"/><rect x="228.0" y="104.6" width="0.5" height="0.5" fill="#888"/><rect x="225.8" y="119.3" width="0.5" height="0.5" fill="#888"/><rect x="229.9" y="117.7" width="0.5" height="0.5" fill="#888"/><rect x="226.1" y="101.8" width="0.5" height="0.5" fill="#888"/><rect x="220.7" y="120.9" width="0.5" height="0.5" fill="#888"/><rect x="228.2" y="117.8" width="0.5" height="0.5" fill="#888"/><rect x="220.5" y="97.4" width="0.5" height="0.5" fill="#888"/><rect x="222.5" y="104.6" width="0.5" height="0.5" fill="#888"/><rect x="226.5" y="105.8" width="0.5" height="0.5" fill="#888"/><rect x="231.2" y="108.8" width="0.5" height="0.5" fill="#888"/><rect x="224.1" y="120.0" width="0.5" height="0.5" fill="#888"/><rect x="227.1" y="106.7" width="0.5" height="0.5" fill="#888"/><rect x="222.0" y="111.6" width="0.5" height="0.5" fill="#888"/><rect x="222.4" y="98.8" width="0.5" height="0.5" fill="#888"/><rect x="228.1" y="118.8" width="0.5" height="0.5" fill="#888"/><rect x="229.2" y="116.7" width="0.5" height="0.5" fill="#888"/><rect x="219.4" y="113.3" width="0.5" height="0.5" fill="#888"/><rect x="223.8" y="104.6" width="0.5" height="0.5" fill="#888"/><rect x="222.3" y="119.3" width="0.5" height="0.5" fill="#888"/><rect x="227.6" y="99.0" width="0.5" height="0.5" fill="#888"/><rect x="229.0" y="123.0" width="0.5" height="0.5" fill="#888"/><rect x="226.1" y="104.3" width="0.5" height="0.5" fill="#888"/><rect x="231.8" y="103.5" width="0.5" height="0.5" fill="#888"/><rect x="225.7" y="99.0" width="0.5" height="0.5" fill="#888"/><rect x="221.9" y="100.6" width="0.5" height="0.5" fill="#888"/><rect x="229.6" y="122.4" width="0.5" height="0.5" fill="#888"/><rect x="224.7" y="103.2" width="0.5" height="0.5" fill="#888"/><rect x="225.8" y="116.4" width="0.5" height="0.5" fill="#888"/><rect x="221.0" y="104.7" width="0.5" height="0.5" fill="#888"/><rect x="225.7" y="118.8" width="0.5" height="0.5" fill="#888"/><rect x="226.2" y="116.9" width="0.5" height="0.5" fill="#888"/><rect x="221.9" y="94.6" width="0.5" height="0.5" fill="#888"/><rect x="227.0" y="106.5" width="0.5" height="0.5" fill="#888"/><rect x="225.6" y="110.6" width="0.5" height="0.5" fill="#888"/><rect x="227.6" y="107.6" width="0.5" height="0.5" fill="#888"/><rect x="189.2" y="109.4" width="0.45" height="0.45" fill="#999"/><rect x="195.4" y="97.1" width="0.45" height="0.45" fill="#999"/><rect x="191.7" y="103.0" width="0.45" height="0.45" fill="#999"/><rect x="214.5" y="115.6" width="0.45" height="0.45" fill="#999"/><rect x="190.8" y="116.3" width="0.45" height="0.45" fill="#999"/><rect x="194.1" y="95.3" width="0.45" height="0.45" fill="#999"/><rect x="218.0" y="99.3" width="0.45" height="0.45" fill="#999"/><rect x="204.2" y="107.3" width="0.45" height="0.45" fill="#999"/><rect x="199.0" y="115.1" width="0.45" height="0.45" fill="#999"/><rect x="198.6" y="116.7" width="0.45" height="0.45" fill="#999"/><rect x="226.2" y="106.2" width="0.45" height="0.45" fill="#999"/><rect x="190.4" y="114.6" width="0.45" height="0.45" fill="#999"/><rect x="190.3" y="105.1" width="0.45" height="0.45" fill="#999"/><rect x="208.5" y="89.7" width="0.45" height="0.45" fill="#999"/><rect x="218.0" y="112.7" width="0.45" height="0.45" fill="#999"/><rect x="215.9" y="101.4" width="0.45" height="0.45" fill="#999"/><rect x="212.6" y="108.0" width="0.45" height="0.45" fill="#999"/><rect x="199.4" y="117.7" width="0.45" height="0.45" fill="#999"/><rect x="234.8" y="115.5" width="0.45" height="0.45" fill="#999"/><rect x="233.2" y="99.0" width="0.45" height="0.45" fill="#999"/><rect x="234.4" y="90.0" width="0.45" height="0.45" fill="#999"/><rect x="211.0" y="92.2" width="0.45" height="0.45" fill="#999"/><rect x="209.9" y="111.3" width="0.45" height="0.45" fill="#999"/><rect x="221.6" y="103.3" width="0.45" height="0.45" fill="#999"/><rect x="204.7" y="94.1" width="0.45" height="0.45" fill="#999"/><rect x="207.5" y="97.3" width="0.45" height="0.45" fill="#999"/><rect x="197.9" y="113.1" width="0.45" height="0.45" fill="#999"/><rect x="212.7" y="102.8" width="0.45" height="0.45" fill="#999"/><rect x="198.1" y="112.0" width="0.45" height="0.45" fill="#999"/><rect x="198.0" y="96.7" width="0.45" height="0.45" fill="#999"/><rect x="214.8" y="111.9" width="0.45" height="0.45" fill="#999"/><rect x="233.8" y="113.5" width="0.45" height="0.45" fill="#999"/><rect x="232.6" y="119.5" width="0.45" height="0.45" fill="#999"/><rect x="222.2" y="112.5" width="0.45" height="0.45" fill="#999"/><rect x="191.9" y="94.7" width="0.45" height="0.45" fill="#999"/><rect x="189.6" y="117.6" width="0.45" height="0.45" fill="#999"/><rect x="222.2" y="109.4" width="0.45" height="0.45" fill="#999"/><rect x="201.1" y="99.9" width="0.45" height="0.45" fill="#999"/><rect x="196.5" y="109.5" width="0.45" height="0.45" fill="#999"/><rect x="234.6" y="98.1" width="0.45" height="0.45" fill="#999"/><rect x="191.0" y="93.6" width="0.45" height="0.45" fill="#999"/><rect x="205.3" y="118.8" width="0.45" height="0.45" fill="#999"/><rect x="226.0" y="103.3" width="0.45" height="0.45" fill="#999"/><rect x="193.7" y="91.2" width="0.45" height="0.45" fill="#999"/><rect x="196.1" y="114.6" width="0.45" height="0.45" fill="#999"/><rect x="210.7" y="122.0" width="0.45" height="0.45" fill="#999"/><rect x="230.9" y="115.2" width="0.45" height="0.45" fill="#999"/><rect x="210.9" y="116.1" width="0.45" height="0.45" fill="#999"/><rect x="194.9" y="91.3" width="0.45" height="0.45" fill="#999"/><rect x="214.9" y="105.2" width="0.45" height="0.45" fill="#999"/><rect x="198.6" y="96.3" width="0.45" height="0.45" fill="#999"/><rect x="190.0" y="119.1" width="0.45" height="0.45" fill="#999"/><rect x="221.7" y="120.4" width="0.45" height="0.45" fill="#999"/><rect x="234.1" y="102.7" width="0.45" height="0.45" fill="#999"/><rect x="222.7" y="100.9" width="0.45" height="0.45" fill="#999"/><rect x="226.3" y="116.8" width="0.45" height="0.45" fill="#999"/><rect x="195.2" y="87.9" width="0.45" height="0.45" fill="#999"/><rect x="198.8" y="107.9" width="0.45" height="0.45" fill="#999"/><rect x="206.4" y="87.8" width="0.45" height="0.45" fill="#999"/><rect x="227.2" y="114.9" width="0.45" height="0.45" fill="#999"/><rect x="210.3" y="89.0" width="0.45" height="0.45" fill="#999"/><rect x="229.9" y="106.1" width="0.45" height="0.45" fill="#999"/><rect x="192.3" y="98.8" width="0.45" height="0.45" fill="#999"/><rect x="217.7" y="118.3" width="0.45" height="0.45" fill="#999"/><rect x="211.3" y="109.8" width="0.45" height="0.45" fill="#999"/><rect x="198.5" y="96.0" width="0.45" height="0.45" fill="#999"/><rect x="230.7" y="100.8" width="0.45" height="0.45" fill="#999"/><rect x="193.8" y="108.1" width="0.45" height="0.45" fill="#999"/><rect x="194.8" y="94.5" width="0.45" height="0.45" fill="#999"/><rect x="210.0" y="107.9" width="0.45" height="0.45" fill="#999"/></g>
<line x1="187" y1="77.5" x2="187" y2="124.89999999999999" stroke="#111" stroke-width="1.4" stroke-linecap="butt"/>
<line x1="186.3" y1="124.3" x2="237" y2="124.3" stroke="#111" stroke-width="1.4" stroke-linecap="butt"/>
<ellipse cx="200.5" cy="93.7" rx="10.9" ry="7.8" fill="none" stroke="#111" stroke-width="0.9"/>
<ellipse cx="226.2" cy="107.4" rx="8.5" ry="17.2" fill="none" stroke="#111" stroke-width="0.9" transform="rotate(-4 226.2 107.4)"/>
<text x="190" y="83.2" font-size="5.5" text-anchor="start" fill="#2a2a2a">Basophils</text>
<text x="191.3" y="121.2" font-size="5.5" text-anchor="start" fill="#2a2a2a">Mast cells</text>
<text x="182.6" y="80.5" font-size="3.1" text-anchor="middle" fill="#666" font-style="italic" style="stroke:none">10</text>
<text x="182.6" y="92.0" font-size="3.1" text-anchor="middle" fill="#666" font-style="italic" style="stroke:none">10</text>
<text x="182.6" y="112.0" font-size="3.1" text-anchor="middle" fill="#666" font-style="italic" style="stroke:none">10</text>
<text x="182.6" y="118.0" font-size="3.1" text-anchor="middle" fill="#666" font-style="italic" style="stroke:none">10</text>
<text x="182.6" y="123.0" font-size="3.1" text-anchor="middle" fill="#666" font-style="italic" style="stroke:none">10</text>
<text x="189.5" y="129.3" font-size="3.1" text-anchor="middle" fill="#666" font-style="italic" style="stroke:none">10</text>
<text x="192.5" y="129.3" font-size="3.1" text-anchor="middle" fill="#666" font-style="italic" style="stroke:none">10</text>
<text x="195.5" y="129.3" font-size="3.1" text-anchor="middle" fill="#666" font-style="italic" style="stroke:none">10</text>
<text x="211.5" y="129.3" font-size="3.1" text-anchor="middle" fill="#666" font-style="italic" style="stroke:none">10</text>
<text x="220" y="129.3" font-size="3.1" text-anchor="middle" fill="#666" font-style="italic" style="stroke:none">10</text>
<text x="227.5" y="129.3" font-size="3.1" text-anchor="middle" fill="#666" font-style="italic" style="stroke:none">10</text>
<text x="234.2" y="129.3" font-size="3.1" text-anchor="middle" fill="#666" font-style="italic" style="stroke:none">10</text>
<line x1="265.5" y1="21.5" x2="265.5" y2="122.4" stroke="#000" stroke-width="1" stroke-linecap="butt"/>
<line x1="265.0" y1="121.9" x2="332.5" y2="121.9" stroke="#000" stroke-width="1.1" stroke-linecap="butt"/>
<line x1="281.25" y1="121.9" x2="281.25" y2="125.2" stroke="#000" stroke-width="1" stroke-linecap="butt"/>
<line x1="315" y1="121.9" x2="315" y2="125.2" stroke="#000" stroke-width="1" stroke-linecap="butt"/>
<line x1="262.1" y1="22.30000000000001" x2="265.5" y2="22.30000000000001" stroke="#000" stroke-width="1" stroke-linecap="butt"/>
<text x="260.2" y="24.600000000000012" font-size="6.4" text-anchor="end" fill="#2a2a2a">2.0</text>
<line x1="262.1" y1="47.20000000000002" x2="265.5" y2="47.20000000000002" stroke="#000" stroke-width="1" stroke-linecap="butt"/>
<text x="260.2" y="49.500000000000014" font-size="6.4" text-anchor="end" fill="#2a2a2a">1.5</text>
<line x1="262.1" y1="72.10000000000001" x2="265.5" y2="72.10000000000001" stroke="#000" stroke-width="1" stroke-linecap="butt"/>
<text x="260.2" y="74.4" font-size="6.4" text-anchor="end" fill="#2a2a2a">1.0</text>
<line x1="262.1" y1="97.0" x2="265.5" y2="97.0" stroke="#000" stroke-width="1" stroke-linecap="butt"/>
<text x="260.2" y="99.3" font-size="6.4" text-anchor="end" fill="#2a2a2a">0.5</text>
<line x1="262.1" y1="121.9" x2="265.5" y2="121.9" stroke="#000" stroke-width="1" stroke-linecap="butt"/>
<text x="260.2" y="121.2" font-size="6.4" text-anchor="end" fill="#2a2a2a">0.0</text>
<line x1="281.25" y1="77.08000000000001" x2="315" y2="29.272000000000006" stroke="#000" stroke-width="1.15" stroke-linecap="butt"/>
<path d="M281.25 74.58L283.75 77.08L281.25 79.58L278.75 77.08Z" fill="#000"/>
<path d="M315 26.77L317.5 29.27L315 31.77L312.5 29.27Z" fill="#000"/>
<line x1="281.25" y1="104.968" x2="315" y2="38.23600000000002" stroke="#000" stroke-width="1.15" stroke-linecap="butt"/>
<path d="M281.25 102.47L283.75 104.97L281.25 107.47L278.75 104.97Z" fill="#000"/>
<path d="M315 35.74L317.5 38.24L315 40.74L312.5 38.24Z" fill="#000"/>
<line x1="281.25" y1="107.956" x2="315" y2="106.462" stroke="#000" stroke-width="1.15" stroke-linecap="butt"/>
<path d="M281.25 105.46L283.75 107.96L281.25 110.46L278.75 107.96Z" fill="#000"/>
<path d="M315 103.96L317.5 106.46L315 108.96L312.5 106.46Z" fill="#000"/>
<line x1="281.25" y1="113.43400000000001" x2="315" y2="77.08000000000001" stroke="#000" stroke-width="1.15" stroke-linecap="butt"/>
<path d="M281.25 110.93L283.75 113.43L281.25 115.93L278.75 113.43Z" fill="#000"/>
<path d="M315 74.58L317.5 77.08L315 79.58L312.5 77.08Z" fill="#000"/>
<line x1="281.25" y1="115.426" x2="315" y2="87.04000000000002" stroke="#000" stroke-width="1.15" stroke-linecap="butt"/>
<path d="M281.25 112.93L283.75 115.43L281.25 117.93L278.75 115.43Z" fill="#000"/>
<path d="M315 84.54L317.5 87.04L315 89.54L312.5 87.04Z" fill="#000"/>
<line x1="281.25" y1="117.418" x2="315" y2="99.988" stroke="#000" stroke-width="1.15" stroke-linecap="butt"/>
<path d="M281.25 114.92L283.75 117.42L281.25 119.92L278.75 117.42Z" fill="#000"/>
<path d="M315 97.49L317.5 99.99L315 102.49L312.5 99.99Z" fill="#000"/>
<line x1="281.25" y1="118.912" x2="315" y2="101.482" stroke="#000" stroke-width="1.15" stroke-linecap="butt"/>
<path d="M281.25 116.41L283.75 118.91L281.25 121.41L278.75 118.91Z" fill="#000"/>
<path d="M315 98.98L317.5 101.48L315 103.98L312.5 101.48Z" fill="#000"/>
<line x1="281.25" y1="119.908" x2="315" y2="109.45" stroke="#000" stroke-width="1.15" stroke-linecap="butt"/>
<path d="M281.25 117.41L283.75 119.91L281.25 122.41L278.75 119.91Z" fill="#000"/>
<path d="M315 106.95L317.5 109.45L315 111.95L312.5 109.45Z" fill="#000"/>
<line x1="281.25" y1="120.406" x2="315" y2="112.936" stroke="#000" stroke-width="1.15" stroke-linecap="butt"/>
<path d="M281.25 117.91L283.75 120.41L281.25 122.91L278.75 120.41Z" fill="#000"/>
<path d="M315 110.44L317.5 112.94L315 115.44L312.5 112.94Z" fill="#000"/>
<line x1="281.25" y1="120.90400000000001" x2="315" y2="115.924" stroke="#000" stroke-width="1.15" stroke-linecap="butt"/>
<path d="M281.25 118.40L283.75 120.90L281.25 123.40L278.75 120.90Z" fill="#000"/>
<path d="M315 113.42L317.5 115.92L315 118.42L312.5 115.92Z" fill="#000"/>
<line x1="281.25" y1="121.402" x2="315" y2="118.912" stroke="#000" stroke-width="1.15" stroke-linecap="butt"/>
<path d="M281.25 118.90L283.75 121.40L281.25 123.90L278.75 121.40Z" fill="#000"/>
<path d="M315 116.41L317.5 118.91L315 121.41L312.5 118.91Z" fill="#000"/>
<line x1="281.25" y1="121.9" x2="315" y2="120.406" stroke="#000" stroke-width="1.15" stroke-linecap="butt"/>
<path d="M281.25 119.40L283.75 121.90L281.25 124.40L278.75 121.90Z" fill="#000"/>
<path d="M315 117.91L317.5 120.41L315 122.91L312.5 120.41Z" fill="#000"/>
<line x1="281.25" y1="119.41000000000001" x2="315" y2="121.402" stroke="#000" stroke-width="1.15" stroke-linecap="butt"/>
<path d="M281.25 116.91L283.75 119.41L281.25 121.91L278.75 119.41Z" fill="#000"/>
<path d="M315 118.90L317.5 121.40L315 123.90L312.5 121.40Z" fill="#000"/>
<text x="248.4" y="71" font-size="6.45" text-anchor="middle" fill="#2a2a2a" transform="rotate(-90 248.4 71)">% of basophils in LP</text>
<text x="281.25" y="134.8" font-size="6.4" text-anchor="middle" fill="#2a2a2a">Non-</text>
<text x="281.25" y="141.8" font-size="6.4" text-anchor="middle" fill="#2a2a2a">inflamed</text>
<text x="315.3" y="138.5" font-size="6.4" text-anchor="middle" fill="#2a2a2a">Inflamed</text>
<path d="M281.25 17.15V13.75H314.6V17.15" fill="none" stroke="#444" stroke-width="0.8"/>
<text x="297.925" y="12.55" font-size="8.8" text-anchor="middle" fill="#000" font-weight="bold">*</text>
<line x1="349.5" y1="21.5" x2="349.5" y2="122.4" stroke="#000" stroke-width="1" stroke-linecap="butt"/>
<line x1="349.0" y1="121.9" x2="415.5" y2="121.9" stroke="#000" stroke-width="1.1" stroke-linecap="butt"/>
<line x1="365.75" y1="121.9" x2="365.75" y2="125.2" stroke="#000" stroke-width="1" stroke-linecap="butt"/>
<line x1="398.75" y1="121.9" x2="398.75" y2="125.2" stroke="#000" stroke-width="1" stroke-linecap="butt"/>
<line x1="346.1" y1="22.14" x2="349.5" y2="22.14" stroke="#000" stroke-width="1" stroke-linecap="butt"/>
<text x="344.2" y="24.44" font-size="6.4" text-anchor="end" fill="#2a2a2a">8</text>
<line x1="346.1" y1="47.08" x2="349.5" y2="47.08" stroke="#000" stroke-width="1" stroke-linecap="butt"/>
<text x="344.2" y="49.379999999999995" font-size="6.4" text-anchor="end" fill="#2a2a2a">6</text>
<line x1="346.1" y1="72.02000000000001" x2="349.5" y2="72.02000000000001" stroke="#000" stroke-width="1" stroke-linecap="butt"/>
<text x="344.2" y="74.32000000000001" font-size="6.4" text-anchor="end" fill="#2a2a2a">4</text>
<line x1="346.1" y1="96.96000000000001" x2="349.5" y2="96.96000000000001" stroke="#000" stroke-width="1" stroke-linecap="butt"/>
<text x="344.2" y="99.26" font-size="6.4" text-anchor="end" fill="#2a2a2a">2</text>
<line x1="346.1" y1="121.9" x2="349.5" y2="121.9" stroke="#000" stroke-width="1" stroke-linecap="butt"/>
<text x="344.2" y="124.2" font-size="6.4" text-anchor="end" fill="#2a2a2a">0</text>
<line x1="365.75" y1="39.598" x2="398.75" y2="111.3005" stroke="#000" stroke-width="1.15" stroke-linecap="butt"/>
<path d="M365.75 37.10L368.25 39.60L365.75 42.10L363.25 39.60Z" fill="#000"/>
<path d="M398.75 108.80L401.25 111.30L398.75 113.80L396.25 111.30Z" fill="#000"/>
<line x1="365.75" y1="62.667500000000004" x2="398.75" y2="62.667500000000004" stroke="#000" stroke-width="1.15" stroke-linecap="butt"/>
<path d="M365.75 60.17L368.25 62.67L365.75 65.17L363.25 62.67Z" fill="#000"/>
<path d="M398.75 60.17L401.25 62.67L398.75 65.17L396.25 62.67Z" fill="#000"/>
<line x1="365.75" y1="74.2646" x2="398.75" y2="115.665" stroke="#000" stroke-width="1.15" stroke-linecap="butt"/>
<path d="M365.75 71.76L368.25 74.26L365.75 76.76L363.25 74.26Z" fill="#000"/>
<path d="M398.75 113.17L401.25 115.67L398.75 118.17L396.25 115.67Z" fill="#000"/>
<line x1="365.75" y1="85.1135" x2="398.75" y2="113.171" stroke="#000" stroke-width="1.15" stroke-linecap="butt"/>
<path d="M365.75 82.61L368.25 85.11L365.75 87.61L363.25 85.11Z" fill="#000"/>
<path d="M398.75 110.67L401.25 113.17L398.75 115.67L396.25 113.17Z" fill="#000"/>
<line x1="365.75" y1="89.2286" x2="398.75" y2="57.056" stroke="#000" stroke-width="1.15" stroke-linecap="butt"/>
<path d="M365.75 86.73L368.25 89.23L365.75 91.73L363.25 89.23Z" fill="#000"/>
<path d="M398.75 54.56L401.25 57.06L398.75 59.56L396.25 57.06Z" fill="#000"/>
<line x1="365.75" y1="91.7226" x2="398.75" y2="93.21900000000001" stroke="#000" stroke-width="1.15" stroke-linecap="butt"/>
<path d="M365.75 89.22L368.25 91.72L365.75 94.22L363.25 91.72Z" fill="#000"/>
<path d="M398.75 90.72L401.25 93.22L398.75 95.72L396.25 93.22Z" fill="#000"/>
<line x1="365.75" y1="100.9504" x2="398.75" y2="108.4324" stroke="#000" stroke-width="1.15" stroke-linecap="butt"/>
<path d="M365.75 98.45L368.25 100.95L365.75 103.45L363.25 100.95Z" fill="#000"/>
<path d="M398.75 105.93L401.25 108.43L398.75 110.93L396.25 108.43Z" fill="#000"/>
<line x1="365.75" y1="102.5715" x2="398.75" y2="110.0535" stroke="#000" stroke-width="1.15" stroke-linecap="butt"/>
<path d="M365.75 100.07L368.25 102.57L365.75 105.07L363.25 102.57Z" fill="#000"/>
<path d="M398.75 107.55L401.25 110.05L398.75 112.55L396.25 110.05Z" fill="#000"/>
<line x1="365.75" y1="111.924" x2="398.75" y2="119.406" stroke="#000" stroke-width="1.15" stroke-linecap="butt"/>
<path d="M365.75 109.42L368.25 111.92L365.75 114.42L363.25 111.92Z" fill="#000"/>
<path d="M398.75 116.91L401.25 119.41L398.75 121.91L396.25 119.41Z" fill="#000"/>
<line x1="365.75" y1="115.0415" x2="398.75" y2="120.653" stroke="#000" stroke-width="1.15" stroke-linecap="butt"/>
<path d="M365.75 112.54L368.25 115.04L365.75 117.54L363.25 115.04Z" fill="#000"/>
<path d="M398.75 118.15L401.25 120.65L398.75 123.15L396.25 120.65Z" fill="#000"/>
<text x="338.4" y="71" font-size="6.45" text-anchor="middle" fill="#2a2a2a" transform="rotate(-90 338.4 71)">% of Mast cells in LP</text>
<text x="365.75" y="134.8" font-size="6.4" text-anchor="middle" fill="#2a2a2a">Non-</text>
<text x="365.75" y="141.8" font-size="6.4" text-anchor="middle" fill="#2a2a2a">inflamed</text>
<text x="399.05" y="138.5" font-size="6.4" text-anchor="middle" fill="#2a2a2a">Inflamed</text>
<line x1="451.4" y1="22" x2="451.4" y2="123.1" stroke="#000" stroke-width="1" stroke-linecap="butt"/>
<line x1="450.9" y1="122.6" x2="519" y2="122.6" stroke="#000" stroke-width="1.2" stroke-linecap="butt"/>
<line x1="448.09999999999997" y1="22.5" x2="451.4" y2="22.5" stroke="#000" stroke-width="1" stroke-linecap="butt"/>
<text x="447.29999999999995" y="24.8" font-size="6.4" text-anchor="end" fill="#2a2a2a">1.0</text>
<line x1="448.09999999999997" y1="42.519999999999996" x2="451.4" y2="42.519999999999996" stroke="#000" stroke-width="1" stroke-linecap="butt"/>
<text x="447.29999999999995" y="44.81999999999999" font-size="6.4" text-anchor="end" fill="#2a2a2a">0.8</text>
<line x1="448.09999999999997" y1="62.54" x2="451.4" y2="62.54" stroke="#000" stroke-width="1" stroke-linecap="butt"/>
<text x="447.29999999999995" y="64.84" font-size="6.4" text-anchor="end" fill="#2a2a2a">0.6</text>
<line x1="448.09999999999997" y1="82.56" x2="451.4" y2="82.56" stroke="#000" stroke-width="1" stroke-linecap="butt"/>
<text x="447.29999999999995" y="84.86" font-size="6.4" text-anchor="end" fill="#2a2a2a">0.4</text>
<line x1="448.09999999999997" y1="102.58" x2="451.4" y2="102.58" stroke="#000" stroke-width="1" stroke-linecap="butt"/>
<text x="447.29999999999995" y="104.88" font-size="6.4" text-anchor="end" fill="#2a2a2a">0.2</text>
<line x1="448.09999999999997" y1="122.6" x2="451.4" y2="122.6" stroke="#000" stroke-width="1" stroke-linecap="butt"/>
<text x="447.29999999999995" y="124.89999999999999" font-size="6.4" text-anchor="end" fill="#2a2a2a">0.0</text>
<text x="433.6" y="75.3" font-size="6.4" text-anchor="middle" fill="#2a2a2a" transform="rotate(-90 433.6 75.3)">Ratio of basophils/Mast cells</text>
<path d="M468 19.55V16.25H500V19.55" fill="none" stroke="#444" stroke-width="0.8"/>
<text x="484.0" y="15.05" font-size="8.8" text-anchor="middle" fill="#000" font-weight="bold">*</text>
<circle cx="462.5" cy="105.88" r="2.3" fill="#000"/>
<circle cx="468.75" cy="108.09" r="2.3" fill="#000"/>
<circle cx="474.5" cy="107.58" r="2.3" fill="#000"/>
<circle cx="468.75" cy="113.59" r="2.3" fill="#000"/>
<circle cx="463" cy="118.60" r="2.3" fill="#000"/>
<circle cx="475.5" cy="118.10" r="2.3" fill="#000"/>
<circle cx="462.5" cy="121.40" r="2.3" fill="#000"/>
<circle cx="468.75" cy="122.10" r="2.3" fill="#000"/>
<circle cx="474.5" cy="121.40" r="2.3" fill="#000"/>
<circle cx="468.7" cy="119.60" r="2.3" fill="#000"/>
<line x1="457.5" y1="116.25" x2="479.5" y2="116.25" stroke="#000" stroke-width="1.2" stroke-linecap="butt"/>
<line x1="468.75" y1="113.25" x2="468.75" y2="119.25" stroke="#000" stroke-width="1" stroke-linecap="butt"/>
<line x1="462.5" y1="113.25" x2="475" y2="113.25" stroke="#000" stroke-width="1" stroke-linecap="butt"/>
<line x1="462.5" y1="119.25" x2="475" y2="119.25" stroke="#000" stroke-width="1" stroke-linecap="butt"/>
<rect x="499.65" y="36.42" width="4.2" height="4.2" fill="#000"/>
<rect x="499.65" y="49.93" width="4.2" height="4.2" fill="#000"/>
<rect x="493.65" y="73.25" width="4.2" height="4.2" fill="#000"/>
<rect x="505.4" y="73.25" width="4.2" height="4.2" fill="#000"/>
<rect x="499.65" y="78.46" width="4.2" height="4.2" fill="#000"/>
<rect x="499.65" y="92.97" width="4.2" height="4.2" fill="#000"/>
<rect x="499.65" y="101.48" width="4.2" height="4.2" fill="#000"/>
<rect x="499.65" y="112.49" width="4.2" height="4.2" fill="#000"/>
<rect x="499.65" y="120.00" width="4.2" height="4.2" fill="#000"/>
<rect x="505.4" y="119.30" width="4.2" height="4.2" fill="#000"/>
<line x1="490" y1="88" x2="512.5" y2="88" stroke="#000" stroke-width="1.2" stroke-linecap="butt"/>
<line x1="501.75" y1="78.75" x2="501.75" y2="97" stroke="#000" stroke-width="1" stroke-linecap="butt"/>
<line x1="495.75" y1="78.75" x2="507.5" y2="78.75" stroke="#000" stroke-width="1" stroke-linecap="butt"/>
<line x1="495.75" y1="97" x2="507.5" y2="97" stroke="#000" stroke-width="1" stroke-linecap="butt"/>
<line x1="468.75" y1="122.6" x2="468.75" y2="125.8" stroke="#000" stroke-width="1" stroke-linecap="butt"/>
<line x1="501.6" y1="122.6" x2="501.6" y2="125.8" stroke="#000" stroke-width="1" stroke-linecap="butt"/>
<text x="469" y="135.1" font-size="6.4" text-anchor="middle" fill="#2a2a2a">Non-</text>
<text x="469.5" y="142.0" font-size="6.4" text-anchor="middle" fill="#2a2a2a">inflamed</text>
<text x="501.7" y="139.0" font-size="6.4" text-anchor="middle" fill="#2a2a2a">Inflamed</text>
<line x1="40.5" y1="179.0" x2="40.5" y2="245.1" stroke="#000" stroke-width="1" stroke-linecap="butt"/>
<line x1="40.0" y1="244.6" x2="84" y2="244.6" stroke="#000" stroke-width="1.2" stroke-linecap="butt"/>
<line x1="38.2" y1="244.6" x2="40.5" y2="244.6" stroke="#000" stroke-width="1" stroke-linecap="butt"/>
<text x="37.7" y="246.75" font-size="6.7" text-anchor="end" fill="#2a2a2a">0.0</text>
<line x1="38.2" y1="231.57" x2="40.5" y2="231.57" stroke="#000" stroke-width="1" stroke-linecap="butt"/>
<text x="37.7" y="233.72" font-size="6.7" text-anchor="end" fill="#2a2a2a">0.5</text>
<line x1="38.2" y1="218.54" x2="40.5" y2="218.54" stroke="#000" stroke-width="1" stroke-linecap="butt"/>
<text x="37.7" y="220.69" font-size="6.7" text-anchor="end" fill="#2a2a2a">1.0</text>
<line x1="38.2" y1="205.51" x2="40.5" y2="205.51" stroke="#000" stroke-width="1" stroke-linecap="butt"/>
<text x="37.7" y="207.66" font-size="6.7" text-anchor="end" fill="#2a2a2a">1.5</text>
<line x1="38.2" y1="192.48" x2="40.5" y2="192.48" stroke="#000" stroke-width="1" stroke-linecap="butt"/>
<text x="37.7" y="194.63" font-size="6.7" text-anchor="end" fill="#2a2a2a">2.0</text>
<line x1="38.2" y1="179.45" x2="40.5" y2="179.45" stroke="#000" stroke-width="1" stroke-linecap="butt"/>
<text x="37.7" y="181.6" font-size="6.7" text-anchor="end" fill="#2a2a2a">2.5</text>
<line x1="52.0" y1="183" x2="52.0" y2="190" stroke="#000" stroke-width="1.1" stroke-linecap="butt"/>
<line x1="48.2" y1="183" x2="55.8" y2="183" stroke="#000" stroke-width="1.1" stroke-linecap="butt"/>
<rect x="45.0" y="190" width="14.0" height="54.599999999999994" fill="#fff" stroke="#000" stroke-width="1"/>
<line x1="52.0" y1="244.6" x2="52.0" y2="247.1" stroke="#000" stroke-width="1" stroke-linecap="butt"/>
<line x1="74.0" y1="200" x2="74.0" y2="206.2" stroke="#000" stroke-width="1.1" stroke-linecap="butt"/>
<line x1="70.2" y1="200" x2="77.8" y2="200" stroke="#000" stroke-width="1.1" stroke-linecap="butt"/>
<rect x="67.0" y="206.2" width="14.0" height="38.400000000000006" fill="#000" stroke="#000" stroke-width="1"/>
<line x1="74.0" y1="244.6" x2="74.0" y2="247.1" stroke="#000" stroke-width="1" stroke-linecap="butt"/>
<text x="24.0" y="211.5" font-size="5.9" text-anchor="middle" fill="#2a2a2a" transform="rotate(-90 24.0 211.5)" word-spacing="0.9" letter-spacing="0.12">% of IL-17<tspan dy="-2.4" font-size="4.4">+</tspan><tspan dy="2.4">​</tspan> IFN-γ<tspan dy="-2.4" font-size="4.4">+</tspan><tspan dy="2.4">​</tspan> cells</text>
<text x="53" y="258" font-size="8" text-anchor="middle" fill="#2a2a2a" font-weight="bold">-</text>
<text x="74.2" y="258" font-size="8" text-anchor="middle" fill="#2a2a2a">H<tspan dy="2.3" font-size="6.8">4</tspan><tspan dy="-2.3">R</tspan></text>
<path d="M51.9 177.05V173.75H74.2V177.05" fill="none" stroke="#444" stroke-width="0.8"/>
<text x="63.05" y="172.55" font-size="8.8" text-anchor="middle" fill="#000" font-weight="bold">*</text>
<line x1="109.2" y1="179.0" x2="109.2" y2="245.1" stroke="#000" stroke-width="1" stroke-linecap="butt"/>
<line x1="108.7" y1="244.6" x2="152" y2="244.6" stroke="#000" stroke-width="1.2" stroke-linecap="butt"/>
<line x1="106.9" y1="244.6" x2="109.2" y2="244.6" stroke="#000" stroke-width="1" stroke-linecap="butt"/>
<text x="106.3" y="246.75" font-size="6.3" text-anchor="end" fill="#2a2a2a">0</text>
<line x1="106.9" y1="231.57" x2="109.2" y2="231.57" stroke="#000" stroke-width="1" stroke-linecap="butt"/>
<text x="106.3" y="233.72" font-size="6.3" text-anchor="end" fill="#2a2a2a">1</text>
<line x1="106.9" y1="218.54" x2="109.2" y2="218.54" stroke="#000" stroke-width="1" stroke-linecap="butt"/>
<text x="106.3" y="220.69" font-size="6.3" text-anchor="end" fill="#2a2a2a">2</text>
<line x1="106.9" y1="205.51" x2="109.2" y2="205.51" stroke="#000" stroke-width="1" stroke-linecap="butt"/>
<text x="106.3" y="207.66" font-size="6.3" text-anchor="end" fill="#2a2a2a">3</text>
<line x1="106.9" y1="192.48" x2="109.2" y2="192.48" stroke="#000" stroke-width="1" stroke-linecap="butt"/>
<text x="106.3" y="194.63" font-size="6.3" text-anchor="end" fill="#2a2a2a">4</text>
<line x1="106.9" y1="179.45" x2="109.2" y2="179.45" stroke="#000" stroke-width="1" stroke-linecap="butt"/>
<text x="106.3" y="181.6" font-size="6.3" text-anchor="end" fill="#2a2a2a">5</text>
<line x1="120.5" y1="192" x2="120.5" y2="197.7" stroke="#000" stroke-width="1.1" stroke-linecap="butt"/>
<line x1="116.7" y1="192" x2="124.3" y2="192" stroke="#000" stroke-width="1.1" stroke-linecap="butt"/>
<rect x="113.5" y="197.7" width="14" height="46.900000000000006" fill="#fff" stroke="#000" stroke-width="1"/>
<line x1="120.5" y1="244.6" x2="120.5" y2="247.1" stroke="#000" stroke-width="1" stroke-linecap="butt"/>
<line x1="142.7" y1="206.9" x2="142.7" y2="210" stroke="#000" stroke-width="1.1" stroke-linecap="butt"/>
<line x1="138.89999999999998" y1="206.9" x2="146.5" y2="206.9" stroke="#000" stroke-width="1.1" stroke-linecap="butt"/>
<rect x="135.7" y="210" width="14.0" height="34.599999999999994" fill="#000" stroke="#000" stroke-width="1"/>
<line x1="142.7" y1="244.6" x2="142.7" y2="247.1" stroke="#000" stroke-width="1" stroke-linecap="butt"/>
<text x="98.6" y="211.5" font-size="5.9" text-anchor="middle" fill="#2a2a2a" transform="rotate(-90 98.6 211.5)" word-spacing="0.9" letter-spacing="0.12">% of IL-17<tspan dy="-2.4" font-size="4.4">+</tspan><tspan dy="2.4">​</tspan> IFN-γ<tspan dy="-2.4" font-size="4.8">-</tspan><tspan dy="2.4">​</tspan> cells</text>
<text x="121.7" y="258" font-size="8" text-anchor="middle" fill="#2a2a2a" font-weight="bold">-</text>
<text x="141.3" y="258" font-size="8" text-anchor="middle" fill="#2a2a2a">H<tspan dy="2.3" font-size="6.8">4</tspan><tspan dy="-2.3">R</tspan></text>
<path d="M119.4 177.5V174.2H142.4V177.5" fill="none" stroke="#444" stroke-width="0.8"/>
<text x="130.9" y="173.0" font-size="8.8" text-anchor="middle" fill="#000" font-weight="bold">*</text>
<line x1="178.25" y1="179.0" x2="178.25" y2="245.1" stroke="#000" stroke-width="1" stroke-linecap="butt"/>
<line x1="177.75" y1="244.6" x2="220.5" y2="244.6" stroke="#000" stroke-width="1.2" stroke-linecap="butt"/>
<line x1="175.95" y1="244.6" x2="178.25" y2="244.6" stroke="#000" stroke-width="1" stroke-linecap="butt"/>
<text x="175.65" y="246.75" font-size="5.8" text-anchor="end" fill="#2a2a2a">0</text>
<line x1="175.95" y1="222.79999999999998" x2="178.25" y2="222.79999999999998" stroke="#000" stroke-width="1" stroke-linecap="butt"/>
<text x="175.65" y="224.95" font-size="5.8" text-anchor="end" fill="#2a2a2a">20</text>
<line x1="175.95" y1="201.0" x2="178.25" y2="201.0" stroke="#000" stroke-width="1" stroke-linecap="butt"/>
<text x="175.65" y="203.15" font-size="5.8" text-anchor="end" fill="#2a2a2a">40</text>
<line x1="175.95" y1="179.2" x2="178.25" y2="179.2" stroke="#000" stroke-width="1" stroke-linecap="butt"/>
<text x="175.65" y="181.35" font-size="5.8" text-anchor="end" fill="#2a2a2a">60</text>
<line x1="188.75" y1="184.5" x2="188.75" y2="190.5" stroke="#000" stroke-width="1.1" stroke-linecap="butt"/>
<line x1="184.95" y1="184.5" x2="192.55" y2="184.5" stroke="#000" stroke-width="1.1" stroke-linecap="butt"/>
<rect x="181.75" y="190.5" width="14.0" height="54.099999999999994" fill="#fff" stroke="#000" stroke-width="1"/>
<line x1="188.75" y1="244.6" x2="188.75" y2="247.1" stroke="#000" stroke-width="1" stroke-linecap="butt"/>
<line x1="210.5" y1="187.5" x2="210.5" y2="191.75" stroke="#000" stroke-width="1.1" stroke-linecap="butt"/>
<line x1="206.7" y1="187.5" x2="214.3" y2="187.5" stroke="#000" stroke-width="1.1" stroke-linecap="butt"/>
<rect x="203.5" y="191.75" width="14" height="52.849999999999994" fill="#000" stroke="#000" stroke-width="1"/>
<line x1="210.5" y1="244.6" x2="210.5" y2="247.1" stroke="#000" stroke-width="1" stroke-linecap="butt"/>
<text x="166.6" y="211.5" font-size="5.9" text-anchor="middle" fill="#2a2a2a" transform="rotate(-90 166.6 211.5)" word-spacing="0.9" letter-spacing="0.12">% of IL-17<tspan dy="-2.4" font-size="4.8">-</tspan><tspan dy="2.4">​</tspan> IFN-γ<tspan dy="-2.4" font-size="4.4">+</tspan><tspan dy="2.4">​</tspan> cells</text>
<text x="189.5" y="258" font-size="8" text-anchor="middle" fill="#2a2a2a" font-weight="bold">-</text>
<text x="210.3" y="258" font-size="8" text-anchor="middle" fill="#2a2a2a">H<tspan dy="2.3" font-size="6.8">4</tspan><tspan dy="-2.3">R</tspan></text>
<line x1="41.6" y1="283.0" x2="41.6" y2="349.0" stroke="#000" stroke-width="1" stroke-linecap="butt"/>
<line x1="41.1" y1="348.5" x2="84" y2="348.5" stroke="#000" stroke-width="1.2" stroke-linecap="butt"/>
<line x1="39.300000000000004" y1="348.5" x2="41.6" y2="348.5" stroke="#000" stroke-width="1" stroke-linecap="butt"/>
<text x="38.800000000000004" y="350.65" font-size="6.7" text-anchor="end" fill="#2a2a2a">0.0</text>
<line x1="39.300000000000004" y1="335.4" x2="41.6" y2="335.4" stroke="#000" stroke-width="1" stroke-linecap="butt"/>
<text x="38.800000000000004" y="337.54999999999995" font-size="6.7" text-anchor="end" fill="#2a2a2a">0.5</text>
<line x1="39.300000000000004" y1="322.3" x2="41.6" y2="322.3" stroke="#000" stroke-width="1" stroke-linecap="butt"/>
<text x="38.800000000000004" y="324.45" font-size="6.7" text-anchor="end" fill="#2a2a2a">1.0</text>
<line x1="39.300000000000004" y1="309.2" x2="41.6" y2="309.2" stroke="#000" stroke-width="1" stroke-linecap="butt"/>
<text x="38.800000000000004" y="311.34999999999997" font-size="6.7" text-anchor="end" fill="#2a2a2a">1.5</text>
<line x1="39.300000000000004" y1="296.1" x2="41.6" y2="296.1" stroke="#000" stroke-width="1" stroke-linecap="butt"/>
<text x="38.800000000000004" y="298.25" font-size="6.7" text-anchor="end" fill="#2a2a2a">2.0</text>
<line x1="39.300000000000004" y1="283.0" x2="41.6" y2="283.0" stroke="#000" stroke-width="1" stroke-linecap="butt"/>
<text x="38.800000000000004" y="285.15" font-size="6.7" text-anchor="end" fill="#2a2a2a">2.5</text>
<line x1="52.5" y1="290.25" x2="52.5" y2="296" stroke="#000" stroke-width="1.1" stroke-linecap="butt"/>
<line x1="48.7" y1="290.25" x2="56.3" y2="290.25" stroke="#000" stroke-width="1.1" stroke-linecap="butt"/>
<rect x="45.5" y="296" width="14" height="52.5" fill="#fff" stroke="#000" stroke-width="1"/>
<line x1="52.5" y1="348.5" x2="52.5" y2="351.0" stroke="#000" stroke-width="1" stroke-linecap="butt"/>
<line x1="74.5" y1="299.25" x2="74.5" y2="306.5" stroke="#000" stroke-width="1.1" stroke-linecap="butt"/>
<line x1="70.7" y1="299.25" x2="78.3" y2="299.25" stroke="#000" stroke-width="1.1" stroke-linecap="butt"/>
<rect x="67.5" y="306.5" width="14" height="42.0" fill="#000" stroke="#000" stroke-width="1"/>
<line x1="74.5" y1="348.5" x2="74.5" y2="351.0" stroke="#000" stroke-width="1" stroke-linecap="butt"/>
<text x="24.0" y="314.5" font-size="5.9" text-anchor="middle" fill="#2a2a2a" transform="rotate(-90 24.0 314.5)" word-spacing="0.9" letter-spacing="0.12">% of IL-17<tspan dy="-2.4" font-size="4.4">+</tspan><tspan dy="2.4">​</tspan> IFN-γ<tspan dy="-2.4" font-size="4.4">+</tspan><tspan dy="2.4">​</tspan> cells</text>
<text x="53" y="360.3" font-size="8" text-anchor="middle" fill="#2a2a2a" font-weight="bold">-</text>
<text x="62" y="360.3" font-size="6.5" text-anchor="start" fill="#2a2a2a">Infliximab</text>
<line x1="109.3" y1="283.0" x2="109.3" y2="349.0" stroke="#000" stroke-width="1" stroke-linecap="butt"/>
<line x1="108.8" y1="348.5" x2="152.5" y2="348.5" stroke="#000" stroke-width="1.2" stroke-linecap="butt"/>
<line x1="107.0" y1="348.5" x2="109.3" y2="348.5" stroke="#000" stroke-width="1" stroke-linecap="butt"/>
<text x="106.39999999999999" y="350.65" font-size="6.3" text-anchor="end" fill="#2a2a2a">0</text>
<line x1="107.0" y1="335.4" x2="109.3" y2="335.4" stroke="#000" stroke-width="1" stroke-linecap="butt"/>
<text x="106.39999999999999" y="337.54999999999995" font-size="6.3" text-anchor="end" fill="#2a2a2a">1</text>
<line x1="107.0" y1="322.3" x2="109.3" y2="322.3" stroke="#000" stroke-width="1" stroke-linecap="butt"/>
<text x="106.39999999999999" y="324.45" font-size="6.3" text-anchor="end" fill="#2a2a2a">2</text>
<line x1="107.0" y1="309.2" x2="109.3" y2="309.2" stroke="#000" stroke-width="1" stroke-linecap="butt"/>
<text x="106.39999999999999" y="311.34999999999997" font-size="6.3" text-anchor="end" fill="#2a2a2a">3</text>
<line x1="107.0" y1="296.1" x2="109.3" y2="296.1" stroke="#000" stroke-width="1" stroke-linecap="butt"/>
<text x="106.39999999999999" y="298.25" font-size="6.3" text-anchor="end" fill="#2a2a2a">4</text>
<line x1="107.0" y1="283.0" x2="109.3" y2="283.0" stroke="#000" stroke-width="1" stroke-linecap="butt"/>
<text x="106.39999999999999" y="285.15" font-size="6.3" text-anchor="end" fill="#2a2a2a">5</text>
<line x1="120.5" y1="296.9" x2="120.5" y2="301.9" stroke="#000" stroke-width="1.1" stroke-linecap="butt"/>
<line x1="116.7" y1="296.9" x2="124.3" y2="296.9" stroke="#000" stroke-width="1.1" stroke-linecap="butt"/>
<rect x="113.5" y="301.9" width="14" height="46.60000000000002" fill="#fff" stroke="#000" stroke-width="1"/>
<line x1="120.5" y1="348.5" x2="120.5" y2="351.0" stroke="#000" stroke-width="1" stroke-linecap="butt"/>
<line x1="142.7" y1="300.25" x2="142.7" y2="306.4" stroke="#000" stroke-width="1.1" stroke-linecap="butt"/>
<line x1="138.89999999999998" y1="300.25" x2="146.5" y2="300.25" stroke="#000" stroke-width="1.1" stroke-linecap="butt"/>
<rect x="135.7" y="306.4" width="14.0" height="42.10000000000002" fill="#000" stroke="#000" stroke-width="1"/>
<line x1="142.7" y1="348.5" x2="142.7" y2="351.0" stroke="#000" stroke-width="1" stroke-linecap="butt"/>
<text x="98.6" y="314.5" font-size="5.9" text-anchor="middle" fill="#2a2a2a" transform="rotate(-90 98.6 314.5)" word-spacing="0.9" letter-spacing="0.12">% of IL-17<tspan dy="-2.4" font-size="4.4">+</tspan><tspan dy="2.4">​</tspan> IFN-γ<tspan dy="-2.4" font-size="4.8">-</tspan><tspan dy="2.4">​</tspan> cells</text>
<text x="122" y="360.3" font-size="8" text-anchor="middle" fill="#2a2a2a" font-weight="bold">-</text>
<text x="130" y="360.3" font-size="6.5" text-anchor="start" fill="#2a2a2a">Infliximab</text>
<line x1="178.8" y1="283.0" x2="178.8" y2="349.0" stroke="#000" stroke-width="1" stroke-linecap="butt"/>
<line x1="178.3" y1="348.5" x2="221" y2="348.5" stroke="#000" stroke-width="1.2" stroke-linecap="butt"/>
<line x1="176.5" y1="348.5" x2="178.8" y2="348.5" stroke="#000" stroke-width="1" stroke-linecap="butt"/>
<text x="176.20000000000002" y="350.65" font-size="5.8" text-anchor="end" fill="#2a2a2a">0</text>
<line x1="176.5" y1="326.8" x2="178.8" y2="326.8" stroke="#000" stroke-width="1" stroke-linecap="butt"/>
<text x="176.20000000000002" y="328.95" font-size="5.8" text-anchor="end" fill="#2a2a2a">20</text>
<line x1="176.5" y1="305.1" x2="178.8" y2="305.1" stroke="#000" stroke-width="1" stroke-linecap="butt"/>
<text x="176.20000000000002" y="307.25" font-size="5.8" text-anchor="end" fill="#2a2a2a">40</text>
<line x1="176.5" y1="283.4" x2="178.8" y2="283.4" stroke="#000" stroke-width="1" stroke-linecap="butt"/>
<text x="176.20000000000002" y="285.54999999999995" font-size="5.8" text-anchor="end" fill="#2a2a2a">60</text>
<line x1="188.95" y1="289.8" x2="188.95" y2="294" stroke="#000" stroke-width="1.1" stroke-linecap="butt"/>
<line x1="185.14999999999998" y1="289.8" x2="192.75" y2="289.8" stroke="#000" stroke-width="1.1" stroke-linecap="butt"/>
<rect x="181.9" y="294" width="14.099999999999994" height="54.5" fill="#fff" stroke="#000" stroke-width="1"/>
<line x1="188.95" y1="348.5" x2="188.95" y2="351.0" stroke="#000" stroke-width="1" stroke-linecap="butt"/>
<line x1="210.75" y1="292.4" x2="210.75" y2="296" stroke="#000" stroke-width="1.1" stroke-linecap="butt"/>
<line x1="206.95" y1="292.4" x2="214.55" y2="292.4" stroke="#000" stroke-width="1.1" stroke-linecap="butt"/>
<rect x="203.6" y="296" width="14.300000000000011" height="52.5" fill="#000" stroke="#000" stroke-width="1"/>
<line x1="210.75" y1="348.5" x2="210.75" y2="351.0" stroke="#000" stroke-width="1" stroke-linecap="butt"/>
<text x="166.6" y="314.5" font-size="5.9" text-anchor="middle" fill="#2a2a2a" transform="rotate(-90 166.6 314.5)" word-spacing="0.9" letter-spacing="0.12">% of IL-17<tspan dy="-2.4" font-size="4.8">-</tspan><tspan dy="2.4">​</tspan> IFN-γ<tspan dy="-2.4" font-size="4.4">+</tspan><tspan dy="2.4">​</tspan> cells</text>
<text x="188.75" y="360.3" font-size="8" text-anchor="middle" fill="#2a2a2a" font-weight="bold">-</text>
<text x="197.5" y="360.3" font-size="6.5" text-anchor="start" fill="#2a2a2a">Infliximab</text>
<path d="M188.75 284.8V281.5H210.3V284.8" fill="none" stroke="#444" stroke-width="0.8"/>
<text x="199.525" y="280.3" font-size="8.8" text-anchor="middle" fill="#000" font-weight="bold">*</text>
<line x1="278.1" y1="178.0" x2="278.1" y2="245.3" stroke="#000" stroke-width="1" stroke-linecap="butt"/>
<line x1="277.6" y1="244.8" x2="322.5" y2="244.8" stroke="#000" stroke-width="1.2" stroke-linecap="butt"/>
<line x1="275.8" y1="244.8" x2="278.1" y2="244.8" stroke="#000" stroke-width="1" stroke-linecap="butt"/>
<text x="275.20000000000005" y="246.95000000000002" font-size="6.3" text-anchor="end" fill="#2a2a2a">0</text>
<line x1="275.8" y1="222.70000000000002" x2="278.1" y2="222.70000000000002" stroke="#000" stroke-width="1" stroke-linecap="butt"/>
<text x="275.20000000000005" y="224.85000000000002" font-size="6.3" text-anchor="end" fill="#2a2a2a">1</text>
<line x1="275.8" y1="200.60000000000002" x2="278.1" y2="200.60000000000002" stroke="#000" stroke-width="1" stroke-linecap="butt"/>
<text x="275.20000000000005" y="202.75000000000003" font-size="6.3" text-anchor="end" fill="#2a2a2a">2</text>
<line x1="275.8" y1="178.5" x2="278.1" y2="178.5" stroke="#000" stroke-width="1" stroke-linecap="butt"/>
<text x="275.20000000000005" y="180.65" font-size="6.3" text-anchor="end" fill="#2a2a2a">3</text>
<line x1="288.75" y1="193.75" x2="288.75" y2="202" stroke="#000" stroke-width="1.1" stroke-linecap="butt"/>
<line x1="284.95" y1="193.75" x2="292.55" y2="193.75" stroke="#000" stroke-width="1.1" stroke-linecap="butt"/>
<rect x="281.75" y="202" width="14.0" height="42.80000000000001" fill="#fff" stroke="#000" stroke-width="1"/>
<line x1="288.75" y1="244.8" x2="288.75" y2="247.3" stroke="#000" stroke-width="1" stroke-linecap="butt"/>
<line x1="311.25" y1="208.75" x2="311.25" y2="215.5" stroke="#000" stroke-width="1.1" stroke-linecap="butt"/>
<line x1="307.45" y1="208.75" x2="315.05" y2="208.75" stroke="#000" stroke-width="1.1" stroke-linecap="butt"/>
<rect x="304.25" y="215.5" width="14.0" height="29.30000000000001" fill="#000" stroke="#000" stroke-width="1"/>
<line x1="311.25" y1="244.8" x2="311.25" y2="247.3" stroke="#000" stroke-width="1" stroke-linecap="butt"/>
<text x="267.6" y="211.5" font-size="5.9" text-anchor="middle" fill="#2a2a2a" transform="rotate(-90 267.6 211.5)" word-spacing="0.9" letter-spacing="0.12">% of IL-17<tspan dy="-2.4" font-size="4.4">+</tspan><tspan dy="2.4">​</tspan> IFN-γ<tspan dy="-2.4" font-size="4.4">+</tspan><tspan dy="2.4">​</tspan> cells</text>
<text x="290" y="257.6" font-size="8" text-anchor="middle" fill="#2a2a2a" font-weight="bold">-</text>
<text x="311" y="257.6" font-size="8" text-anchor="middle" fill="#2a2a2a">H<tspan dy="1.9" font-size="5.4">2</tspan><tspan dy="-1.9">R</tspan></text>
<path d="M289.5 177.55V174.25H312V177.55" fill="none" stroke="#444" stroke-width="0.8"/>
<text x="301.35" y="173.05" font-size="8.8" text-anchor="middle" fill="#000" font-weight="bold" letter-spacing="1.2">**</text>
<line x1="347.5" y1="177.8" x2="347.5" y2="245.3" stroke="#000" stroke-width="1" stroke-linecap="butt"/>
<line x1="347.0" y1="244.8" x2="391.5" y2="244.8" stroke="#000" stroke-width="1.2" stroke-linecap="butt"/>
<line x1="345.2" y1="244.8" x2="347.5" y2="244.8" stroke="#000" stroke-width="1" stroke-linecap="butt"/>
<text x="344.6" y="246.95000000000002" font-size="6.3" text-anchor="end" fill="#2a2a2a">0</text>
<line x1="345.2" y1="231.5" x2="347.5" y2="231.5" stroke="#000" stroke-width="1" stroke-linecap="butt"/>
<text x="344.6" y="233.65" font-size="6.3" text-anchor="end" fill="#2a2a2a">1</text>
<line x1="345.2" y1="218.20000000000002" x2="347.5" y2="218.20000000000002" stroke="#000" stroke-width="1" stroke-linecap="butt"/>
<text x="344.6" y="220.35000000000002" font-size="6.3" text-anchor="end" fill="#2a2a2a">2</text>
<line x1="345.2" y1="204.9" x2="347.5" y2="204.9" stroke="#000" stroke-width="1" stroke-linecap="butt"/>
<text x="344.6" y="207.05" font-size="6.3" text-anchor="end" fill="#2a2a2a">3</text>
<line x1="345.2" y1="191.60000000000002" x2="347.5" y2="191.60000000000002" stroke="#000" stroke-width="1" stroke-linecap="butt"/>
<text x="344.6" y="193.75000000000003" font-size="6.3" text-anchor="end" fill="#2a2a2a">4</text>
<line x1="345.2" y1="178.3" x2="347.5" y2="178.3" stroke="#000" stroke-width="1" stroke-linecap="butt"/>
<text x="344.6" y="180.45000000000002" font-size="6.3" text-anchor="end" fill="#2a2a2a">5</text>
<line x1="358.25" y1="188.75" x2="358.25" y2="200" stroke="#000" stroke-width="1.1" stroke-linecap="butt"/>
<line x1="354.45" y1="188.75" x2="362.05" y2="188.75" stroke="#000" stroke-width="1.1" stroke-linecap="butt"/>
<rect x="351.25" y="200" width="14.0" height="44.80000000000001" fill="#fff" stroke="#000" stroke-width="1"/>
<line x1="358.25" y1="244.8" x2="358.25" y2="247.3" stroke="#000" stroke-width="1" stroke-linecap="butt"/>
<line x1="380.75" y1="198.75" x2="380.75" y2="207.5" stroke="#000" stroke-width="1.1" stroke-linecap="butt"/>
<line x1="376.95" y1="198.75" x2="384.55" y2="198.75" stroke="#000" stroke-width="1.1" stroke-linecap="butt"/>
<rect x="373.75" y="207.5" width="14.0" height="37.30000000000001" fill="#000" stroke="#000" stroke-width="1"/>
<line x1="380.75" y1="244.8" x2="380.75" y2="247.3" stroke="#000" stroke-width="1" stroke-linecap="butt"/>
<text x="337.4" y="211.5" font-size="5.9" text-anchor="middle" fill="#2a2a2a" transform="rotate(-90 337.4 211.5)" word-spacing="0.9" letter-spacing="0.12">% of IL-17<tspan dy="-2.4" font-size="4.4">+</tspan><tspan dy="2.4">​</tspan> IFN-γ<tspan dy="-2.4" font-size="4.8">-</tspan><tspan dy="2.4">​</tspan> cells</text>
<text x="359.5" y="257.6" font-size="8" text-anchor="middle" fill="#2a2a2a" font-weight="bold">-</text>
<text x="380.7" y="257.6" font-size="8" text-anchor="middle" fill="#2a2a2a">H<tspan dy="1.9" font-size="5.4">2</tspan><tspan dy="-1.9">R</tspan></text>
<path d="M359.25 177.55V174.25H381.75V177.55" fill="none" stroke="#444" stroke-width="0.8"/>
<text x="370.5" y="173.05" font-size="8.8" text-anchor="middle" fill="#000" font-weight="bold">*</text>
<line x1="417.6" y1="177.3" x2="417.6" y2="245.3" stroke="#000" stroke-width="1" stroke-linecap="butt"/>
<line x1="417.1" y1="244.8" x2="461.5" y2="244.8" stroke="#000" stroke-width="1.2" stroke-linecap="butt"/>
<line x1="415.3" y1="244.8" x2="417.6" y2="244.8" stroke="#000" stroke-width="1" stroke-linecap="butt"/>
<text x="414.5" y="246.95000000000002" font-size="5.7" text-anchor="end" fill="#2a2a2a">0</text>
<line x1="415.3" y1="222.45000000000002" x2="417.6" y2="222.45000000000002" stroke="#000" stroke-width="1" stroke-linecap="butt"/>
<text x="414.5" y="224.60000000000002" font-size="5.7" text-anchor="end" fill="#2a2a2a">10</text>
<line x1="415.3" y1="200.10000000000002" x2="417.6" y2="200.10000000000002" stroke="#000" stroke-width="1" stroke-linecap="butt"/>
<text x="414.5" y="202.25000000000003" font-size="5.7" text-anchor="end" fill="#2a2a2a">20</text>
<line x1="415.3" y1="177.75" x2="417.6" y2="177.75" stroke="#000" stroke-width="1" stroke-linecap="butt"/>
<text x="414.5" y="179.9" font-size="5.7" text-anchor="end" fill="#2a2a2a">30</text>
<line x1="428.75" y1="183" x2="428.75" y2="188.75" stroke="#000" stroke-width="1.1" stroke-linecap="butt"/>
<line x1="424.95" y1="183" x2="432.55" y2="183" stroke="#000" stroke-width="1.1" stroke-linecap="butt"/>
<rect x="421.75" y="188.75" width="14.0" height="56.05000000000001" fill="#fff" stroke="#000" stroke-width="1"/>
<line x1="428.75" y1="244.8" x2="428.75" y2="247.3" stroke="#000" stroke-width="1" stroke-linecap="butt"/>
<line x1="450.5" y1="190" x2="450.5" y2="196.25" stroke="#000" stroke-width="1.1" stroke-linecap="butt"/>
<line x1="446.7" y1="190" x2="454.3" y2="190" stroke="#000" stroke-width="1.1" stroke-linecap="butt"/>
<rect x="443.5" y="196.25" width="14" height="48.55000000000001" fill="#000" stroke="#000" stroke-width="1"/>
<line x1="450.5" y1="244.8" x2="450.5" y2="247.3" stroke="#000" stroke-width="1" stroke-linecap="butt"/>
<text x="405.6" y="211.5" font-size="5.9" text-anchor="middle" fill="#2a2a2a" transform="rotate(-90 405.6 211.5)" word-spacing="0.9" letter-spacing="0.12">% of IL-17<tspan dy="-2.4" font-size="4.8">-</tspan><tspan dy="2.4">​</tspan> IFN-γ<tspan dy="-2.4" font-size="4.4">+</tspan><tspan dy="2.4">​</tspan> cells</text>
<text x="428.75" y="257.6" font-size="8" text-anchor="middle" fill="#2a2a2a" font-weight="bold">-</text>
<text x="450" y="257.6" font-size="8" text-anchor="middle" fill="#2a2a2a">H<tspan dy="1.9" font-size="5.4">2</tspan><tspan dy="-1.9">R</tspan></text>
<line x1="278" y1="291.5" x2="278" y2="356.7" stroke="#000" stroke-width="1" stroke-linecap="butt"/>
<line x1="277.5" y1="356.2" x2="321.5" y2="356.2" stroke="#000" stroke-width="1.2" stroke-linecap="butt"/>
<line x1="275.7" y1="356.2" x2="278" y2="356.2" stroke="#000" stroke-width="1" stroke-linecap="butt"/>
<text x="273.8" y="358.34999999999997" font-size="6.3" text-anchor="end" fill="#2a2a2a">0</text>
<line x1="275.7" y1="340.2" x2="278" y2="340.2" stroke="#000" stroke-width="1" stroke-linecap="butt"/>
<text x="273.8" y="342.34999999999997" font-size="6.3" text-anchor="end" fill="#2a2a2a">2</text>
<line x1="275.7" y1="324.2" x2="278" y2="324.2" stroke="#000" stroke-width="1" stroke-linecap="butt"/>
<text x="273.8" y="326.34999999999997" font-size="6.3" text-anchor="end" fill="#2a2a2a">4</text>
<line x1="275.7" y1="308.2" x2="278" y2="308.2" stroke="#000" stroke-width="1" stroke-linecap="butt"/>
<text x="273.8" y="310.34999999999997" font-size="6.3" text-anchor="end" fill="#2a2a2a">6</text>
<line x1="275.7" y1="292.2" x2="278" y2="292.2" stroke="#000" stroke-width="1" stroke-linecap="butt"/>
<text x="273.8" y="294.34999999999997" font-size="6.3" text-anchor="end" fill="#2a2a2a">8</text>
<line x1="288.75" y1="326" x2="288.75" y2="328.25" stroke="#000" stroke-width="1.1" stroke-linecap="butt"/>
<line x1="284.95" y1="326" x2="292.55" y2="326" stroke="#000" stroke-width="1.1" stroke-linecap="butt"/>
<rect x="281.75" y="328.25" width="14.0" height="27.94999999999999" fill="#888" stroke="#000" stroke-width="1"/>
<line x1="288.75" y1="356.2" x2="288.75" y2="358.7" stroke="#000" stroke-width="1" stroke-linecap="butt"/>
<line x1="310.0" y1="303.25" x2="310.0" y2="307" stroke="#000" stroke-width="1.1" stroke-linecap="butt"/>
<line x1="306.2" y1="303.25" x2="313.8" y2="303.25" stroke="#000" stroke-width="1.1" stroke-linecap="butt"/>
<rect x="303.0" y="307" width="14.0" height="49.19999999999999" fill="url(#chk)" stroke="#000" stroke-width="1"/>
<line x1="310.0" y1="356.2" x2="310.0" y2="358.7" stroke="#000" stroke-width="1" stroke-linecap="butt"/>
<text x="267" y="319.2" font-size="6.4" text-anchor="middle" fill="#2a2a2a" transform="rotate(-90 267 319.2)">mRNA (relative expression)</text>
<text x="289.5" y="364.9" font-size="6.8" text-anchor="middle" fill="#2a2a2a">T<tspan dy="2.2" font-size="6.1" letter-spacing="0.35">EM</tspan></text>
<text x="310" y="364.9" font-size="6.8" text-anchor="middle" fill="#2a2a2a">T<tspan dy="2.2" font-size="6.1" letter-spacing="0.35">CM</tspan></text>
<path d="M288.25 297.8V294.5H310.75V297.8" fill="none" stroke="#444" stroke-width="0.8"/>
<text x="300.1" y="294.5" font-size="8.8" text-anchor="middle" fill="#000" font-weight="bold" letter-spacing="1.2">***</text>
<line x1="357.3" y1="291.5" x2="357.3" y2="356.7" stroke="#000" stroke-width="1" stroke-linecap="butt"/>
<line x1="356.8" y1="356.2" x2="400" y2="356.2" stroke="#000" stroke-width="1.2" stroke-linecap="butt"/>
<line x1="355.0" y1="356.2" x2="357.3" y2="356.2" stroke="#000" stroke-width="1" stroke-linecap="butt"/>
<text x="354.3" y="358.34999999999997" font-size="5.7" text-anchor="end" fill="#2a2a2a">0</text>
<line x1="355.0" y1="334.84999999999997" x2="357.3" y2="334.84999999999997" stroke="#000" stroke-width="1" stroke-linecap="butt"/>
<text x="354.3" y="336.99999999999994" font-size="5.7" text-anchor="end" fill="#2a2a2a">10</text>
<line x1="355.0" y1="313.5" x2="357.3" y2="313.5" stroke="#000" stroke-width="1" stroke-linecap="butt"/>
<text x="354.3" y="315.65" font-size="5.7" text-anchor="end" fill="#2a2a2a">20</text>
<line x1="355.0" y1="292.15" x2="357.3" y2="292.15" stroke="#000" stroke-width="1" stroke-linecap="butt"/>
<text x="354.3" y="294.29999999999995" font-size="5.7" text-anchor="end" fill="#2a2a2a">30</text>
<line x1="367.5" y1="316.5" x2="367.5" y2="322.25" stroke="#000" stroke-width="1.1" stroke-linecap="butt"/>
<line x1="363.7" y1="316.5" x2="371.3" y2="316.5" stroke="#000" stroke-width="1.1" stroke-linecap="butt"/>
<rect x="360.5" y="322.25" width="14" height="33.94999999999999" fill="#888" stroke="#000" stroke-width="1"/>
<line x1="367.5" y1="356.2" x2="367.5" y2="358.7" stroke="#000" stroke-width="1" stroke-linecap="butt"/>
<line x1="388.75" y1="301" x2="388.75" y2="310.5" stroke="#000" stroke-width="1.1" stroke-linecap="butt"/>
<line x1="384.95" y1="301" x2="392.55" y2="301" stroke="#000" stroke-width="1.1" stroke-linecap="butt"/>
<rect x="381.75" y="310.5" width="14.0" height="45.69999999999999" fill="url(#chk)" stroke="#000" stroke-width="1"/>
<line x1="388.75" y1="356.2" x2="388.75" y2="358.7" stroke="#000" stroke-width="1" stroke-linecap="butt"/>
<text x="345.2" y="319.2" font-size="6.4" text-anchor="middle" fill="#2a2a2a" transform="rotate(-90 345.2 319.2)">mRNA (relative expression)</text>
<text x="368.5" y="364.9" font-size="6.8" text-anchor="middle" fill="#2a2a2a">T<tspan dy="2.2" font-size="6.1" letter-spacing="0.35">EM</tspan></text>
<text x="390" y="364.9" font-size="6.8" text-anchor="middle" fill="#2a2a2a">T<tspan dy="2.2" font-size="6.1" letter-spacing="0.35">CM</tspan></text>
<text x="301" y="283.3" font-size="8.6" text-anchor="middle" fill="#2a2a2a" font-style="italic">HRH2</text>
<text x="379" y="282.8" font-size="8.6" text-anchor="middle" fill="#2a2a2a" font-style="italic">HRH4</text>
</svg></body></html>
